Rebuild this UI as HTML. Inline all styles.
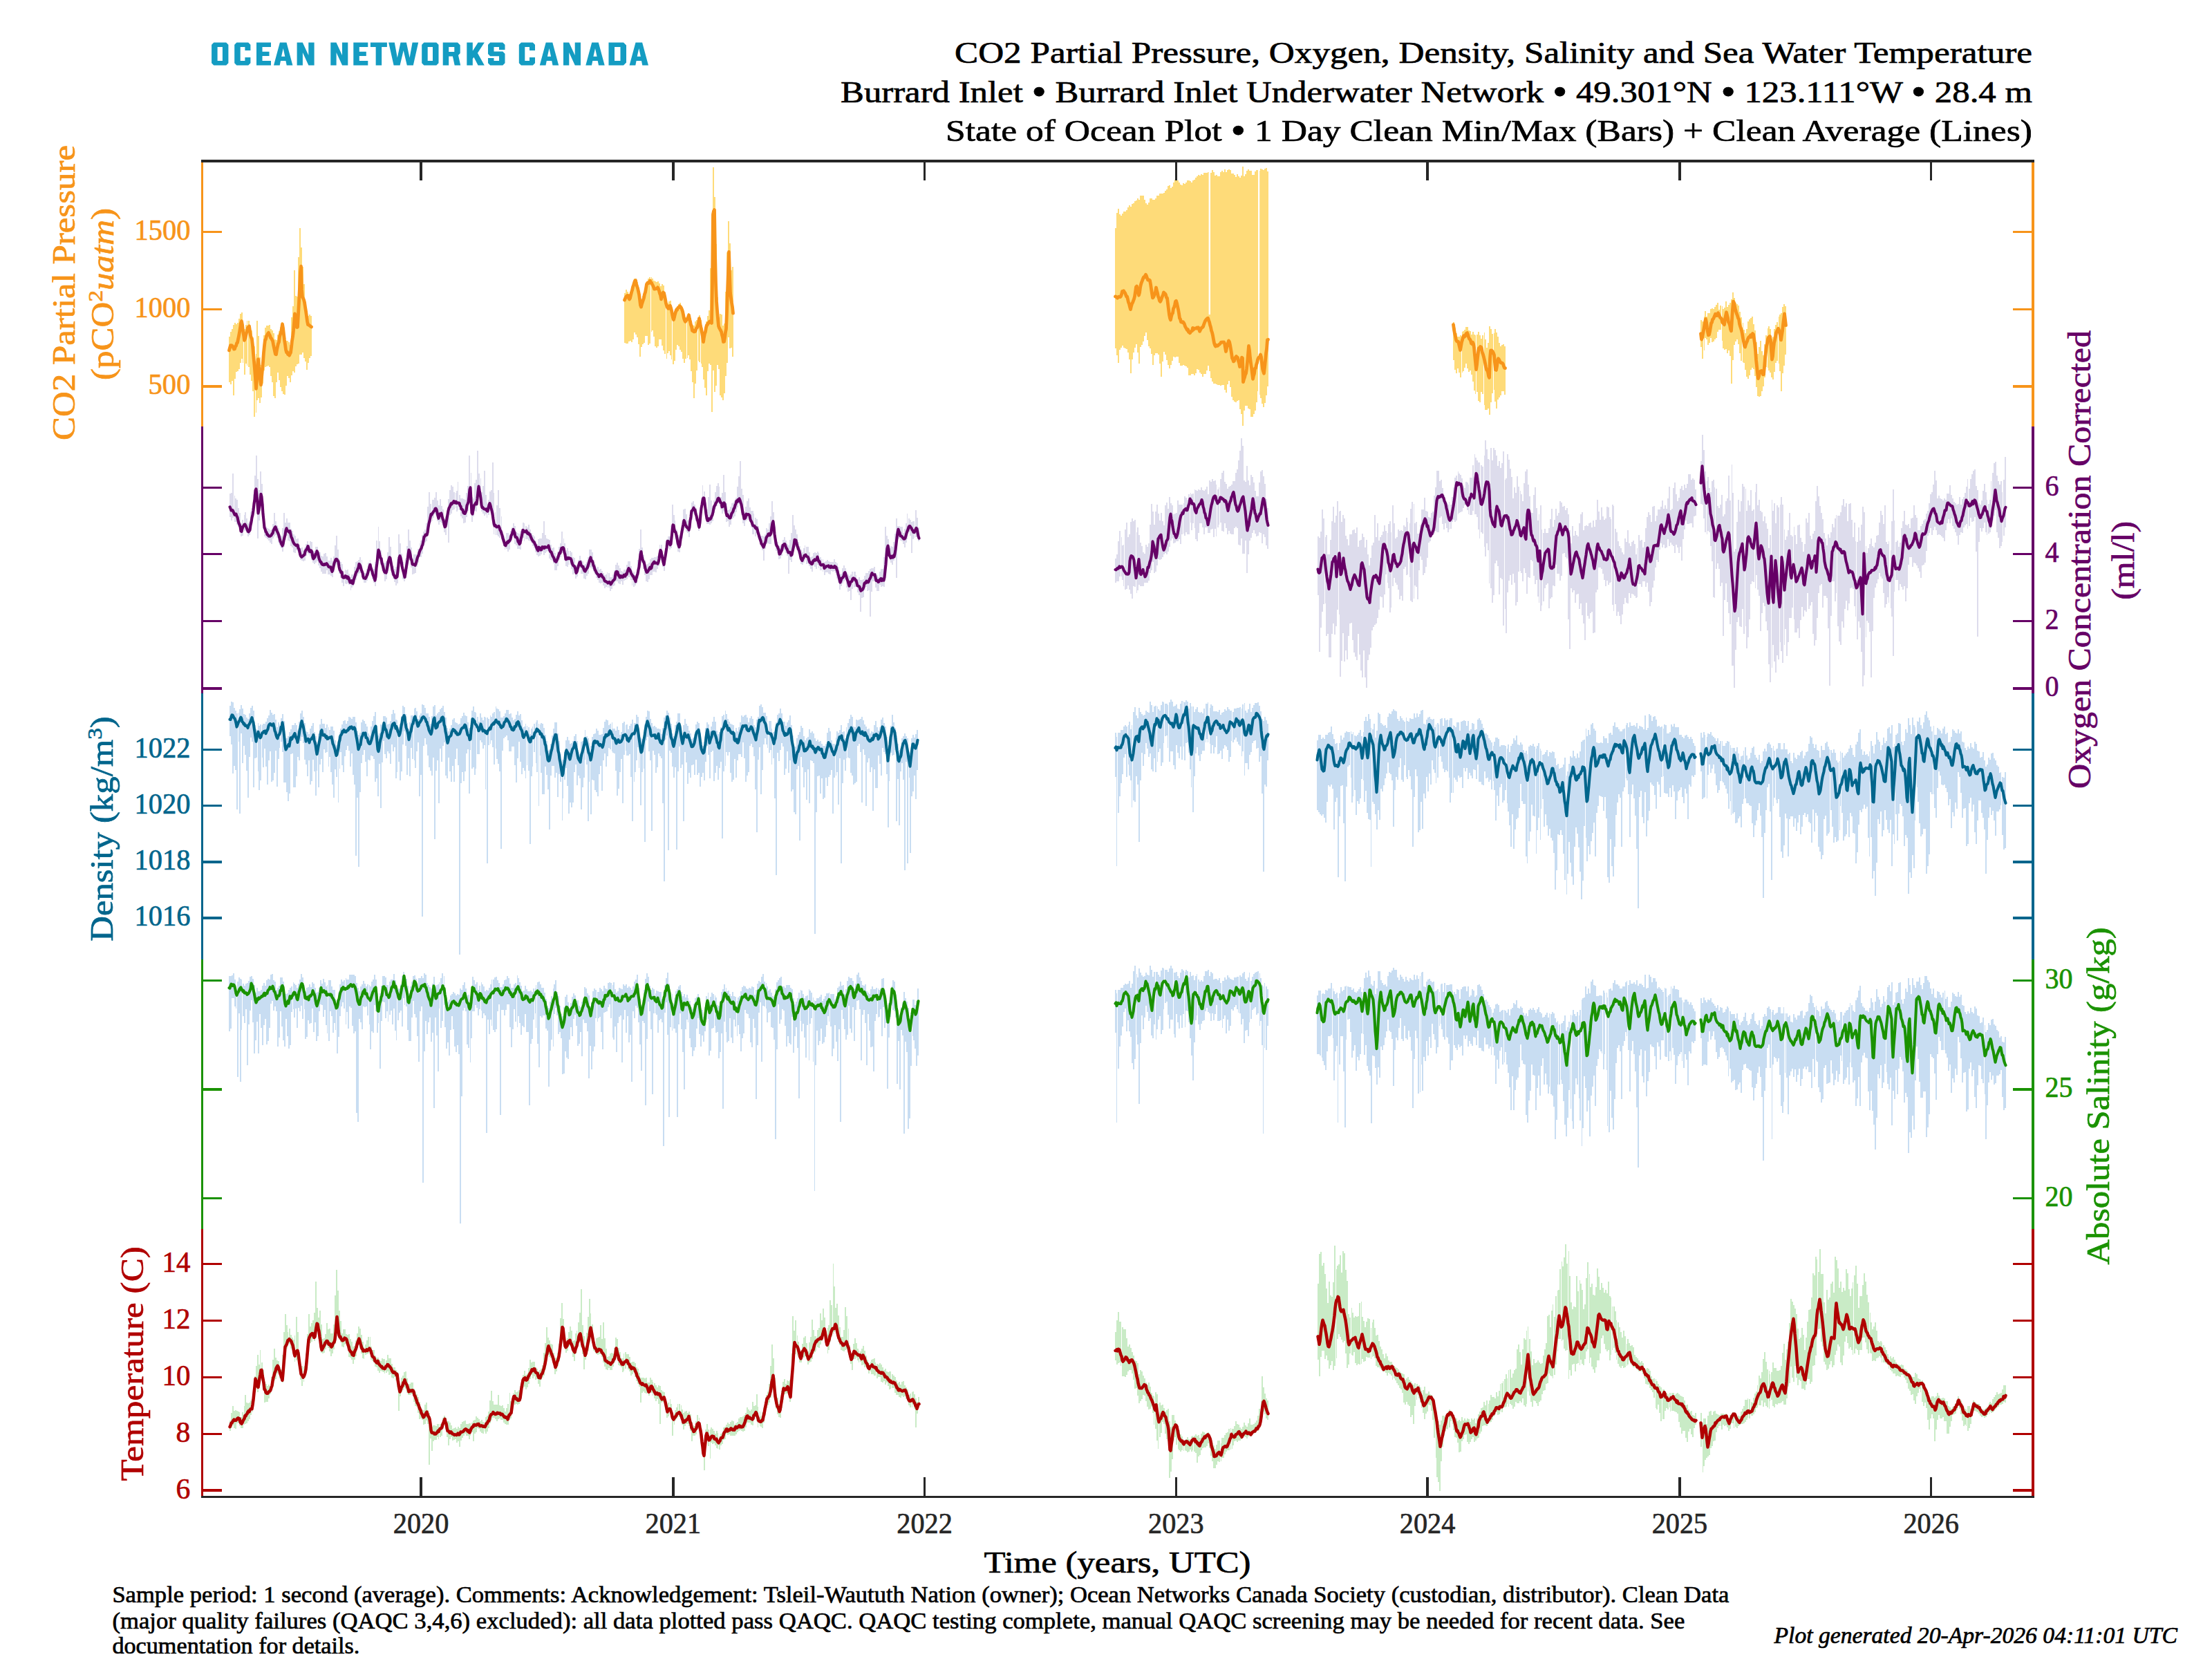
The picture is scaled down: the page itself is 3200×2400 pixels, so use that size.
<!DOCTYPE html>
<html><head><meta charset="utf-8"><title>State of Ocean Plot</title>
<style>html,body{margin:0;padding:0;background:#fff}svg{display:block}text{font-family:"Liberation Serif",serif}</style>
</head><body>
<svg width="3200" height="2400" viewBox="0 0 3200 2400">
<rect width="3200" height="2400" fill="#fff"/>
<path d="M331,487h2v-7h2v-4h2v-6h2v-3h2v2h2v-2h2v-6h2v-7h2v-2h2v13h2v11h2v-6h2v-6h2h2v9h2v5h2v10h2v13h2v11h2v-48h2v22h2v31h2v11h2v-20h2v-23h2v-11h2v-3h2h2v-1h2v6h2v2h2v4h2v9h2v1h2v-8h2v-5h2v-6h2v-7h2v6h2v13h2v8h2h2v2h2v4h2v-40h2v-16h2v-52h2v37h2v1h2v-57h2v-42h2v28h2v28h2v25h2v26h2v14h2v6h2v-2h2v2h2V515h-2v3h-2v7h-2v10h-2v-12h-2v-5h-2v-8h-2v3h-2h-2v13h-2v1h-2v3h-2v9h-2v-2h-2v6h-2v10h-2v-6h-2v-3h-2v14h-2v13h-2v-1h-2v-4h-2v-6h-2v-10h-2v-11h-2v14h-2v23h-2v-3h-2v-20h-2v-9h-2v-13h-2v-2h-2v1h-2v1h-2v5h-2v19h-2v20h-2v8h-2v-7h-2v3h-2v18h-2v6h-2v-37h-2v-15h-2v-9h-2v-11h-2v-2h-2v-3h-2v16h-2v-17h-2v-6h-2v6h-2v9h-2v3h-2v1h-2v10h-2v24h-2v-21h-2v5h-2v-3h-2z M903,424h2v-5h2v3h2v3h2v-3h2v-5h2v-7h2v-7h2h2v5h2v8h2v14h2v4h2v-6h2v-6h2v-8h2v-7h2v-4h2v-2h2h2v2h2v3h2v1h2v1h2v-1h2v3h2v4h2v-3h2v2h2v12h2v11h2v3h2v-3h2v-1h2v10h2v9h2v-4h2v-5h2v-2h2v-3h2v-2h2v4h2v5h2v9h2v3h2v-2h2v-4h2v4h2v7h2v6h2v1h2v-6h2v-2h2v-3h2v-4h2v7h2v11h2v9h2v-9h2v-9h2v-8h2v-8h2v-61h2v-45h2v-101h2v43h2v68h2v77h2v29h2v-5h2v1h2v16h2v-3h2v-46h2v-57h2v-45h2v32h2v39h2v-5h2V516h-2v-13h-2v1h-2v-16h-2v37h-2v19h-2v25h-2v10h-2v-4h-2v-3h-2v-38h-2v-6h-2v30h-2v9h-2v-31h-2v60h-2v-68h-2v-2h-2v11h-2v35h-2v-11h-2v-12h-2v-18h-2v-5h-2v-2h-2v-2h-2v14h-2v19h-2v21h-2v-23h-2v-16h-2v-17h-2v-6h-2v4h-2v1h-2v6h-2v-6h-2v-10h-2v-3h-2v-5h-2v-2h-2v7h-2v16h-2v5h-2v-7h-2v-6h-2v-6h-2v3h-2v8h-2v-7h-2v-5h-2v-7h-2v-9h-2h-2v10h-2v2h-2v-2h-2v-14h-2v-9h-2v2h-2v17h-2v2h-2v-13h-2h-2v10h-2v2h-2v4h-2v14h-2v-18h-2v-10h-2v-4h-2v-3h-2v10h-2v4h-2v-2h-2v1h-2v3h-2h-2v-1h-2z M1613,330h2v-22h2v-6h2v8h2v2h2v-3h2v-3h2h2v-2h2v-4h2v-3h2v2h2v-4h2v-1h2v-3h2v-1h2v-3h2v2h2v-6h2h2h2v6h2v5h2v2h2v-3h2v-6h2h2v2h2h2v-2h2v-4h2h2v-3h2h2h2v-1h2v-3h2v-2h2v-5h2v-1h2v4h2v-2h2v-6h2v-4h2h2v1h2v3h2v3h2v1h2v-3h2v1h2v-2h2v-3h2h2v1h2v2h2v-3h2v-1h2v-3h2v-2h2v-2h2v1h2v-2h2v1h2v-3h2h2h2v-1h2v3h2v-2h2v-4h2v3h2v5h2v-1h2v2h2h2v-6h2v-2h2v2h2v-4h2v4h2v-3h2v-1h2v1h2v5h2h2v2h2v3h2v-4h2v3h2v2h2v-3h2v-13h2v14h2v-3h2v-5h2v-2h2v2h2h2v6h2h2v-5h2v-2h2h2v1h2v-3h2v1h2v1h2v-2h2v-1h2v5h2V559h-2v13h-2v11h-2v6h-2v-5h-2v-8h-2v-5h-2v-5h-2v16h-2v12h-2v5h-2v4h-2h-2v-11h-2v-1h-2v-4h-2h-2v7h-2v22h-2v-17h-2v-7h-2v-13h-2v1h-2v2h-2v-1h-2v-2h-2v-5h-2v-14h-2v-9h-2v5h-2v12h-2v-4h-2v-7h-2h-2v1h-2v-1h-2h-2v-1h-2v-1h-2h-2v-3h-2v-5h-2v-10h-2v-8h-2v7h-2v5h-2h-2v4h-2v-4h-2v-2h-2v-4h-2v-1h-2v6h-2v3h-2v-2h-2h-2v2h-2h-2v-11h-2v-2h-2v-1h-2v-1h-2v1h-2h-2v-4h-2v-9h-2h-2v1h-2v-1h-2v6h-2v6h-2v5h-2v-5h-2v-7h-2v-8h-2v-4h-2v14h-2v22h-2v-19h-2v-13h-2v-2h-2h-2v3h-2v14h-2v-16h-2v-8h-2v-3h-2v-9h-2v-11h-2v5h-2v8h-2v5h-2v3h-2v24h-2v-16h-2v-12h-2v5h-2v7h-2v10h-2v20h-2v-20h-2v-10h-2v-5h-2v-1h-2v-1h-2v-3h-2v3h-2v3h-2v19h-2v-11h-2v-10h-2z M2102,466h2v8h2v8h2v5h2h2v-2h2v-5h2v-1h2v-2h2v-4h2h2v5h2v1h2v5h2v-4h2v4h2v1h2v-1h2v-4h2v5h2v5h2v-5h2v-4h2v10h2v12h2v-7h2v-24h2v4h2v7h2v-1h2v-6h2v5h2v6h2v9h2v5h2v-2h2v-1h2v3h2V571h-2v-5h-2h-2v6h-2v3h-2v3h-2v13h-2v-10h-2v-17h-2v5h-2v13h-2v18h-2v-9h-2v2h-2h-2v-7h-2v-16h-2v-3h-2v15h-2v-2h-2v-13h-2v3h-2v-5h-2v-13h-2v-10h-2v-6h-2v2h-2v-5h-2v-7h-2v6h-2v5h-2v2h-2v7h-2v-7h-2v-6h-2v7h-2v-5h-2v-14h-2z M2460,463h2v2h2v-7h2v-8h2v8h2v-5h2h2v-6h2v-1h2v1h2v-3h2v-3h2v-3h2v10h2v-6h2v1h2v4h2v-2h2v-9h2v8h2v-3h2v-3h2v-5h2v-10h2v8h2v7h2v2h2v2h2v9h2v8h2v8h2v10h2v5h2v-6h2v-11h2v-3h2v-2h2v-2h2v11h2v9h2v17h2v17h2v-10h2v-9h2v15h2v6h2v-16h2v-13h2v-10h2v-3h2v4h2v14h2v-3h2v-11h2v-6h2v-4h2v-8h2v-3h2v-2h2v-9h2v-4h2v3h2V513h-2v16h-2v11h-2v26h-2v-29h-2v-11h-2v-4h-2v3h-2v13h-2v11h-2v-3h-2v-7h-2v-3h-2v-4h-2v-1h-2v15h-2v13h-2v7h-2v7h-2v1h-2v-1h-2v-13h-2v-16h-2v-10h-2v-2h-2v3h-2v8h-2v5h-2v-3h-2v-10h-2v-10h-2v-1h-2v-2h-2v-11h-2v-13h-2v-7h-2v3h-2v5h-2v22h-2v34h-2v-40h-2v-8h-2v4h-2v-6h-2v1h-2v-2h-2v-11h-2v-16h-2h-2v3h-2v9h-2v2h-2v3h-2v1h-2v-6h-2v7h-2v3h-2v-8h-2v-2h-2v18h-2v12h-2v-17h-2z" fill="#FEDB79" shape-rendering="crispEdges"/>
<path d="M352.5,464v62M358.5,463v67M369.5,511v87M379.5,507v49M941.5,400v81M963.5,435v85M972.5,444v76M993.5,456v63M1009.5,459v64M1013.5,462v65M2114.5,479v61M2135.5,484v88M2146.5,480v108M2160.5,481v85M2464.5,457v51M2490.5,442v52M2520.5,466v59M2556.5,474v59M2572.5,457v69" stroke="#fff" stroke-width="1" fill="none" shape-rendering="crispEdges"/>
<rect x="1748.6" y="240" width="2.4" height="215" fill="#fff"/>
<rect x="1820" y="240" width="2.2" height="335" fill="#fff"/>
<path d="M331.5,506.9l1,-3.8l1,-3.5l1,1.5l1,-1.3l1,1.3l1,1.4l1,2.5l1,-.1l1,-3.6l1,-1l1,-3.8l1,-.7l1,-5l1,-4.9l1,-5.4l1,-6.4l1,-6.8l1,-2.7l1,5.2l1,8.9l1,6.1l1,7.6l1,-2.5l1,-3.5l1,-4.5l1,-3.2l1,-4.8l1,-.6l1,-1.5l1,7.1l1,6.5l1,3.1l1,2.8l1,8.7l1,12.1l1,10.7l1,11.5l1,13.9l1,14.2l1,-12l1,-18.7l1,-12l1,10.8l1,7.5l1,11.3l1,7.5l1,-10.9l1,-10.7l1,-11.6l1,-13.5l1,-10.1l1,-8.4l1,-.5l1,-4.8l1,-1.7l1,-2.1l1,-1.1l1,2.3l1,1.7l1,3.4l1,.5l1,2.4l1,1.4l1,5.6l1,4.5l1,4.9l1,4.4l1,.3l1,-6.5l1,-4.7l1,-4.6l1,-2l1,-7.8l1,-3.5l1,-2.9l1,-5.3l1,-6.6l1,5.7l1,9l1,8.2l1,6.5l1,7.5l1,3.9l1,-.5l1,3.3l1,-1.8l1,3.5l1,-2.2l1,-1.9l1,-7.7l1,-9.3l1,-5.9l1,-8.8l1,-11.8l1,-12.7l1,4.4l1,7.2l1,8l1,-.5l1,-18.2l1,-17.8l1,-20.6l1,-23.2l1,-8l1,33.7l1,10.6l1,1.8l1,2.4l1,3.6l1,6.8l1,6l1,7.4l1,7.1l1,5.1l1,.2l1,.9l1,.5l1,1.1l1,.5 M903.5,434.1l1,-2.4l1,-2.2l1,-1.2l1,-.8l1,.1l1,3.4l1,2l1,-1.6l1,-4.1l1,-4.2l1,-3.2l1,-4.6l1,-2.8l1,-3.4l1,-2.9l1,-.5l1,5.4l1,2.8l1,3.1l1,4.2l1,4.7l1,7.4l1,8.2l1,2.6l1,-4.1l1,-3l1,-3.2l1,-2.6l1,-5.7l1,-2.7l1,-5.7l1,-6l1,-1.4l1,-1l1,1l1,-.5l1,-3.1l1,2.7l1,.3l1,2.2l1,1.8l1,2.2l1,2.8l1,0l1,-.4l1,0l1,-.3l1,-1.6l1,2.1l1,2.8l1,4l1,2.4l1,5.8l1,-3.9l1,-4.5l1,-1.4l1,.8l1,4.4l1,5l1,5.6l1,3.3l1,2.6l1,1.3l1,.3l1,-3.5l1,-.6l1,3.1l1,4l1,5.5l1,4.8l1,2.9l1,-3.5l1,-4.5l1,-3.3l1,-3.2l1,.3l1,-2.5l1,-1.3l1,-.5l1,-1.4l1,2.2l1,.4l1,2.3l1,2.9l1,4.8l1,5.3l1,2.9l1,1.8l1,-1.9l1,-.7l1,-1.5l1,-2.3l1,-3.1l1,5.3l1,3.9l1,4.9l1,2.8l1,5.7l1,-.9l1,2.4l1,-.1l1,-.2l1,-2.3l1,-2.6l1,-1l1,-3l1,-3.2l1,-6.9l1,5.1l1,6.1l1,4.4l1,4.9l1,5.9l1,7.7l1,-7l1,-5.1l1,-2.7l1,-6l1,-3.7l1,-.6l1,-2.5l1,.1l1,-2.2l1,1.2l1,-.8l1,2l1,-55.3l1,-101.9l1,-4.9l1,-1.8l1,63.6l1,42.3l1,26.3l1,13.3l1,11.9l1,10.8l1,2.6l1,1.9l1,1.8l1,1.8l1,4.7l1,3.7l1,6.3l1,-.3l1,-5.4l1,-7.9l1,-5.2l1,-24.2l1,-29.8l1,-28.3l1,-29.1l1,33.2l1,26.6l1,7.2l1,6.9l1,5.9l1,9.1 M1613.5,428.9l1,.3l1,.9l1,1.1l1,-1.2l1,-.9l1,.5l1,.1l1,-.9l1,-2.9l1,-4.5l1,.5l1,-1.2l1,1.7l1,1.3l1,2.4l1,2.9l1,-.1l1,4l1,4.5l1,2.4l1,4.3l1,3.5l1,-4.5l1,-3.6l1,-1.7l1,-2.7l1,-2.5l1,-3.7l1,-6.7l1,-7l1,-1.1l1,5.5l1,2.9l1,4.7l1,-3.5l1,-7.6l1,-4.7l1,-3.1l1,-2.4l1,-2.8l1,-2.2l1,.3l1,-2.3l1,-1.6l1,1.9l1,3l1,2.8l1,-.1l1,0l1,.9l1,5.3l1,6.7l1,6.9l1,6.2l1,-.9l1,-2.1l1,-2.6l1,-3l1,-6.3l1,4.4l1,3.5l1,5.2l1,2.2l1,3.7l1,1.4l1,-1.9l1,-3.1l1,-2.7l1,-2.4l1,-3.3l1,1.4l1,.4l1,1.7l1,4.2l1,.3l1,8.3l1,7.9l1,8l1,5.1l1,2.5l1,-5l1,-3.7l1,-1l1,-6.7l1,-1.9l1,-3.4l1,-4.8l1,-1l1,3.1l1,5l1,4.3l1,5.6l1,7l1,1.4l1,4l1,-.2l1,1l1,-.7l1,1.2l1,2.1l1,3.2l1,1.6l1,1.9l1,1.8l1,-1l1,3.8l1,.3l1,1.1l1,-1.8l1,-.8l1,-.5l1,-4.3l1,2.6l1,-1.6l1,-.3l1,-.1l1,.2l1,-1.2l1,1l1,-1.3l1,2.2l1,3.5l1,-2.2l1,-1.6l1,-1.7l1,-.2l1,-1.1l1,-3.1l1,-2.6l1,-2.6l1,-1.5l1,-1.1l1,-1l1,-.5l1,3.1l1,2.5l1,4.5l1,3l1,5.1l1,2.6l1,4.4l1,5.6l1,5.2l1,3.2l1,1.5l1,-1.6l1,.9l1,.2l1,-1l1,-1l1,-.5l1,-1.3l1,-1.5l1,0l1,-.1l1,.2l1,-.3l1,1.8l1,6.2l1,5.6l1,-4.8l1,-5l1,-2.3l1,-3.5l1,1.6l1,4.3l1,5.9l1,6.1l1,7.3l1,1.8l1,3l1,-.8l1,-3.6l1,-1.7l1,-1.3l1,1.1l1,.6l1,5.2l1,2.9l1,5.2l1,-2.1l1,-5.1l1,-6.1l1,.7l1,34.7l1,-3.9l1,-2.7l1,-4l1,-1.8l1,-6.6l1,-10.2l1,-10.7l1,-12.2l1,6.4l1,10.7l1,7.4l1,7l1,8.1l1,8.2l1,-4.7l1,-3.1l1,-7.6l1,-.2l1,-4.9l1,-2.9l1,-4.8l1,-2.3l1,-1.1l1,-.3l1,-3.4l1,3.4l1,8.3l1,8.9l1,3.7l1,2.9l1,-8.6l1,-9.9l1,-10.5l1,-6.8l1,-12.9l1,-.2 M2102.5,469.7l1,7.3l1,5.6l1,4.1l1,5.2l1,1.8l1,.3l1,.2l1,3.7l1,4.2l1,4.4l1,-5.5l1,-5.9l1,-3.3l1,-4l1,-2.1l1,1.5l1,-.9l1,-2.5l1,-1.7l1,-.5l1,2.4l1,3.5l1,2.6l1,.8l1,2.1l1,3.9l1,.7l1,-2.4l1,2.2l1,5.4l1,11.3l1,9.9l1,10.6l1,-6.6l1,-10.3l1,-7.9l1,-6.2l1,-.4l1,-1.7l1,.4l1,2.4l1,5.9l1,2.6l1,3.8l1,4.1l1,4.8l1,5.5l1,3.8l1,1l1,2.5l1,5.8l1,2.3l1,-27.7l1,-11.6l1,-.3l1,.7l1,1.2l1,2.1l1,2.7l1,11.1l1,10.3l1,.5l1,-5.5l1,-7.6l1,-3.6l1,1.3l1,2l1,2l1,.9l1,.1l1,.3l1,1.6l1,3.2l1,2.3l1,.1 M2460.5,482.6l1,8.4l1,-2.3l1,-5.3l1,-5.5l1,-5.8l1,-5.9l1,-4.8l1,4.6l1,7.8l1,6.4l1,4.7l1,-.7l1,-4.4l1,-6.2l1,-6.1l1,-1l1,-4.4l1,-.7l1,-2.1l1,-2.2l1,-2.8l1,1.5l1,.8l1,-.2l1,-3.8l1,2l1,2.7l1,2.1l1,.9l1,.8l1,4.8l1,1.7l1,.1l1,2.1l1,-8.2l1,-5.2l1,-4.6l1,4.1l1,4l1,6.2l1,1.3l1,3.1l1,5.8l1,2.5l1,-15.6l1,-16l1,-11.1l1,1.7l1,5.6l1,4l1,3.6l1,3.2l1,2.7l1,3.5l1,1.3l1,6.9l1,3.6l1,2.8l1,3.4l1,5l1,6l1,5l1,5.5l1,2.1l1,-3.6l1,-2.6l1,-2l1,-3.5l1,-1.9l1,-1.2l1,.4l1,-2.8l1,2.7l1,-2.9l1,-2l1,1.2l1,5.8l1,7.3l1,9.1l1,14.4l1,9.5l1,9.7l1,8l1,-3.2l1,-6l1,-1.1l1,-.7l1,-.1l1,2.8l1,2.5l1,-.1l1,-11.1l1,-12l1,-9l1,-8.7l1,-4l1,-6.1l1,-3.1l1,.5l1,-1.7l1,6.1l1,14.9l1,12.6l1,-4.6l1,-11.3l1,-8.3l1,-3.8l1,-4.7l1,-6l1,-2.3l1,-1.5l1,-2.4l1,2.2l1,4.3l1,3.6l1,6.6l1,-6.8l1,-5.9l1,-9.4l1,-8.1l1,-7.9l1,8.3l1,8.6" fill="none" stroke="#F7941A" stroke-width="4.8" stroke-linejoin="round" stroke-linecap="round"/>
<path d="M332,714h2v-1h2v-28h2v32h2v4h2v2h2v12h2v7h2v15h2v-5h2v-7h2v-4h2v9h2v7h2v-2h2v-15h2v-5h2v-20h2v-27h2v-29h2v34h2v16h2v-27h2v18h2v29h2v28h2v5h2v2h2v1h2v2h2v-1h2v-8h2v-16h2v12h2v6h2v4h2v9h2v2h2v-11h2v-22h2v14h2v-6h2v6h2h2v9h2v3h2v5h2v2h2v5h2v-1h2v9h2v5h2v-1h2v4h2v-4h2v-5h2v-4h2v5h2v-5h2v1h2v13h2h2v-6h2h2v7h2v1h2v5h2v1h2v-4h2v-1h2v5h2v6h2h2v-4h2v4h2v-6h2v-16h2v-14h2v20h2v14h2v4h2v3h2v10h2v-2h2v1h2v-1h2v6h2v4h2v-3h2h2v-11h2v-7h2v-1h2v-2h2v-4h2v4h2v11h2v8h2h2v-6h2v-9h2v-4h2v5h2v6h2v2h2v-10h2v-31h2v-20h2v21h2v13h2v11h2v7h2h2v-2h2v-13h2v-22h2v14h2v17h2v11h2v4h2v-3h2v-11h2v-36h2v13h2v15h2v12h2v12h2v-17h2v-18h2v-24h2v16h2v10h2v15h2v-5h2h2h2v-8h2v-8h2v-4h2v-8h2v-5h2v-3h2v-9h2v-24h2v-21h2v17h2v-6h2h2v-3h2v-8h2v12h2v7h2v-9h2v10h2v5h2v13h2v-3h2v-10h2v-15h2v-13h2v-7h2v2h2v8h2v1h2v-3h2v-13h2v19h2v5h2h2v1h2v1h2v-10h2v-10h2v-44h2v25h2v35h2v2h2v-22h2v-5h2v-42h2v33h2v7h2v20h2v-9h2v-22h2v35h2v11h2v-4h2v-12h2v-2h2v-40h2v44h2v28h2v-10h2v-22h2v26h2v12h2v22h2v6h2v2h2v-6h2h2v4h2v-7h2v-5h2v-6h2v4h2v8h2v2h2v1h2v-4h2v-3h2v-9h2v1h2v4h2v2h2v-4h2v7h2v5h2v3h2v2h2v6h2v5h2v-7h2v-1h2h2v-8h2v-17h2v20h2v5h2v1h2v1h2v7h2v5h2v-1h2v8h2v4h2v-6h2v-7h2v-5h2v-17h2v10h2v7h2v10h2v-3h2v4h2h2v2h2v7h2v1h2v10h2h2v-7h2v-6h2v6h2v2h2v5h2v-1h2v-3h2v-7h2v-11h2h2v4h2v11h2v6h2v5h2v-1h2v4h2v-1h2v3h2v3h2v3h2v-1h2v-3h2v1h2v6h2h2v-4h2v-6h2v-8h2v-3h2v4h2v4h2v4h2v1h2v-3h2h2v-7h2v-5h2h2v7h2v6h2v2h2v5h2v-4h2v-18h2v-16h2v-28h2v26h2v11h2v7h2v8h2v-2h2v-2h2v-5h2v-2h2h2v-1h2h2v-2h2v-3h2v-13h2h2v14h2v3h2v-12h2v-13h2v-4h2h2v-16h2v-30h2v15h2v8h2v13h2v8h2v2h2v-8h2v-15h2v-16h2v-1h2v8h2v9h2h2v-11h2v-15h2v-2h2v5h2v5h2v7h2v7h2v-10h2v-19h2v-18h2v9h2v16h2v10h2v-18h2v-18h2v23h2v8h2v-8h2v-12h2v-9h2v-4h2v5h2v15h2v-6h2v-26h2v25h2v16h2v10h2v-1h2v-4h2v-5h2v-1h2v-3h2v-4h2v-16h2v-15h2v-22h2v40h2v9h2v24h2v-7h2v-8h2v-4h2v13h2v5h2h2v4h2v6h2v2h2v10h2v8h2v6h2h2v1h2v-3h2v-9h2v2h2v-9h2v-10h2v-22h2v16h2v21h2v17h2v5h2v6h2v-1h2v-1h2v-7h2v-4h2v5h2v5h2v2h2v-8h2v-10h2v-26h2v15h2v6h2v7h2v11h2v6h2v5h2v4h2v-6h2v-4h2v2h2h2v8h2v7h2v-1h2v-5h2v-1h2v1h2v-2h2v2h2v6h2v3h2h2v4h2v-1h2v-2h2v2h2v1h2h2h2v-4h2v4h2v2h2v5h2v10h2h2v-8h2v-4h2v4h2v6h2v3h2v2h2v-2h2v-4h2h2h2v5h2v6h2v-3h2v4h2h2v-1h2v-5h2v-4h2h2v-3h2v-3h2v-1h2h2v-2h2v9h2v3h2v3h2v-8h2v-4h2h2v-17h2v-44h2v13h2v5h2v13h2v-3h2v1h2v-7h2v-12h2v-22h2v11h2h2v1h2h2v9h2v-6h2v-8h2v-14h2v7h2v2h2v3h2v-1h2h2v-16h2v11h2v14h2V783h-2v-6h-2h-2v1h-2v2h-2v20h-2v-25h-2v-5h-2v10h-2v5h-2v7h-2v-5h-2v-4h-2v-1h-2v-3h-2v1h-2v56h-2v-31h-2v6h-2v6h-2v-3h-2v-3h-2v-11h-2v7h-2v23h-2v19h-2v-1h-2v1h-2v-3h-2v9h-2h-2v-5h-2v-9h-2h-2v15h-2v36h-2v-38h-2v1h-2v-6h-2v5h-2v10h-2v1h-2v20h-2v-24h-2v-4h-2v-8h-2h-2v1h-2v2h-2v16h-2v-13h-2v1h-2v-6h-2v-12h-2v3h-2v3h-2v4h-2v5h-2v-10h-2v-6h-2v-8h-2v-3h-2v1h-2v-1h-2v5h-2v-1h-2v-2h-2h-2v4h-2v-5h-2v-2h-2h-2v-3h-2v-5h-2v6h-2v-3h-2v-2h-2v9h-2v-4h-2v-4h-2v-4h-2v1h-2v-5h-2v3h-2v3h-2v-1h-2v-10h-2v-5h-2v-5h-2v-5h-2v2h-2v10h-2v10h-2v-3h-2v20h-2v-26h-2v-4h-2v-4h-2v1h-2v7h-2v4h-2v1h-2v-9h-2v-3h-2v-8h-2v-20h-2v2h-2v16h-2h-2v-1h-2v1h-2v7h-2v17h-2v-15h-2v-5h-2v-7h-2v-5h-2v-8h-2v5h-2v-3h-2h-2v-10h-2v-8h-2v-5h-2v2h-2v2h-2v7h-2v-4h-2v-12h-2v-13h-2v-3h-2v5h-2v7h-2v6h-2v2h-2v2h-2v8h-2v3h-2v-8h-2v1h-2v-15h-2h-2v3h-2v-6h-2v-5h-2v-4h-2v4h-2v5h-2v5h-2v12h-2v3h-2v2h-2v-1h-2h-2v-10h-2v-16h-2v-1h-2v11h-2v19h-2v7h-2v-6h-2v-8h-2v-9h-2v-2h-2v9h-2v13h-2v12h-2v-6h-2v-2h-2v-5h-2v3h-2v12h-2v11h-2v9h-2v-1h-2v-10h-2v-8h-2v-10h-2v2h-2v21h-2v2h-2v-5h-2v5h-2v15h-2v16h-2v-6h-2v-9h-2v-3h-2v11h-2v4h-2v5h-2v-1h-2h-2v5h-2h-2v6h-2v4h-2v-1h-2v-9h-2v-9h-2v-8h-2v-6h-2v15h-2v13h-2v7h-2v3h-2v2h-2v-2h-2v-8h-2v-4h-2h-2v3h-2v1h-2v1h-2v6h-2v-5h-2v4h-2v-1h-2v-3h-2h-2v6h-2v1h-2v4h-2v3h-2v-5h-2h-2v-1h-2v2h-2v-4h-2v-4h-2v1h-2v-1h-2v-4h-2v-3h-2v-5h-2v-4h-2v-4h-2v-2h-2h-2v9h-2v3h-2v5h-2v-1h-2v-7h-2h-2v-8h-2v5h-2v7h-2v3h-2v-8h-2v2h-2v-8h-2v-6h-2h-2v3h-2v-1h-2v-9h-2v-10h-2h-2v6h-2v4h-2v9h-2v6h-2h-2v-10h-2v-4h-2v-1h-2v-2h-2v-11h-2v1h-2v2h-2v3h-2v-5h-2v4h-2v2h-2v1h-2v-2h-2v-4h-2v-6h-2v-3h-2v-5h-2v-2h-2v-1h-2v-2h-2h-2v3h-2v-5h-2v5h-2v12h-2v-1h-2h-2v-5h-2v-2h-2v-11h-2v2h-2v6h-2v11h-2v3h-2v-4h-2v1h-2v-5h-2v-6h-2v-7h-2v1h-2v-2h-2v-2h-2h-2v-1h-2v-13h-2v-15h-2v-6h-2v6h-2v4h-2v-5h-2v2h-2v-3h-2v-3h-2v-10h-2v-13h-2v10h-2v13h-2v-1h-2v8h-2v8h-2v-28h-2v-1h-2v13h-2v9h-2v8h-2v1h-2v-7h-2v-3h-2v-9h-2h-2v2h-2v-5h-2v2h-2v1h-2v5h-2v2h-2v40h-2v-25h-2v14h-2v-4h-2v-10h-2v-3h-2v-2h-2v4h-2v-5h-2v-8h-2v-2h-2v5h-2v5h-2v2h-2v7h-2v12h-2v8h-2v2h-2v5h-2v11h-2v5h-2h-2v8h-2v6h-2v9h-2v1h-2v1h-2v-10h-2v-13h-2v1h-2v14h-2v13h-2v5h-2v-3h-2v-14h-2v-12h-2v8h-2v24h-2v3h-2v-5h-2v-5h-2v-5h-2v-13h-2v-3h-2v13h-2v9h-2v3h-2v-9h-2v-6h-2v-9h-2v-5h-2v-3h-2v22h-2v17h-2v-5h-2v-5h-2v-7h-2v-6h-2v8h-2v7h-2v3h-2h-2v-4h-2v-4h-2v-6h-2v1h-2v3h-2v6h-2v4h-2v5h-2v2h-2v4h-2v-8h-2v-2h-2v1h-2v-1h-2v4h-2v-5h-2v-7h-2v-6h-2v-11h-2v-2h-2v1h-2v10h-2v7h-2v-2h-2v-2h-2h-2v-6h-2v5h-2h-2h-2v-3h-2v-5h-2v-4h-2v-6h-2v2h-2v2h-2v-2h-2v-4h-2v-5h-2v-3h-2v-2h-2v4h-2v7h-2v1h-2v-1h-2v-1h-2v-7h-2v-6h-2v-1h-2v4h-2v-1h-2v-7h-2v-2h-2v-7h-2v-1h-2v-7h-2v6h-2v10h-2v7h-2v-5h-2v-4h-2v-4h-2v-7h-2v-4h-2v2h-2v3h-2v8h-2v-2h-2v-3h-2v-2h-2v-2h-2v-2h-2v-20h-2v-24h-2v-5h-2v26h-2v26h-2v-59h-2v5h-2v18h-2v11h-2v12h-2v8h-2v2h-2v-5h-2v-3h-2h-2v7h-2v1h-2v-9h-2v-5h-2v-3h-2v-4h-2h-2v-6h-2v4h-2v-5h-2z M1613,808h2v-6h2v-19h2v-15h2v9h2v12h2v-1h2v-22h2v-10h2v21h2v-4h2v-18h2v-5h2v4h2v-2h2v18h2v-7h2v11h2v11h2v5h2v9h2v2h2v-13h2v3h2v-5h2v-27h2v-30h2v11h2v19h2v-19h2v-10h2v13h2v10h2v-11h2v12h2v6h2v-29h2v-4h2v9h2v-17h2v9h2v3h2v13h2v-1h2v-1h2v-18h2v6h2h2h2v-2h2v-10h2v2h2v3h2v-8h2v-2h2v2h2v-1h2v-6h2v1h2v1h2v-2h2v1h2v-4h2v4h2v1h2v-2h2v-4h2v11h2v-20h2v2h2v-4h2v3h2v-1h2v6h2v7h2v-3h2v-12h2v-9h2v-3h2v16h2v3h2v7h2v-3h2v-1h2v-2h2v-5h2h2v-12h2v-5h2v-13h2v-14h2v-18h2v11h2v50h2v2h2v-23h2v21h2v7h2v-15h2v3h2v8h2v12h2v8h2h2v-20h2v-16h2v-2h2v9h2v11h2v22h2v13h2V794h-2v-5h-2v-12h-2v-4h-2v13h-2v-15h-2v-1h-2v5h-2v1h-2v-4h-2v-5h-2v4h-2v7h-2v4h-2v20h-2v27h-2v-47h-2v19h-2h-2v-22h-2v10h-2v-1h-2v-24h-2v-2h-2v2h-2v9h-2h-2v-1h-2v-4h-2v5h-2v-9h-2v-7h-2v12h-2v-1h-2v-12h-2v3h-2v4h-2v13h-2v-11h-2v12h-2v-12h-2v1h-2v5h-2h-2v-8h-2h-2v10h-2v-10h-2v-6h-2h-2v14h-2v12h-2v-3h-2v-16h-2v-7h-2v10h-2v-11h-2v17h-2h-2v-3h-2v5h-2v-3h-2v1h-2v14h-2v-7h-2v3h-2h-2v2h-2v1h-2v-7h-2v3h-2v9h-2v7h-2v4h-2v-2h-2v2h-2v4h-2v3h-2v1h-2v-1h-2v9h-2v9h-2v2h-2v-16h-2v12h-2v4h-2v11h-2v3h-2h-2h-2v5h-2h-2h-2v-2h-2v8h-2v4h-2v-9h-2v-1h-2v18h-2v-7h-2v-6h-2v-6h-2v5h-2v1h-2v-5h-2v-9h-2v-5h-2h-2v7h-2h-2v2h-2z M1906,776h2v2h2v-9h2v-32h2v13h2v27h2v-3h2v28h2h2v-21h2v-27h2v-21h2v23h2v-10h2v-21h2v15h2v-1h2v16h2v-10h2v5h2v25h2v5h2v9h2v-16h2h2v-6h2v-1h2v5h2v-8h2v28h2v-9h2v-1h2v-9h2v5h2v15h2v-11h2v21h2v16h2v-11h2v-18h2v-4h2v-40h2v32h2v-20h2v25h2v-5h2v-3h2v-5h2v-9h2v8h2v3h2v-13h2v-4h2v16h2v-39h2v26h2v22h2v-2h2v-11h2v2h2v-1h2v1h2v-8h2v2h2v-13h2v6h2v2h2v-21h2v-10h2v3h2v28h2v-2h2v17h2h2v-13h2v-22h2h2v-17h2v19h2v1h2v8h2v1h2v-7h2v-2h2v-23h2v-12h2v-24h2h2v15h2v-2h2v12h2v10h2v8h2v3h2v3h2v-4h2v4h2v-11h2v-14h2v-14h2v-3h2v-6h2v3h2v2h2v5h2v10h2v4h2v-9h2v1h2v3h2v-10h2h2v-18h2v-16h2v5h2v4h2v3h2h2v4h2v2h2v-16h2v-22h2v13h2v14h2v1h2v-17h2v18h2v-18h2v3h2v8h2v15h2v-7h2v10h2v-7h2v-17h2v41h2v-2h2v-35h2v8h2v13h2v12h2v31h2v-16h2v8h2v-24h2v15h2v6h2v5h2v10h2v-26h2v-17h2v-3h2v22h2v17h2v24h2h2v-26h2v-11h2v30h2v18h2v-9h2v-13h2v35h2v5h2v-6h2v6h2h2v-7h2v-13h2v-15h2v26h2v-10h2v-16h2v10h2v-4h2v-17h2v2h2v6h2v-1h2v6h2v-3h2v9h2v23h2v19h2v-25h2v14h2v-7h2v6h2v2h2v-19h2v-13h2v-3h2v26h2v-6h2v-1h2v1h2v-4h2v-1h2v7h2v-10h2v9h2v-10h2v-29h2v17h2v12h2v-18h2v13h2v5h2v-2h2v-17h2v1h2v14h2v3h2v-21h2v2h2v33h2v5h2v13h2v7h2v3h2v6h2v3h2v-23h2v5h2v-17h2v19h2v4h2v-6h2v-2h2v5h2v15h2v-9h2v-19h2v8h2v-1h2v11h2v-8h2v-20h2v-16h2v-7h2v4h2v10h2v-22h2v-1h2v22h2v-8h2v-9h2h2v-4h2v-9h2v12h2v-5h2v5h2v-15h2v-17h2v34h2v-2h2v-30h2v-8h2v17h2v10h2v-5h2v-13h2v-4h2v6h2v-8h2v5h2v-6h2v-14h2h2v8h2v-2h2v2h2v14h2V746h-2v1h-2v16h-2v-6h-2h-2v1h-2h-2v-5h-2v13h-2v14h-2v31h-2v-20h-2v9h-2v-8h-2v-4h-2v12h-2v-10h-2v-2h-2v-3h-2v5h-2v-10h-2v12h-2v1h-2v-5h-2v4h-2v-6h-2v9h-2v18h-2v-3h-2v11h-2v19h-2v10h-2v21h-2v6h-2v-21h-2v-13h-2v6h-2v-8h-2h-2v8h-2v-4h-2h-2v19h-2v1h-2v-3h-2v-2h-2v-1h-2v6h-2v-7h-2v15h-2v-1h-2v-7h-2v9h-2v15h-2v14h-2v-12h-2v-6h-2v6h-2v-17h-2v10h-2v-9h-2v-33h-2v1h-2v3h-2v-6h-2v8h-2v-9h-2v-9h-2v-7h-2v-2h-2h-2v32h-2v4h-2v58h-2v1h-2v-31h-2v2h-2v8h-2v-4h-2v-19h-2v54h-2v-24h-2v-12h-2v-17h-2v8h-2v-22h-2v1h-2v12h-2v-18h-2v3h-2v-6h-2v88h-2v-43h-2v-88h-2v-2h-2v-6h-2v1h-2v32h-2v7h-2v-10h-2h-2v-13h-2v31h-2v-1h-2v17h-2v2h-2v14h-2v-36h-2v2h-2v5h-2v19h-2v6h-2v8h-2v-12h-2v-9h-2v-24h-2v6h-2v-12h-2v-21h-2v-2h-2v26h-2v-1h-2v24h-2v-30h-2v-7h-2v19h-2v-12h-2v-3h-2v1h-2v44h-2v5h-2v-33h-2v-13h-2v16h-2v-14h-2v8h-2v17h-2v59h-2v-35h-2v24h-2v-67h-2v-2h-2v24h-2v-41h-2v-8h-2v4h-2v46h-2v11h-2v-21h-2v-7h-2v-48h-2v-10h-2v19h-2v-14h-2v-19h-2v-2h-2v9h-2v-13h-2v-18h-2v-4h-2h-2v-5h-2v6h-2h-2v-1h-2v-6h-2v-7h-2h-2v4h-2v5h-2v1h-2v1h-2v2h-2v9h-2v2h-2v-3h-2v3h-2v10h-2v1h-2v4h-2v-6h-2v-7h-2v9h-2v-8h-2v-11h-2v2h-2v21h-2h-2v-2h-2v4h-2v1h-2v3h-2v7h-2v2h-2v22h-2v13h-2v9h-2v3h-2v-22h-2v-5h-2v20h-2v42h-2v-18h-2v-2h-2v19h-2v5h-2v-2h-2v-34h-2v-4h-2v1h-2v-12h-2v3h-2v46h-2v-7h-2v5h-2v-14h-2v-7h-2v-3h-2v-7h-2v12h-2v31h-2v7h-2v-35h-2v-8h-2v-12h-2v29h-2v19h-2v-15h-2v-1h-2v19h-2v12h-2v8h-2v2h-2v3h-2v5h-2v25h-2v10h-2v8h-2v40h-2v-15h-2v-39h-2v39h-2v-10h-2v-23h-2v-30h-2v38h-2v-5h-2v-6h-2v-18h-2v-25h-2v1h-2v18h-2v34h-2v-13h-2v16h-2v-41h-2v40h-2v23h-2v-90h-2v-7h-2v24h-2v12h-2v-16h-2v15h-2v34h-2h-2v-34h-2v3h-2v-47h-2v1h-2v11h-2v23h-2v35h-2v-82h-2z M2460,667h2v-38h2v22h2v31h2v14h2v-6h2v16h2v6h2v-16h2v-2h2v11h2v2h2v25h2v3h2v-5h2v-14h2v31h2v-3h2v-19h2v-4h2v-33h2v36h2v-52h2v41h2v85h2v-4h2v-39h2v-32h2v17h2v-15h2v-25h2v4h2v3h2v32h2v-15h2v7h2v-22h2v30h2v-2h2v-25h2v-12h2v31h2v-8h2v16h2v2h2v13h2v-7h2v10h2v8h2v28h2v-19h2v-51h2v16h2v-11h2v29h2v-26h2v3h2v-4h2v-11h2v11h2v36h2v15h2v-5h2v-9h2v-25h2v32h2v2h2v-14h2v12h2v13h2v-27h2v-1h2v19h2v6h2v14h2v-11h2v-37h2v6h2v-14h2v33h2v5h2v-8h2v-4h2v-43h2v-22h2v15h2v14h2v10h2v9h2v20h2v8h2v10h2v-16h2v5h2v-8h2v-12h2v5h2v-13h2v-5h2v1h2h2v-5h2v-10h2v-9h2v11h2v-5h2v26h2v-25h2v-1h2v24h2v25h2v-21h2v27h2v1h2v-21h2v19h2v-23h2v-26h2v8h2v49h2v10h2v-7h2v-6h2v-8h2v11h2v2h2v-7h2v-10h2v-1h2v-18h2v-17h2v6h2v13h2v-27h2v53h2v3h2v-4h2v13h2v-42h2v-46h2v45h2v31h2v-2h2v9h2v-6h2v-21h2v-10h2v-15h2v20h2v1h2v-2h2v6h2v-14h2v-1h2v-18h2v14h2v4h2v18h2h2v-6h2v-3h2v-5h2v-2h2v-8h2v-4h2v-11h2v-13h2v-3h2v-11h2v-20h2v14h2v26h2v-4h2v4h2v1h2v2h2v-3h2v2h2v-9h2h2v-12h2v14h2v5h2v5h2v2h2v2h2v-1h2v-10h2v11h2v-8h2v-3h2v-6h2v-9h2v-11h2v14h2v-14h2v-7h2v-5h2v-2h2v24h2v6h2v19h2v2h2v-6h2v-14h2v-10h2v12h2v11h2v6h2v-6h2v-27h2v-12h2v-14h2v-2h2v20h2v8h2v5h2v-5h2v16h2v-18h2v-33h2V763h-2v12h-2v9h-2v6h-2v3h-2v-15h-2v-8h-2v-32h-2v8h-2v7h-2v12h-2v5h-2v2h-2v2h-2v-4h-2v-14h-2v8h-2v5h-2v-5h-2v20h-2v137h-2v-123h-2v-50h-2v6h-2v1h-2v-6h-2v12h-2v4h-2v-7h-2v2h-2v3h-2v8h-2v-1h-2v4h-2v14h-2v-13h-2v-5h-2v-5h-2v-4h-2v-11h-2v7h-2v-6h-2v6h-2v10h-2v16h-2v-5h-2v-2h-2v-2h-2v-1h-2v1h-2v-7h-2v-5h-2v5h-2v7h-2v-10h-2v7h-2v4h-2v22h-2v17h-2v3h-2v1h-2v18h-2v-9h-2v-5h-2v-4h-2v-3h-2v-1h-2v6h-2v-14h-2h-2v11h-2v34h-2v19h-2v-22h-2v5h-2v-4h-2v-4h-2v9h-2v-15h-2h-2v17h-2v93h-2v-57h-2v-12h-2v-8h-2v-8h-2v10h-2v5h-2v-21h-2v-21h-2v-3h-2v-5h-2v9h-2v6h-2v6h-2v15h-2v48h-2v67h-2v-66h-2v-13h-2v-3h-2v24h-2v55h-2v16h-2v-50h-2v-35h-2v-9h-2v26h-2v-33h-2v-15h-2v-25h-2v-2h-2v1h-2v22h-2v10h-2v-14h-2v12h-2v27h-2v-9h-2v34h-2v-5h-2v-22h-2v-48h-2v12h-2v-29h-2h-2v50h-2v101h-2v-83h-2v-44h-2v-3h-2h-2v17h-2v-34h-2v2h-2v11h-2v36h-2v32h-2v8h-2v-17h-2v-46h-2v5h-2v5h-2v-23h-2v27h-2v-2h-2v9h-2v-14h-2v19h-2v26h-2v-14h-2v6h-2h-2v-19h-2v-17h-2v15h-2h-2v35h-2v20h-2v-39h-2v23h-2v26h-2v-17h-2v-13h-2v25h-2v-6h-2v25h-2v-16h-2v-24h-2v33h-2v21h-2v-26h-2v-49h-2v-13h-2v-22h-2v-5h-2v15h-2v26h-2v-51h-2v-9h-2v-21h-2v19h-2v-9h-2v-1h-2v4h-2v51h-2v26h-2v16h-2v-32h-2v11h-2v-36h-2v26h-2v-1h-2v-13h-2v7h-2v40h-2v55h-2v-32h-2h-2v-60h-2v-16h-2v-16h-2v-27h-2v24h-2v52h-2v-77h-2v5h-2v-25h-2v-8h-2v8h-2v42h-2v-1h-2v-52h-2v-22h-2v-20h-2v-2h-2v5h-2v-3h-2v-20h-2v-20h-2v-1h-2z" fill="#DDDCEC" shape-rendering="crispEdges"/>
<path d="M338.5,716v40M352.5,744v25M498.5,823v22M506.5,833v22M522.5,809v27M525.5,820v19M534.5,809v16M546.5,761v49M554.5,813v20M567.5,807v26M606.5,785v22M624.5,722v33M646.5,736v25M658.5,712v24M663.5,696v43M680.5,683v45M694.5,691v40M705.5,726v24M715.5,712v62M717.5,740v35M724.5,746v33M731.5,776v20M759.5,756v28M814.5,778v23M823.5,796v23M879.5,827v24M915.5,824v23M955.5,787v22M977.5,752v29M1009.5,741v22M1017.5,701v30M1041.5,703v30M1091.5,742v33M1165.5,788v24M1185.5,799v24M1189.5,808v18M1191.5,808v20M1234.5,826v25M1239.5,831v19M1286.5,792v20M1313.5,742v39M1323.5,753v26M1621.5,776v59M1626.5,787v62M1643.5,769v90M1711.5,727v46M1721.5,712v45M1727.5,707v57M1760.5,700v77M1764.5,704v57M1916.5,776v98M1936.5,739v151M2006.5,770v75M2013.5,769v111M2037.5,754v79M2038.5,756v80M2044.5,728v139M2097.5,725v42M2108.5,681v65M2125.5,700v46M2132.5,656v89M2141.5,668v111M2146.5,658v135M2155.5,664v181M2176.5,693v190M2198.5,709v118M2227.5,743v130M2231.5,765v112M2331.5,750v93M2335.5,731v155M2369.5,792v73M2468.5,695v79M2481.5,704v162M2504.5,671v293M2524.5,706v200M2538.5,711v141M2562.5,722v245M2574.5,729v201M2580.5,765v169M2594.5,761v136M2657.5,744v115M2685.5,782v111M2698.5,789v134M2733.5,782v91M2734.5,795v86M2741.5,752v105M2847.5,692v75M2875.5,722v54M2881.5,695v71M2897.5,711v74" stroke="#fff" stroke-width="1" fill="none" shape-rendering="crispEdges"/>
<path d="M332.5,733.3l1,2.5l1,2.7l1,-.1l1,-.4l1,2.1l1,2.2l1,2.5l1,-1.3l1,0l1,3.1l1,1.8l1,5l1,3.5l1,2.1l1,2.7l1,6.7l1,.5l1,-3.8l1,-3.4l1,-1.2l1,-1.7l1,-.2l1,2l1,2.4l1,2.6l1,2.7l1,1.1l1,-1l1,-1.5l1,-7.1l1,-4.5l1,-6.6l1,-3.9l1,-6.6l1,-9.6l1,-6.2l1,-12.9l1,-2.1l1,9.4l1,12.3l1,13.4l1,-4.4l1,-7l1,-7.5l1,-8.8l1,3.8l1,10.4l1,14.3l1,9.8l1,10.2l1,2.2l1,3.6l1,1.1l1,3.2l1,-.1l1,2l1,.5l1,0l1,-.8l1,-.6l1,-2.1l1,-.7l1,-4.1l1,-2l1,-2.2l1,-1.1l1,2.8l1,2.8l1,2l1,2l1,3.2l1,3.7l1,4l1,2.5l1,2.4l1,2l1,-2.5l1,-5.5l1,-4.3l1,-3.3l1,-6.8l1,-2.9l1,3.6l1,-.2l1,1.3l1,.9l1,-1.7l1,4.9l1,4.1l1,1.7l1,3.3l1,2.6l1,1.8l1,1.1l1,.5l1,1l1,-.3l1,-.6l1,4.7l1,1.3l1,4.4l1,4.3l1,2l1,.8l1,-1l1,-.7l1,-1.2l1,-.4l1,-4.6l1,-2l1,-1.2l1,-2.2l1,-2.4l1,3.5l1,3.9l1,.6l1,-1.8l1,.3l1,3.3l1,6.3l1,2.1l1,-1.3l1,-1.3l1,-4.2l1,-.8l1,-3.5l1,2.1l1,4.2l1,4.4l1,2.7l1,2.4l1,0l1,3l1,.8l1,-.5l1,1l1,-1.1l1,.6l1,-1l1,-.7l1,1.4l1,1.7l1,1.9l1,-.2l1,.9l1,-.5l1,4.2l1,2.4l1,-2.7l1,-4.5l1,-5l1,-2.3l1,-2.9l1,-.7l1,.3l1,2.2l1,1.2l1,7.6l1,4.2l1,1.5l1,2.5l1,-.5l1,6.9l1,.8l1,.3l1,-.2l1,-2.4l1,1.6l1,-.8l1,2.7l1,-2l1,1.3l1,3.9l1,2.8l1,-1.8l1,-.7l1,3.4l1,.6l1,-4.7l1,-3.2l1,-3l1,-3.4l1,-2.7l1,-1l1,-3.2l1,-1.6l1,-5.5l1,1.1l1,2.4l1,4.3l1,2.5l1,2.7l1,5.7l1,1.9l1,-.1l1,.5l1,-1.3l1,-2.3l1,-2.5l1,-3.2l1,-3.9l1,-4l1,-2.8l1,4.3l1,3.5l1,2.1l1,4.8l1,1.9l1,2.8l1,3.4l1,-5.4l1,-12.5l1,-7.6l1,-10.8l1,-7.8l1,2.6l1,5l1,4.2l1,.6l1,6.2l1,3.3l1,3.7l1,4.4l1,2.2l1,.5l1,.3l1,-3.6l1,-5l1,-7.3l1,-3.2l1,-3.2l1,1l1,5.9l1,5.4l1,6.1l1,3.2l1,4.2l1,.3l1,3.1l1,.5l1,-1.3l1,-.1l1,-8.1l1,-9.6l1,-10.1l1,-2.7l1,3l1,4.5l1,7.3l1,4.3l1,3.7l1,3.7l1,4.4l1,-5.3l1,-7.6l1,-5.9l1,-6.1l1,-7.6l1,-7l1,2.4l1,4.2l1,6.8l1,1.4l1,5.8l1,.7l1,-.5l1,.3l1,1.2l1,-1.7l1,-3.8l1,-4.1l1,-3l1,-1.8l1,-4l1,-2.7l1,-2.1l1,-1.5l1,-3.3l1,-2.3l1,-5l1,-5.9l1,-.7l1,-2.4l1,.5l1,-.1l1,-3.4l1,-7.5l1,-5.9l1,-3.7l1,-4.6l1,-5l1,.8l1,-2l1,-1.5l1,-1.4l1,-.9l1,-2.9l1,-.4l1,1.8l1,4.1l1,5l1,3.4l1,-3.2l1,-3.3l1,0l1,-.8l1,4.3l1,3.8l1,2.2l1,5.4l1,4.1l1,-.7l1,-6l1,-5.6l1,-5.6l1,-5.7l1,-3.8l1,-1.4l1,-2.6l1,-2.5l1,.9l1,-1.9l1,.1l1,-2.5l1,.8l1,1.7l1,-1.9l1,2.3l1,-.8l1,.7l1,-.3l1,.4l1,3.6l1,.9l1,4.2l1,.1l1,1.2l1,3.9l1,.8l1,.4l1,-2l1,-2.6l1,-7.1l1,-2.3l1,-2.6l1,-8.2l1,-10l1,-2.9l1,18.9l1,17.8l1,1.6l1,-5.8l1,-5.9l1,-1.8l1,-1l1,-2l1,2.3l1,-7.9l1,-10l1,-8l1,5.9l1,5.1l1,6.6l1,9.3l1,3.8l1,-.1l1,1.7l1,.5l1,.3l1,.4l1,-.6l1,2.8l1,.4l1,-4.9l1,-4.3l1,-2.3l1,3.1l1,4.1l1,3.7l1,4.6l1,7.3l1,6l1,3.7l1,-.9l1,1.8l1,.9l1,-.2l1,-.5l1,-.5l1,2.2l1,3.6l1,1.3l1,3.4l1,2.7l1,4.9l1,2.3l1,3.5l1,3.5l1,.7l1,-2.9l1,-1.9l1,.9l1,-2.5l1,.4l1,-1.6l1,-1.8l1,-5.4l1,-.9l1,-3.8l1,-4l1,2.9l1,2.2l1,6l1,0l1,.4l1,2.1l1,4.2l1,1.1l1,2.4l1,-1.3l1,-5.8l1,-3.4l1,-4.6l1,-5.2l1,.8l1,1.5l1,.4l1,-.6l1,-1.2l1,3.2l1,1.1l1,-1.1l1,2.1l1,0l1,2.8l1,2.3l1,2.2l1,1.6l1,1.8l1,.3l1,2.2l1,1.9l1,2.3l1,2.8l1,2.2l1,1.3l1,-5l1,1.4l1,-.3l1,2.8l1,-.6l1,-3.8l1,1l1,-.7l1,1.6l1,-1.9l1,.4l1,.1l1,.1l1,-.5l1,-1.9l1,3.8l1,3.6l1,1.4l1,.5l1,2.9l1,2.8l1,1.5l1,1.9l1,3.8l1,-.4l1,1.6l1,-2.1l1,-2.3l1,-2.7l1,-3.2l1,-2.7l1,.3l1,-4.1l1,-3.3l1,-.2l1,-.5l1,1.4l1,5.7l1,3.1l1,7.1l1,-.4l1,-.5l1,-1.6l1,1.3l1,-.9l1,.7l1,.2l1,1.9l1,4l1,2.9l1,1.4l1,.6l1,1.2l1,3.5l1,5.4l1,-1.6l1,-4.1l1,-3.3l1,-3.5l1,-2.9l1,-.6l1,4.5l1,1.3l1,1l1,.1l1,3.6l1,2.3l1,.7l1,-1.8l1,-1.9l1,-1.1l1,-2.7l1,-3.3l1,-3.9l1,-2.5l1,-2.9l1,5.3l1,-.4l1,2.3l1,4.5l1,1.5l1,4.3l1,1.5l1,2.4l1,1.8l1,1l1,.8l1,2.8l1,-1.3l1,-1.3l1,-.7l1,1.3l1,2.5l1,.6l1,1.4l1,3.3l1,.9l1,.2l1,.8l1,.1l1,1.6l1,-.9l1,-.8l1,.7l1,2.8l1,-1.4l1,-1.7l1,-1.7l1,-1.2l1,-.6l1,-1.7l1,-7.9l1,-2.2l1,-.1l1,.8l1,4.6l1,-.3l1,3.3l1,.2l1,-2.4l1,1l1,1l1,-.5l1,-2.8l1,1.4l1,.5l1,-3.4l1,.9l1,-3.6l1,-3.2l1,-2.2l1,1.2l1,1.6l1,2.8l1,2.6l1,1.2l1,2.1l1,.3l1,3.6l1,1l1,2.7l1,-4.7l1,-3.7l1,-2.7l1,-5.9l1,-4l1,-9.3l1,-8.7l1,-4.3l1,6.4l1,4.7l1,2.8l1,1.3l1,3.8l1,5.2l1,3.1l1,2.6l1,-.1l1,-1.9l1,-1.1l1,-2.6l1,-1.6l1,2l1,-1.1l1,-4.9l1,-1.2l1,-1.7l1,-1l1,2l1,-.5l1,.2l1,.4l1,.9l1,-2.3l1,-4.8l1,-7.6l1,-5.1l1,2l1,6.1l1,4.3l1,5.2l1,3.4l1,-6.8l1,-5.2l1,-6.5l1,-6.4l1,-9.1l1,-.2l1,1.2l1,1.5l1,2.9l1,-1.2l1,-9l1,-9.3l1,-9.4l1,.4l1,6.3l1,3.3l1,.5l1,3.9l1,5.3l1,5.9l1,3.8l1,2.6l1,-3.5l1,-7.5l1,-5.6l1,-5.4l1,-6.1l1,-4.7l1,-5.8l1,2.1l1,3.9l1,2.1l1,1.7l1,1.1l1,0l1,3l1,-4.4l1,-9.1l1,-5.4l1,-8.7l1,-.5l1,-1.6l1,-2.3l1,2.6l1,.2l1,5.7l1,3.1l1,4.7l1,3.1l1,4.2l1,4.5l1,-6.8l1,-11.6l1,-9l1,-5.3l1,-6.1l1,-3.6l1,.1l1,8l1,7.2l1,8l1,6.3l1,3l1,.2l1,-2.9l1,.4l1,.5l1,-1.6l1,-2.8l1,-1.7l1,-4.2l1,-5.6l1,-3.3l1,-1.1l1,-2.9l1,-1.4l1,-1.9l1,-3.3l1,-.8l1,1l1,3.3l1,2.4l1,.2l1,5.9l1,-.7l1,-2.6l1,-2.7l1,1.5l1,5.9l1,7.1l1,4l1,-1.4l1,2.3l1,1.4l1,1.3l1,0l1,-3.2l1,-3.7l1,-1l1,-1.8l1,-3.8l1,-1l1,-4.1l1,-2.1l1,-4.2l1,1.5l1,-2.9l1,1.5l1,-3.4l1,2.2l1,3.3l1,3l1,5.9l1,6.1l1,3.7l1,4.9l1,-.3l1,-1.4l1,-5.1l1,.4l1,.6l1,-.6l1,.7l1,1l1,6l1,1.9l1,1.7l1,3.1l1,2.2l1,.2l1,-.1l1,2.7l1,1.1l1,-1.2l1,2.4l1,4.6l1,3.1l1,3.1l1,3.4l1,2.4l1,4.4l1,.8l1,2.1l1,2.1l1,-2.7l1,-3l1,-2.5l1,-5.5l1,-1.9l1,-1l1,-2.7l1,-.3l1,2.3l1,-.9l1,-2.4l1,-8.6l1,-5.8l1,-2.5l1,8.1l1,10.4l1,6.5l1,6.2l1,4.1l1,.8l1,2.8l1,2l1,6.5l1,-.3l1,-2.5l1,-1.4l1,-3.6l1,-5l1,-.6l1,-1.2l1,.1l1,3.2l1,2.6l1,1.2l1,2.9l1,2.5l1,-.1l1,-.5l1,.4l1,4.1l1,-.7l1,-4.8l1,-4.8l1,-4.7l1,-7.7l1,.4l1,.3l1,4.8l1,3.7l1,2.9l1,2.7l1,2.2l1,4.4l1,5.4l1,2.1l1,1.4l1,-3l1,-1.1l1,-3.1l1,-.6l1,-.6l1,2l1,.5l1,.3l1,2l1,3.4l1,3l1,-.2l1,2l1,.4l1,-1.3l1,-3.6l1,.2l1,-2l1,1.3l1,-.4l1,-.9l1,-3.7l1,3.9l1,2.9l1,-.3l1,3.7l1,1.5l1,.3l1,-.6l1,-.5l1,.7l1,4.9l1,-1.2l1,-.5l1,-1.1l1,-.3l1,-.1l1,-.5l1,2l1,-.6l1,1.2l1,-2l1,1.7l1,-.4l1,.7l1,-.7l1,-1.3l1,2.1l1,-.7l1,3.5l1,2.5l1,4.6l1,3.2l1,4.4l1,4l1,-2.3l1,-3.6l1,-.5l1,-.9l1,-1.9l1,-4.4l1,-.9l1,3.3l1,3.3l1,3.4l1,2.4l1,3.6l1,3.6l1,-2.7l1,-3.1l1,-.5l1,-.5l1,-3.6l1,-.9l1,.5l1,.3l1,2.2l1,.2l1,3.9l1,3.9l1,.3l1,.5l1,.7l1,3.9l1,1.9l1,-1.1l1,-.2l1,-1.9l1,-2.3l1,-5.3l1,-1l1,.4l1,-2.6l1,1.1l1,.7l1,-.7l1,-3l1,-1.7l1,-2l1,-3.7l1,-2.4l1,2l1,.2l1,.6l1,-.6l1,4l1,4.7l1,-.5l1,.8l1,1.8l1,-.5l1,-2.7l1,-.8l1,-1.1l1,3.2l1,-2.4l1,.6l1,1.3l1,-4.3l1,-9.7l1,-9.4l1,-13l1,-10l1,-3.7l1,5.2l1,8.9l1,1.2l1,2.4l1,-2.6l1,1.7l1,.3l1,-2.7l1,1.7l1,-4.3l1,-6.3l1,-8.1l1,-8.8l1,-7.7l1,-4.7l1,3l1,1.8l1,4.8l1,0l1,.7l1,1.1l1,1.6l1,.9l1,-.1l1,-1l1,-3.4l1,-3.7l1,-3l1,-2.3l1,-3.5l1,-1.6l1,.3l1,1.6l1,1.1l1,2.4l1,1.2l1,2.2l1,.4l1,-1.9l1,-2.1l1,-2.4l1,1.6l1,5.1l1,5l1,3.2 M1613.5,824.1l1,.3l1,-1.2l1,-1.3l1,.6l1,-1.4l1,-1.7l1,1.8l1,-.8l1,-.8l1,.1l1,1.7l1,2.9l1,2l1,1.3l1,1.9l1,.9l1,-.6l1,.9l1,-.2l1,-2.7l1,-16.1l1,-5.2l1,-2.5l1,.6l1,.7l1,1.9l1,3.5l1,9.3l1,7l1,9.3l1,-6.5l1,-7.5l1,-7.3l1,-5.9l1,9.9l1,10.7l1,1.5l1,-2l1,-1.9l1,-3.4l1,4.7l1,2.3l1,3.5l1,-1.3l1,-2.6l1,-3.7l1,-6.3l1,.6l1,-3.7l1,-4.6l1,-2.6l1,-5l1,-7.6l1,-14.2l1,3.9l1,4l1,6.8l1,5.4l1,3.3l1,-5.6l1,-11.6l1,-10.4l1,-1.2l1,-2.3l1,-1.2l1,-.9l1,7.3l1,6l1,5.3l1,3.5l1,-1.9l1,-3.2l1,-3.7l1,-4.5l1,-1l1,-2.2l1,-10.1l1,-10.8l1,-9.8l1,-4.9l1,7.5l1,2.9l1,7.9l1,5.5l1,4.7l1,.6l1,2.9l1,2.2l1,-2.2l1,-3.2l1,-5.5l1,-5.5l1,-6.9l1,-5l1,-4l1,-.8l1,-3l1,1.4l1,-4.3l1,-1.4l1,-.4l1,-1.2l1,2.4l1,-.1l1,-3.7l1,-3.5l1,-2.6l1,-6.8l1,1.9l1,1l1,4.4l1,.2l1,-.4l1,1.6l1,7.3l1,2.7l1,1.8l1,-5.5l1,-1.7l1,-1.8l1,-2.3l1,-1.4l1,-.3l1,-2.8l1,-3.2l1,3.1l1,6.7l1,3.2l1,5.6l1,1.7l1,5.9l1,.9l1,2.9l1,6.3l1,-5.3l1,-4.8l1,-6.5l1,-6.7l1,-5.1l1,-3.3l1,-4.9l1,-3l1,-1.6l1,-.7l1,.8l1,5.2l1,1.9l1,3l1,-3.5l1,1.4l1,-3.8l1,-2.8l1,.1l1,.9l1,1.4l1,-.2l1,1.7l1,1.9l1,-1.5l1,1.3l1,4.1l1,5.5l1,4.1l1,-4.8l1,-5l1,-3l1,-2.1l1,-4.9l1,-1.5l1,-3.9l1,-1.7l1,4.8l1,8.1l1,5.2l1,2.1l1,5.4l1,2l1,-1.1l1,-3.2l1,-4l1,-2.3l1,-3.4l1,-3.6l1,-2.2l1,-1.3l1,7l1,6.9l1,6.6l1,10.3l1,10.2l1,8l1,-5l1,-2.5l1,-8.5l1,-4.9l1,-5l1,-5l1,-8.6l1,-6.6l1,5.7l1,8.4l1,6.8l1,1.6l1,5.4l1,4.6l1,-2.5l1,-3.4l1,-2.1l1,-2.7l1,.3l1,-5.8l1,-5.8l1,-6.1l1,-4.7l1,1l1,5.1l1,6.8l1,8.3l1,9l1,4.8l1,3.9 M1906.5,823.6l1,4.7l1,.6l1,-1l1,-6.6l1,-7.1l1,-7.4l1,-.5l1,-1.4l1,-1.7l1,6.5l1,9.4l1,8.2l1,7.5l1,6.3l1,3.6l1,7.4l1,-7.9l1,-6.7l1,-6.9l1,-8.8l1,-9l1,-.6l1,-4.3l1,.9l1,-3.7l1,13l1,16.4l1,-11.2l1,-6.9l1,-8.7l1,-7.4l1,11.7l1,19.3l1,-1.5l1,-6.3l1,-6.4l1,-9.7l1,8.5l1,5.5l1,4.1l1,6.1l1,5.1l1,4.1l1,1.4l1,3.2l1,3.3l1,4.2l1,-3.6l1,-2.7l1,-5.6l1,-4.4l1,-2.2l1,-2.9l1,1.7l1,3l1,2.1l1,3.1l1,3.2l1,1.9l1,.7l1,-10.2l1,-9.6l1,-11.4l1,-1.9l1,3.5l1,3.8l1,2.5l1,10.6l1,10.2l1,8.4l1,10.5l1,3.1l1,-1l1,2.6l1,3.6l1,-11.3l1,-7.1l1,-7.2l1,-6.1l1,-4.5l1,-2.1l1,.4l1,1l1,-2.8l1,1.8l1,1.6l1,4.8l1,1.3l1,2.6l1,-9l1,-8.7l1,-10.2l1,-12.3l1,-11.1l1,-5.6l1,-.2l1,2l1,4.1l1,2l1,4.1l1,5.4l1,9.2l1,2.5l1,4.6l1,4.8l1,-3.3l1,-5.5l1,-6.8l1,-7.5l1,-.8l1,6.1l1,4.3l1,2.9l1,0l1,4.4l1,-2.2l1,-.4l1,-1.3l1,-1.8l1,-2.2l1,-6.1l1,-4.5l1,-8.1l1,-5.9l1,-3.9l1,-6.3l1,-4.3l1,-1.6l1,-.6l1,.1l1,3.2l1,8.2l1,8.9l1,8.7l1,7.5l1,5.1l1,-11.7l1,-12.8l1,-2.1l1,2.7l1,1.8l1,1.6l1,4.1l1,2.6l1,.8l1,-7.4l1,-6l1,-6.2l1,-7.2l1,-5.1l1,-4.7l1,-3.8l1,-2.2l1,-3.6l1,-2.6l1,1.8l1,4.3l1,5.3l1,-1.4l1,5.2l1,2.9l1,4.1l1,2.9l1,-3.9l1,1l1,-3.3l1,-1.9l1,-4.8l1,-9.5l1,-8.7l1,-10l1,-10.1l1,-4l1,-2.2l1,1.6l1,-1.3l1,.3l1,-1.6l1,-1l1,0l1,3.3l1,1l1,4.2l1,2.1l1,3l1,5.5l1,3.6l1,5l1,4.3l1,3.4l1,1.4l1,-1.6l1,-1.4l1,-6.8l1,-5.2l1,-5.5l1,-6.5l1,-7.7l1,-7.9l1,-7.6l1,-4.7l1,3.7l1,-.8l1,-2l1,1.4l1,.7l1,-.8l1,5.1l1,7.7l1,5l1,2.6l1,1.6l1,-.3l1,1.4l1,4.6l1,1.2l1,2l1,-1.2l1,-4.2l1,-5.6l1,-.5l1,-4.9l1,1.7l1,.9l1,-.6l1,3.9l1,-12.8l1,-15.5l1,-7.6l1,2.4l1,7.2l1,5.8l1,7.2l1,6.1l1,8.5l1,7.1l1,.7l1,-2.1l1,-4.6l1,-4.1l1,-5.6l1,-7.2l1,-6l1,-3.1l1,.5l1,0l1,3.2l1,10l1,25l1,10.6l1,2.7l1,4.6l1,3.3l1,2.1l1,.8l1,2.2l1,-12.9l1,-10.7l1,-6l1,3.3l1,1.7l1,2.2l1,6.7l1,6.1l1,7.3l1,1.1l1,-4.1l1,-3.5l1,-4.4l1,-2.4l1,-.4l1,.2l1,-.4l1,3.3l1,-.9l1,5.4l1,5.8l1,6l1,2.5l1,5.9l1,-.2l1,-2.1l1,-3.7l1,-1.9l1,-2.9l1,-1.9l1,-2.8l1,-5.4l1,2.8l1,3.9l1,4.3l1,3.8l1,6.5l1,1.1l1,-3.5l1,-1.5l1,-4l1,-3l1,4.8l1,9.5l1,2.6l1,-16.8l1,-18.9l1,-6.8l1,.2l1,4.1l1,11.4l1,13.9l1,7l1,.3l1,4.8l1,3.3l1,-1.5l1,3.1l1,4.2l1,.8l1,2.8l1,13.8l1,5.9l1,-7.5l1,-7.6l1,18.2l1,22.5l1,-7l1,-4.4l1,-8.4l1,-6.1l1,-6.3l1,-5.5l1,-1.2l1,-1.5l1,-.7l1,-1.8l1,1.1l1,11.3l1,12.4l1,2.4l1,.6l1,0l1,-2.5l1,.6l1,-8.4l1,-13.6l1,-12.4l1,-10.9l1,-1.8l1,-3.9l1,-1.7l1,-3.9l1,-6l1,3l1,4.8l1,3.6l1,4.5l1,-4.2l1,-3.3l1,-2l1,-2.4l1,4.4l1,-.9l1,2.6l1,3.2l1,7.2l1,18.6l1,17.8l1,16l1,-3.3l1,-5l1,-5.8l1,-4.3l1,-5.3l1,-4l1,-3.4l1,-1.1l1,3.8l1,2.8l1,2l1,2.5l1,7.1l1,5l1,5.8l1,4.1l1,4.6l1,-5.9l1,-8.4l1,-5.7l1,-7.2l1,-6.2l1,-7.8l1,-6l1,-2.3l1,4.8l1,2.4l1,2.9l1,3.8l1,3.3l1,4.3l1,3.2l1,7.1l1,4.1l1,-7.1l1,-7.1l1,-8.7l1,-8.4l1,-4.5l1,4.5l1,.9l1,3.4l1,.9l1,.8l1,2.9l1,2.3l1,2.2l1,4.4l1,-.1l1,-.7l1,1.8l1,-.4l1,-1.8l1,-10.9l1,-1.5l1,1.1l1,2.6l1,3.9l1,1.7l1,1.1l1,3.4l1,2.9l1,1.3l1,6.3l1,2.6l1,3.5l1,4l1,4.2l1,5.2l1,.3l1,-2.1l1,-4.3l1,-4.5l1,2.2l1,1.2l1,3.8l1,.4l1,-1.5l1,-3.3l1,-1.6l1,-1.6l1,-4.6l1,-2.9l1,-5.7l1,-6.6l1,8.8l1,9l1,8l1,7.2l1,3.7l1,-.1l1,.2l1,1.4l1,-3.5l1,-4.5l1,-4.7l1,-6.4l1,-8.9l1,-.6l1,3l1,.1l1,1l1,1.7l1,2.2l1,-.5l1,2.4l1,2.4l1,-12.8l1,-7.2l1,-9.2l1,-8.7l1,6.9l1,3.6l1,4.1l1,5.5l1,-2l1,-5.5l1,-4.8l1,-5.4l1,-5.4l1,-.1l1,-.5l1,.6l1,0l1,-1.7l1,1.8l1,-7.5l1,-6.9l1,-7.1l1,-7.4l1,-1.5l1,3.7l1,3.2l1,3l1,2.8l1,-4.3l1,-4l1,-2.1l1,-4.8l1,-5.3l1,-6.8l1,5.6l1,5.8l1,9.9l1,3.1l1,0l1,.5l1,1.9l1,1.6l1,-1.7l1,-3l1,-3.7l1,-4.9l1,-.9l1,-3.4l1,-5.4l1,-3.8l1,-4.5l1,-2.8l1,8.5l1,10.4l1,.2l1,-5.8l1,-5.6l1,-4.1l1,-6.1l1,-6.4l1,-2.8l1,1.3l1,-3l1,-1.1l1,-1.7l1,.3l1,-1.6l1,-1.2l1,4.2l1,.5l1,-.2l1,1.2l1,2l1,2.2 M2460.5,698.8l1,-13.8l1,-10.8l1,12.1l1,11.9l1,10.6l1,8.4l1,7l1,3.7l1,-2.3l1,-7.4l1,-3l1,5.1l1,11.6l1,11.4l1,3.5l1,4.9l1,7.4l1,3.3l1,4.2l1,14.4l1,1.1l1,-3.1l1,-3.3l1,-5l1,-4.8l1,-4.9l1,-1.2l1,5.7l1,3.9l1,6l1,4l1,16.6l1,2.7l1,-3.4l1,-4.3l1,-5.3l1,-4.4l1,-3.4l1,-3.8l1,-3.7l1,2.7l1,14.8l1,15.2l1,13.7l1,15.4l1,11.7l1,13.4l1,13.8l1,13l1,-4.9l1,-15.8l1,-16.4l1,-16.9l1,-16.5l1,-8.6l1,-5.1l1,-2l1,-4.4l1,-2.8l1,-4.2l1,13.4l1,12.2l1,12.4l1,-4.4l1,-9.9l1,-8.6l1,-14l1,-9.3l1,-1.9l1,2.1l1,1.2l1,5.6l1,2.3l1,3.5l1,1.3l1,1l1,-7.6l1,-9l1,-10.5l1,-9.8l1,11.5l1,16.3l1,17l1,7.3l1,-5.4l1,-6.4l1,-7.6l1,1.8l1,3.4l1,3.8l1,7.8l1,2.6l1,10.2l1,13.4l1,12.9l1,13.2l1,8.4l1,6.1l1,-18.6l1,-17.1l1,-15.4l1,-17.2l1,28.5l1,31.5l1,7.2l1,-22.1l1,-20.5l1,-18.2l1,9.3l1,12.3l1,15.8l1,10.6l1,9.8l1,9.4l1,-5.8l1,-32.5l1,-33.8l1,6.5l1,13.5l1,15.3l1,12.5l1,-11.3l1,-8.4l1,-8.8l1,-8l1,-8.4l1,-7.2l1,-5.1l1,18.8l1,16.7l1,4.2l1,-8.4l1,-4.3l1,-7.1l1,5.5l1,5.7l1,7.3l1,6.7l1,-1.5l1,-2.7l1,-3l1,-2.3l1,-2.5l1,-2.7l1,-2.7l1,-2.8l1,3.9l1,9.5l1,9.8l1,1.6l1,-7.3l1,-7.9l1,-6.1l1,-5.9l1,-10.1l1,-5.8l1,3.3l1,7.1l1,4.7l1,3.7l1,-2.7l1,-7.6l1,-.3l1,-1.6l1,-5.8l1,2.1l1,21.8l1,-12.5l1,-17.7l1,-15.2l1,-4.4l1,1.3l1,1.8l1,-.2l1,3.9l1,.8l1,8.3l1,6.8l1,11.3l1,4.9l1,4.6l1,1.9l1,2.7l1,4l1,2.7l1,6l1,1.4l1,-7.9l1,-18.9l1,-15.4l1,-1.7l1,-5.1l1,0l1,-3.5l1,-4l1,1.2l1,3.3l1,4.2l1,1.3l1,-.2l1,2.1l1,-1.1l1,3.2l1,1.9l1,.3l1,-2.3l1,.1l1,1.2l1,6.7l1,5.8l1,3.5l1,4.3l1,4.6l1,4.8l1,-2l1,-1.1l1,1.6l1,.2l1,0l1,2.3l1,4.5l1,3.8l1,2.5l1,6.1l1,4l1,-.7l1,-2.7l1,-3.2l1,-3.5l1,-2.4l1,-2.7l1,14.4l1,20l1,18.7l1,-44.8l1,-43.2l1,21.3l1,20.9l1,1.5l1,-5.1l1,-1.8l1,-5.9l1,-1.5l1,-1.8l1,.6l1,-1.1l1,-2.6l1,-.1l1,.3l1,-.4l1,-.5l1,-3.1l1,1.3l1,-3.5l1,-1.5l1,-6.6l1,-5.3l1,-7.2l1,-2.6l1,-.7l1,4.8l1,1.4l1,2.1l1,1l1,-.3l1,4l1,8.2l1,5.9l1,8.2l1,3.7l1,4.7l1,.7l1,.6l1,-3.7l1,-1.8l1,-2.6l1,-11.1l1,-13.5l1,-2.9l1,7.7l1,5.9l1,5l1,-.7l1,.2l1,-1l1,.7l1,1.4l1,-3.3l1,-3.8l1,-5.3l1,-4.6l1,-11.3l1,-10.2l1,-9.3l1,-1.4l1,4l1,1l1,6.4l1,3.5l1,2.5l1,1.5l1,-1.1l1,-1l1,-2.6l1,-.1l1,-2.3l1,-2.3l1,-2.9l1,-3.6l1,-6.2l1,1.7l1,6.1l1,3.6l1,3.7l1,2.9l1,2.5l1,-1.9l1,-4.6l1,-4.6l1,-6.4l1,-2.1l1,1.2l1,-.7l1,-.2l1,-1.7l1,-3.1l1,-5.6l1,-4.4l1,-2.7l1,-2.3l1,-4.4l1,-3.2l1,-2.9l1,-2.6l1,-2.2l1,-1.3l1,-.4l1,3l1,3.9l1,.8l1,4.4l1,6.5l1,1.1l1,1l1,.4l1,.9l1,-1.4l1,-1.8l1,2.2l1,-6.5l1,-3.3l1,-3.2l1,-5.3l1,.4l1,-.9l1,-6.8l1,-3.5l1,-.1l1,2l1,.1l1,1.4l1,.8l1,0l1,.6l1,4.8l1,2.6l1,3.6l1,2.6l1,4l1,4.8l1,2l1,2.1l1,2.4l1,.2l1,-5l1,-2.7l1,-.5l1,-5.1l1,-2.3l1,-5.2l1,-4.4l1,-3.1l1,-5.3l1,-4.5l1,2.5l1,.6l1,1.9l1,3.4l1,.2l1,-2.3l1,1l1,-3.1l1,-2.4l1,4l1,-2.6l1,-3.2l1,.8l1,2.8l1,4.7l1,3.4l1,3.5l1,4.9l1,2.9l1,2.6l1,-.4l1,-3.5l1,-.9l1,-3.2l1,-3.2l1,-3.2l1,-1.6l1,4.2l1,2.3l1,.6l1,6l1,2.7l1,5l1,2.6l1,4.5l1,-6.6l1,-7.9l1,-8l1,-6l1,-6.2l1,-8.9l1,-8.4l1,7.2l1,8.3l1,2.4l1,4.3l1,3.5l1,3.8l1,7.9l1,2l1,5.9l1,-3.6l1,-2.6l1,-2.1l1,-5l1,-5.1l1,-2" fill="none" stroke="#660066" stroke-width="4.1" stroke-linejoin="round" stroke-linecap="round"/>
<path d="M332,1021h2v-6h2v1h2v8h2v4h2v4h2v-1h2v-5h2v-6h2v5h2v8h2v1h2v4h2v2h2v-8h2v-8h2v-3h2v7h2v21h2v6h2v-9h2v4h2v-2h2v1h2v-2h2h2v-3h2v-5h2v-4h2v-8h2v4h2v3h2v-1h2v8h2v11h2v-7h2v3h2v-9h2v-6h2v10h2v25h2h2v-3h2v-6h2v-4h2v-6h2h2v-3h2v3h2v8h2v-13h2v-12h2v-4h2v9h2v9h2v12h2v1h2v3h2v-8h2v-4h2v-4h2v13h2v6h2v8h2v-12h2v-13h2v-8h2v7h2h2v6h2v-5h2v4h2v4h2v-5h2h2v6h2v14h2v7h2v-13h2v-6h2v-5h2v-6h2v-5h2v-1h2v5h2v-4h2v-6h2v1h2v2h2v-3h2h2v8h2v12h2v6h2v-3h2v-15h2v-4h2v2h2v4h2v4h2v10h2v3h2v-13h2v-8h2v-7h2v-6h2v20h2v14h2v-3h2v-13h2h2v-12h2h2v2h2v10h2v-1h2v-4h2v-10h2v-6h2v5h2v9h2v1h2v10h2v-5h2v-11h2v-15h2v2h2v10h2v13h2v8h2v-9h2v-10h2h2v-10h2v-1h2v5h2v11h2v-5h2v-3h2v-13h2v1h2v4h2v8h2h2v5h2v10h2v-11h2v-14h2v-2h2v15h2v-3h2v-2h2v-4h2v-2h2v-3h2v9h2v8h2v15h2v5h2v-4h2v-5h2v-8h2v-2h2v6h2v1h2v2h2v-1h2v-8h2v-3h2v-5h2v4h2v1h2v9h2v8h2v-1h2v-24h2v-6h2v8h2v1h2v6h2v7h2v-12h2v6h2v4h2v-5h2v1h2h2v2h2v-5h2v2h2v-5h2v-2h2v-8h2v3h2v1h2v3h2v9h2h2v-2h2v-4h2v-5h2h2v6h2v-1h2v6h2v4h2v-2h2v-6h2v-5h2v6h2v-2h2v9h2v10h2v-1h2v-4h2v3h2v2h2v10h2v-8h2v-3h2v-4h2v-2h2v-3h2v5h2v1h2v-2h2v1h2v6h2v10h2v9h2v14h2v-2h2v-8h2v-12h2v-10h2v-9h2h2v16h2v11h2v19h2v8h2v-1h2v-10h2v-17h2v-5h2v5h2v5h2v-1h2v-3h2v-7h2v-3h2v10h2v16h2v3h2v-18h2v-1h2v-5h2v-11h2v9h2v3h2v7h2v4h2v-13h2v-4h2v-1h2v-7h2v3h2v6h2h2v-1h2v-9h2v-9h2v-3h2v1h2v7h2v-2h2v-2h2v9h2h2v3h2v-6h2v5h2v7h2v-4h2v-13h2v-2h2v5h2v-1h2v7h2v-5h2v-3h2v-6h2v5h2h2v-12h2v3h2v18h2v12h2v2h2v-10h2v-11h2v-11h2v-9h2v1h2v11h2v6h2v5h2v-1h2v2h2v2h2h2v1h2v7h2v-9h2v-15h2v-3h2v-7h2v3h2v7h2v9h2v14h2v4h2v-16h2v-5h2v-12h2h2v20h2v11h2v-14h2v-9h2v7h2v3h2v7h2v4h2v8h2v-2h2v-5h2v-14h2v-4h2v2h2v15h2v13h2v5h2v-6h2v-20h2v-8h2v3h2v9h2v-6h2v-7h2v-7h2v7h2v13h2v5h2v-3h2v-7h2v-16h2v-2h2v-6h2v5h2v7h2v4h2v3h2v1h2v1h2v11h2v-7h2v5h2v-6h2v-7h2v-10h2v2h2v-2h2v-1h2v4h2v7h2v-6h2v-3h2v4h2v9h2v3h2v-11h2v-4h2v-16h2v-2h2v4h2v8h2h2v5h2v12h2v-5h2h2v11h2v5h2v-1h2v-13h2v-11h2v-2h2v-7h2v7h2v12h2h2v6h2v-5h2v-3h2v-7h2v14h2v15h2v20h2v-4h2v-12h2v-5h2v-4h2v-9h2v3h2v12h2v6h2v-3h2v-2h2v-11h2v5h2v-2h2v3h2v7h2v4h2v-2h2v3h2v-1h2v4h2v3h2h2v-3h2v-16h2v-7h2v5h2v13h2v5h2h2v-9h2v-9h2v2h2v-4h2v-7h2v10h2v-1h2v10h2v-16h2v-6h2v-6h2v-6h2v3h2v14h2v1h2v-11h2v1h2v-1h2v-1h2v-3h2v5h2v6h2v3h2v4h2v-1h2v7h2v-3h2v1h2v-10h2v-6h2v9h2v5h2v-5h2v-11h2v-3h2v8h2v5h2v15h2v19h2v-14h2v-21h2v-16h2v11h2v8h2v11h2v12h2v9h2v-2h2v-15h2v-3h2v-4h2v4h2v3h2v19h2v2h2v-21h2v-5h2v4h2v-5h2v-6h2V1114h-2v42h-2v-34h-2v23h-2v7h-2v82h-2v-109h-2v124h-2v-147h-2v157h-2v-131h-2v-24h-2v12h-2v78h-2v-67h-2v61h-2v-103h-2v7h-2v1h-2v-4h-2v41h-2v67h-2v-77h-2v-29h-2v-3h-2v-6h-2v40h-2v-17h-2v-12h-2v47h-2h-2v-27h-2v60h-2v-63h-2v7h-2v-20h-2v6h-2v63h-2v-74h-2v-8h-2v77h-2v-73h-2v-12h-2v3h-2v52h-2v2h-2v2h-2v-13h-2v-4h-2v-21h-2v-1h-2v1h-2v18h-2v-16h-2v34h-2v116h-2v-152h-2v67h-2v-47h-2v5h-2v3h-2v52h-2v-63h-2v7h-2v3h-2v13h-2v-12h-2v29h-2v2h-2v-30h-2v22h-2v-26h-2v1h-2v52h-2v176h-2v-247h-2v-3h-2v-1h-2v62h-2v-49h-2v44h-2v-40h-2v22h-2v-29h-2v-15h-2v121h-2v-108h-2v5h-2v65h-2v-3h-2v-33h-2v3h-2v-45h-2v18h-2v-31h-2v25h-2v9h-2v-41h-2v-5h-2v10h-2v16h-2v-12h-2v177h-2v-111h-2v-58h-2v9h-2v-21h-2v4h-2v-7h-2v-5h-2v-9h-2v9h-2v37h-2v35h-2v-68h-2v18h-2v105h-2v-62h-2v-48h-2v-13h-2v-5h-2v3h-2v38h-2v5h-2v9h-2v-34h-2v-23h-2v21h-2v-4h-2h-2v9h-2v25h-2v-27h-2v30h-2v3h-2v-13h-2v-30h-2v5h-2v-5h-2v20h-2v8h-2v97h-2v-111h-2v9h-2v17h-2v-20h-2v10h-2v12h-2v-44h-2v2h-2v38h-2v-34h-2v-13h-2v23h-2v27h-2v-11h-2v6h-2v14h-2v-20h-2v3h-2v-22h-2v22h-2v-15h-2v1h-2v18h-2v-7h-2v16h-2v-31h-2v-15h-2v100h-2v-82h-2v5h-2v-31h-2v36h-2v113h-2v-119h-2v15h-2v-16h-2v-20h-2v-3h-2v144h-2v-166h-2v6h-2v205h-2v-113h-2v-65h-2v-3h-2v-4h-2v20h-2v8h-2v-26h-2v-6h-2v116h-2v-102h-2v-13h-2v-21h-2v5h-2v147h-2v-106h-2v5h-2v48h-2v-54h-2v-30h-2v19h-2v17h-2v14h-2v57h-2v-64h-2v-33h-2v2h-2h-2v-7h-2v6h-2v70h-2v-64h-2v19h-2v24h-2v10h-2v-36h-2v-25h-2v-1h-2v-2h-2v-3h-2v-2h-2v12h-2v15h-2v-19h-2v10h-2v44h-2v-36h-2v12h-2v32h-2v-6h-2v-3h-2v-14h-2v-1h-2v50h-2v-47h-2v57h-2v-82h-2v-7h-2v26h-2v14h-2v32h-2v-45h-2v-4h-2v14h-2v-30h-2v11h-2v44h-2v7h-2v-7h-2v16h-2v-40h-2v-26h-2v17h-2v27h-2v32h-2v-56h-2v-11h-2v33h-2v-35h-2v7h-2v-17h-2h-2v14h-2v78h-2v-58h-2v-21h-2v-12h-2v40h-2h-2v-31h-2v-25h-2v73h-2v-49h-2v-13h-2v-16h-2v21h-2v14h-2v98h-2v-106h-2v-8h-2v19h-2v-11h-2v-4h-2v9h-2v-18h-2v-29h-2v24h-2v35h-2v-25h-2v-27h-2h-2v7h-2h-2v-16h-2v-7h-2v2h-2v2h-2v18h-2v142h-2v-112h-2v-11h-2v-7h-2v-15h-2v23h-2v-25h-2v-10h-2v5h-2v2h-2v171h-2v-107h-2v-64h-2v5h-2v-9h-2v-3h-2v20h-2h-2v21h-2v9h-2v-11h-2v2h-2v-27h-2v63h-2v-64h-2v6h-2v26h-2v14h-2v-13h-2v16h-2v248h-2v-274h-2v-24h-2v15h-2v33h-2v-23h-2v23h-2v-15h-2v-20h-2v30h-2v-4h-2v-48h-2v5h-2v23h-2v-19h-2v79h-2v-62h-2v15h-2v99h-2v-118h-2v26h-2v-7h-2v-5h-2v-17h-2v-16h-2v-9h-2v11h-2v247h-2v-205h-2v31h-2v-78h-2v13h-2v24h-2v-11h-2v-2h-2v-16h-2v41h-2v-26h-2v24h-2v-42h-2v-21h-2v19h-2v39h-2v13h-2v-27h-2v15h-2v9h-2v-45h-2v6h-2v-10h-2v28h-2v-15h-2v-3h-2v10h-2v-6h-2v-19h-2v31h-2v66h-2v-64h-2v47h-2v-26h-2v5h-2v-33h-2v-4h-2v-1h-2v7h-2v-1h-2v24h-2v-21h-2v-17h-2v7h-2v12h-2v42h-2v108h-2v-100h-2v84h-2v-103h-2v-14h-2v-31h-2v19h-2v-23h-2v-7h-2v6h-2v9h-2v23h-2v-10h-2v-19h-2v24h-2v49h-2v-37h-2v-11h-2v41h-2v-19h-2v-18h-2v-22h-2v14h-2v-21h-2v1h-2v-5h-2v33h-2v-19h-2v8h-2v33h-2v-24h-2v36h-2v-35h-2v-17h-2v31h-2v5h-2v-35h-2v23h-2v-17h-2v-7h-2v-24h-2v-9h-2v6h-2v28h-2v-5h-2v28h-2v16h-2h-2v-49h-2v1h-2v57h-2v11h-2v-13h-2v-14h-2h-2v-44h-2v-15h-2v9h-2v16h-2v40h-2v-52h-2v32h-2v11h-2v2h-2v-44h-2v13h-2v35h-2v-26h-2v-26h-2v27h-2v-14h-2v33h-2v14h-2v-27h-2v-20h-2v1h-2v42h-2v-66h-2v-6h-2v28h-2v59h-2v-39h-2v-23h-2v-13h-2v25h-2v-43h-2v116h-2v-104h-2v98h-2v-57h-2v-6h-2v11h-2v-42h-2v-12h-2z M1613,1060h2v6h2v-6h2h2v-4h2h2v-5h2v-2h2v2h2v-2h2v-5h2v11h2v-6h2v-19h2v-7h2v12h2v4h2v-15h2v6h2v3h2v2h2v-1h2v-6h2v2h2v1h2v-16h2v5h2v10h2v-8h2v-1h2v1h2v4h2v2h2v-8h2v-5h2v1h2v2h2h2v2h2v-4h2v-4h2v3h2v7h2v-1h2v-2h2v6h2v1h2v-8h2v-4h2v1h2v1h2v-3h2v2h2v10h2v-8h2v5h2h2v8h2v-4h2v-3h2v7h2v1h2v-1h2v2h2v-7h2v-7h2h2v-2h2v8h2v-5h2v2h2v8h2h2h2v1h2v-3h2v7h2v-3h2v-1h2v-4h2v2h2v-5h2v3h2v2h2h2v2h2v-5h2h2v-1h2h2v-1h2v2h2v-6h2v-2h2v11h2v3h2v-5h2v-8h2v12h2v-6h2v-4h2v-3h2h2v-1h2v5h2v8h2v11h2v3h2v-6h2v5h2v5h2V1100h-2v38h-2v-3h-2v126h-2v-113h-2v-54h-2v8h-2v-20h-2v1h-2v-12h-2v1h-2v3h-2v13h-2v4h-2v21h-2v-9h-2h-2v18h-2v-35h-2v7h-2v-15h-2v-2h-2v-4h-2v-6h-2v3h-2v4h-2v-2h-2v23h-2v7h-2v-17h-2v-5h-2v-2h-2v5h-2v15h-2v-12h-2v4h-2v1h-2v-26h-2v16h-2v9h-2v-12h-2v12h-2v-14h-2v-2h-2v-5h-2v5h-2v12h-2h-2v5h-2v10h-2v-8h-2v-12h-2v9h-2v33h-2v52h-2v-36h-2v-26h-2v-24h-2v-15h-2v1h-2v25h-2v-20h-2v19h-2v-19h-2v17h-2v-8h-2v-11h-2v35h-2v-6h-2v-20h-2h-2v15h-2v-20h-2v-18h-2v1h-2v10h-2v28h-2v5h-2v-25h-2v5h-2v14h-2v15h-2v-20h-2v19h-2v-3h-2v-23h-2v5h-2v-12h-2v-8h-2v16h-2v17h-2v-19h-2v40h-2v89h-2v-83h-2v-12h-2v37h-2v-2h-2v10h-2v-39h-2v-7h-2v-16h-2v18h-2v-33h-2v5h-2v24h-2v13h-2v19h-2v24h-2v77h-2v-129h-2z M1905,1071h2v-8h2h2v6h2v-2h2v2h2v-6h2h2v-3h2v-1h2v-8h2v11h2v7h2v7h2v-1h2v10h2v-10h2v-11h2v6h2v-3h2v-7h2v-2h2v1h2h2v-1h2v4h2v-3h2v5h2v1h2v-2h2v-3h2v-4h2v9h2v-6h2v-16h2v-6h2v6h2v-10h2v7h2v13h2v2h2v-8h2v20h2v-10h2v-26h2v2h2v13h2v2h2v2h2v-1h2v4h2v-16h2v-5h2v1h2v-4h2v-3h2v2h2v1h2v11h2v3h2v-7h2v3h2v3h2v2h2v-6h2v5h2v1h2v-5h2v1h2h2v-8h2v6h2v-6h2v5h2v-4h2v-5h2v-1h2v20h2v1h2v-7h2v-3h2v-1h2v3h2v1h2v-1h2v12h2v-4h2v-2h2v2h2v-8h2v-1h2v11h2v-11h2v3h2v-1h2v1h2v-3h2h2v10h2v1h2v2h2v-7h2h2v12h2v-13h2v-1h2v-1h2v1h2v7h2v-7h2v14h2v-2h2v-9h2v1h2v9h2v-1h2v-14h2v-2h2v3h2v5h2v6h2v8h2h2v2h2v5h2v3h2v3h2v5h2v-6h2v-6h2h2v2h2v11h2v-2h2h2h2v1h2v4h2v-6h2v11h2v-9h2v-3h2v-8h2v3h2v-7h2v13h2v1h2v-4h2v3h2v8h2v4h2v-3h2v5h2v-11h2v-2h2v1h2v-3h2v4h2v3h2v-4h2v-4h2v8h2v3h2v6h2v-1h2v-3h2v-3h2v9h2v-6h2v1h2v-2h2v1h2v9h2v10h2v-2h2v7h2v-1h2v-1h2v-4h2v-10h2v26h2v-6h2v-11h2v-11h2v2h2v-10h2v8h2v3h2v-7h2v6h2v-9h2v-14h2v-2h2v-1h2v-16h2v11h2v-9h2v7h2v-15h2v-2h2v8h2v3h2v17h2v1h2h2v-1h2v1h2v-10h2v3h2h2v7h2v-14h2v-1h2v3h2v-13h2v-5h2v7h2h2v3h2v3h2h2v-3h2v-1h2v-5h2v-3h2v6h2v-7h2v5h2h2v-1h2v2h2v-5h2v8h2v-4h2v1h2v1h2v3h2v-20h2v21h2v-3h2v-20h2v2h2v8h2v-6h2v-1h2v5h2v10h2v-1h2v2h2v-1h2v3h2v-6h2v1h2v12h2h2v-2h2v-11h2v3h2v-4h2v5h2h2h2v11h2h2v3h2v2h2v-4h2v-1h2v3h2v3h2v-3h2v3h2v6h2v4h2V1121h-2v3h-2v-2h-2v16h-2v-3h-2v50h-2v-37h-2v-7h-2v21h-2v-9h-2v-14h-2v4h-2v2h-2v13h-2v27h-2v-40h-2v-9h-2v17h-2v-13h-2v13h-2v-5h-2h-2v-1h-2v-24h-2v1h-2v29h-2v-18h-2v-4h-2v39h-2v-20h-2v-13h-2v-2h-2v-3h-2v41h-2v14h-2v23h-2v-64h-2v45h-2v-9h-2v-38h-2v9h-2v161h-2v-86h-2v-48h-2v-25h-2v-20h-2v14h-2v62h-2v-62h-2v-20h-2v-3h-2v13h-2v6h-2v80h-2v-71h-2v-5h-2v12h-2v18h-2v46h-2v43h-2v-15h-2v-39h-2v63h-2v-8h-2v-85h-2v-31h-2v20h-2v-20h-2v-1h-2v-1h-2v15h-2v10h-2v63h-2v-49h-2v15h-2v12h-2v19h-2v-12h-2v22h-2v-34h-2v-17h-2v79h-2v27h-2v-40h-2v-35h-2v-20h-2v-9h-2v28h-2v55h-2v-12h-2v-20h-2v-30h-2v46h-2v30h-2v-21h-2v-38h-2v-27h-2v-7h-2v7h-2v-1h-2v52h-2v28h-2v-53h-2v-18h-2v-4h-2v-13h-2v10h-2v-15h-2v-16h-2v18h-2v-40h-2v14h-2v45h-2v-32h-2v18h-2v34h-2v-54h-2v-1h-2v-16h-2v39h-2v14h-2v32h-2v-10h-2v-76h-2h-2v-4h-2v-25h-2v35h-2v14h-2v2h-2v15h-2v28h-2v-50h-2v47h-2v-31h-2v-20h-2v-12h-2v-19h-2v15h-2v3h-2v-27h-2v5h-2v27h-2v-15h-2v36h-2v-44h-2v-13h-2v12h-2v-14h-2v3h-2v-6h-2v1h-2v-10h-2v20h-2v-1h-2v-4h-2h-2v-25h-2v21h-2v-13h-2v-1h-2v13h-2v-4h-2v-4h-2v9h-2v-16h-2v5h-2v-5h-2v29h-2v-16h-2v1h-2v-3h-2v9h-2v-3h-2v-3h-2v22h-2h-2v14h-2v-36h-2v-9h-2v-2h-2v3h-2v-5h-2v-10h-2v-8h-2v1h-2v30h-2v8h-2v-15h-2v-5h-2v-13h-2v35h-2v-16h-2v26h-2v-21h-2v31h-2v-7h-2v51h-2v-39h-2v41h-2v3h-2v-81h-2v-10h-2v40h-2v72h-2v-83h-2v-19h-2v-9h-2v13h-2v-3h-2v-17h-2v24h-2v-3h-2v-31h-2v13h-2v18h-2v-4h-2v19h-2v53h-2v-67h-2v-9h-2v-2h-2v-15h-2v16h-2v7h-2v10h-2v9h-2v-4h-2v45h-2v-14h-2v28h-2v-22h-2v-15h-2v-3h-2v94h-2v-68h-2v-1h-2v-9h-2v-32h-2v16h-2v-31h-2v-2h-2v28h-2v8h-2v-4h-2v20h-2v-36h-2v9h-2v9h-2v-36h-2v-18h-2v2h-2v29h-2v137h-2v-84h-2v-55h-2v1h-2v44h-2v88h-2v-115h-2v6h-2v40h-2v-59h-2v-6h-2v3h-2v-2h-2v24h-2v30h-2v-7h-2v-5h-2v2h-2v-2h-2v-3h-2v-3h-2z M2460,1060h2v7h2v-8h2v4h2v3h2v-5h2v1h2v-3h2v5h2v2h2v2h2v4h2v-4h2v8h2v-4h2h2v7h2h2v-4h2v-3h2v1h2v5h2v4h2h2h2v5h2v-6h2v9h2v9h2v-5h2v-1h2v-7h2v-5h2v12h2v6h2v-2h2v-8h2v-7h2v-2h2v12h2v4h2v3h2v-7h2v12h2v-3h2v-14h2v-4h2v4h2v-11h2v-2h2v3h2v5h2v-3h2v7h2v-2h2v-1h2v-8h2h2v9h2h2v-9h2v9h2h2v7h2v-2h2v12h2v3h2v-15h2v7h2v2h2v-6h2v1h2v-5h2v-2h2v11h2v-4h2v-5h2v-1h2v-11h2v-11h2v2h2v9h2v6h2v-5h2v8h2v1h2v10h2v-17h2v6h2h2v-10h2v-2h2v7h2v4h2v1h2v4h2v-5h2v5h2v11h2v3h2v-2h2v-14h2v2h2v7h2v-3h2v-3h2v-2h2v-5h2v-5h2v4h2v10h2v3h2v-18h2v-4h2v-13h2v-5h2v29h2v8h2v-5h2v5h2v-1h2v3h2v-7h2v-15h2v7h2v11h2v-13h2v-18h2v11h2v3h2v12h2v-7h2v-11h2v8h2v-3h2v-18h2v-2h2v9h2v-12h2v32h2v-5h2v-13h2v-2h2v-15h2v1h2v26h2v5h2v-6h2v-17h2v5h2v-21h2v10h2v13h2v-24h2v11h2v3h2v-9h2v1h2v-6h2v11h2v5h2v-9h2v-11h2v-5h2v9h2v4h2v9h2v7h2v-8h2v13h2h2v-10h2v2h2v2h2v4h2v-7h2v-3h2v11h2v-2h2v14h2v-1h2v-7h2v-11h2v2h2v3h2v1h2v-6h2v6h2v-3h2v15h2v1h2v8h2v3h2v-5h2v3h2v-8h2v6h2v2h2v-10h2v3h2v10h2v1h2v9h2v-1h2v-7h2v12h2v9h2v-3h2v-10h2v3h2v-9h2v-1h2v8h2v3h2v7h2v2h2v9h2v-1h2v7h2v1h2v-8h2V1227h-2v2h-2v-21h-2v-43h-2v6h-2v3h-2h-2v35h-2v-22h-2v-14h-2v6h-2v-11h-2v15h-2v32h-2v49h-2v-64h-2v-17h-2v-7h-2v-18h-2h-2v29h-2v34h-2v-17h-2v-40h-2v10h-2v-20h-2v8h-2v59h-2v3h-2v-55h-2v1h-2v13h-2v-36h-2v-23h-2v-7h-2v53h-2v-9h-2v20h-2v-6h-2v23h-2v-42h-2v9h-2v-19h-2v-6h-2v-5h-2v1h-2v-1h-2v-13h-2v-6h-2v24h-2v43h-2v-14h-2v-20h-2h-2v-3h-2v90h-2v17h-2v11h-2v-65h-2h-2v8h-2v3h-2v-19h-2v-31h-2v-21h-2v48h-2v69h-2v-19h-2v33h-2v-8h-2v31h-2v-81h-2v-4h-2v16h-2v-43h-2v-15h-2v-3h-2v14h-2v39h-2v-38h-2v43h-2v-14h-2v46h-2v-67h-2v19h-2v-5h-2v-14h-2v-14h-2v29h-2v9h-2v-36h-2v18h-2v-7h-2v63h-2v48h-2v-36h-2v11h-2v-60h-2v28h-2v-27h-2v-45h-2v3h-2v-6h-2v6h-2v5h-2v-3h-2v21h-2v40h-2v16h-2v-43h-2v-1h-2v-24h-2v-5h-2v35h-2v-24h-2v20h-2v3h-2v6h-2v-40h-2v-10h-2v35h-2v15h-2v2h-2v-7h-2v8h-2v-23h-2v-24h-2v32h-2v2h-2v3h-2v-29h-2v5h-2v52h-2v6h-2v-11h-2v-7h-2v-45h-2v-4h-2v27h-2v-32h-2v48h-2v-28h-2v-2h-2v-11h-2v4h-2v-6h-2v3h-2v17h-2v11h-2v-28h-2v11h-2v12h-2v-18h-2v12h-2v-15h-2h-2v4h-2v54h-2v-55h-2v-7h-2v46h-2v18h-2v-9h-2v-50h-2v-26h-2v6h-2v-5h-2v-3h-2v12h-2v107h-2v-99h-2v-40h-2v5h-2v33h-2v33h-2v94h-2v-88h-2v-31h-2v-18h-2v10h-2v15h-2v7h-2v17h-2v-20h-2v-25h-2v-1h-2v-3h-2h-2v-7h-2v1h-2v7h-2v34h-2v-16h-2v3h-2v6h-2v1h-2v-16h-2v2h-2v2h-2v-20h-2v11h-2v-22h-2v-7h-2v-5h-2v-4h-2v-2h-2h-2v13h-2v4h-2v-11h-2v-17h-2v-13h-2v6h-2v6h-2v-12h-2v15h-2v34h-2v-2h-2v1h-2v2h-2v-40h-2z" fill="#C8DDF2" shape-rendering="crispEdges"/>
<path d="M344.5,1030v44M372.5,1045v72M378.5,1048v49M405.5,1047v36M459.5,1072v44M474.5,1051v59M488.5,1064v98M490.5,1058v55M575.5,1041v77M598.5,1024v77M681.5,1051v35M689.5,1030v83M703.5,1037v106M708.5,1034v42M716.5,1021v63M761.5,1046v81M763.5,1049v59M771.5,1050v60M774.5,1044v60M778.5,1046v122M780.5,1047v47M812.5,1098v91M815.5,1097v59M847.5,1055v45M853.5,1074v58M884.5,1044v44M904.5,1048v39M916.5,1045v87M925.5,1054v57M930.5,1058v55M1048.5,1027v82M1111.5,1047v36M1117.5,1053v54M1208.5,1066v58M1225.5,1051v47M1287.5,1070v62M1314.5,1086v40M1616.5,1065v189M1631.5,1048v59M1638.5,1048v121M1673.5,1021v82M1684.5,1015v61M1690.5,1019v64M1711.5,1014v67M1724.5,1021v118M1743.5,1017v58M1748.5,1015v61M1749.5,1023v54M1782.5,1027v46M1795.5,1024v72M1799.5,1016v107M1953.5,1057v68M1958.5,1058v95M1971.5,1058v72M1984.5,1052v203M2033.5,1037v89M2078.5,1047v87M2082.5,1047v49M2095.5,1041v85M2101.5,1048v101M2159.5,1078v52M2179.5,1082v81M2210.5,1090v160M2221.5,1082v154M2227.5,1082v134M2230.5,1085v86M2265.5,1121v174M2293.5,1053v160M2351.5,1048v79M2405.5,1053v71M2467.5,1062v92M2468.5,1065v91M2490.5,1071v59M2502.5,1077v83M2505.5,1081v99M2523.5,1085v71M2564.5,1078v89M2568.5,1083v75M2647.5,1083v122M2660.5,1100v101M2663.5,1086v81M2705.5,1086v154M2741.5,1075v147M2771.5,1051v137M2772.5,1042v98M2796.5,1049v101M2895.5,1116v51" stroke="#fff" stroke-width="1" fill="none" shape-rendering="crispEdges"/>
<path d="M332.5,1040.7l1,.2l1,-3.9l1,-2.6l1,.1l1,1.7l1,2.5l1,.6l1,2.7l1,4.2l1,5.4l1,-2.5l1,-3l1,-2.2l1,-1.5l1,-3.3l1,-1.5l1,2.3l1,4.5l1,.4l1,2.9l1,-.7l1,2.7l1,.5l1,-.5l1,1l1,2.3l1,-3.6l1,-1.6l1,-1.8l1,-2.4l1,-2.9l1,-2.6l1,4.4l1,2.5l1,7.2l1,6.8l1,7.3l1,6.4l1,-5.5l1,-3.5l1,-5l1,4.2l1,1.3l1,3.2l1,-1.3l1,-3.8l1,-2.3l1,-.1l1,-1.7l1,.3l1,-1l1,3.7l1,-2.5l1,-2.1l1,-1.7l1,-4.8l1,-2l1,-1l1,.2l1,1.5l1,.7l1,-.2l1,-2.1l1,4.4l1,5.8l1,1.9l1,4.4l1,2.9l1,1.7l1,-4l1,-1l1,-1.9l1,-3l1,-6.5l1,-.1l1,-6.4l1,6.1l1,7.6l1,9.3l1,11l1,5.1l1,-1.7l1,-2.8l1,-1.1l1,-2l1,2.6l1,-6.3l1,-5.9l1,2.5l1,-1l1,-3.3l1,.1l1,-3.1l1,-1.6l1,3.8l1,3.2l1,1.5l1,4.6l1,-4.9l1,-5.7l1,-7.2l1,-3.7l1,-5l1,-4.4l1,4l1,3l1,5.1l1,5.7l1,4.2l1,7.5l1,-2.6l1,.4l1,-1.6l1,1l1,4.6l1,-4.6l1,-.1l1,-.5l1,-2.2l1,-.8l1,-3l1,7.6l1,3.2l1,3.8l1,7.3l1,6l1,-4.6l1,-6.3l1,-5l1,-4.9l1,-5.5l1,-6.9l1,-1.7l1,5.9l1,1.6l1,-.8l1,-.2l1,2.1l1,2.1l1,-1.8l1,3.9l1,-.2l1,-1.6l1,-.1l1,-.5l1,.7l1,-1.5l1,4.6l1,5.5l1,2l1,3.1l1,3.2l1,4.9l1,3.9l1,-1.4l1,-4.8l1,-4.9l1,-8l1,-3.2l1,-6.3l1,-1.2l1,-1.7l1,-3.7l1,1.4l1,-3.2l1,2.6l1,-1l1,1.3l1,-1.3l1,-1.1l1,0l1,-2.8l1,.7l1,-2.6l1,.5l1,-1l1,1.9l1,1.4l1,-.8l1,-1.3l1,1.8l1,5.3l1,6.1l1,5l1,6.3l1,7.1l1,-2.8l1,-3.1l1,-.8l1,-7.4l1,-4.2l1,-1.5l1,-3.8l1,1.5l1,-.3l1,-1.3l1,6.8l1,-.2l1,1.6l1,4.4l1,2l1,1.1l1,-.3l1,-2.9l1,-3.1l1,-4.1l1,-3.9l1,-3.8l1,-2.1l1,-3.5l1,-1.8l1,12.2l1,10.8l1,10.5l1,3l1,-4.7l1,-7.9l1,-4.7l1,-3l1,-5.5l1,-2.1l1,-7.4l1,-5.9l1,5.5l1,4.1l1,.1l1,4.3l1,5.7l1,.3l1,1.7l1,-2.6l1,-3.8l1,-5.1l1,-2.4l1,-4.7l1,-1.9l1,.5l1,-1.6l1,4l1,3.6l1,-2.6l1,4l1,3l1,2.1l1,4.1l1,-2.9l1,-4.7l1,-6.3l1,-5.4l1,-6.4l1,-1l1,-2.5l1,2.6l1,8.7l1,6.1l1,2.7l1,3.2l1,4.1l1,7.7l1,-4.3l1,-5.5l1,-2.5l1,-5.3l1,-4.4l1,-1.3l1,-4.7l1,-3.9l1,-1.6l1,4.3l1,1.5l1,4.3l1,4l1,-1.1l1,-4.3l1,-.1l1,-2.2l1,-1l1,-3.4l1,-.9l1,-.8l1,.8l1,1.3l1,1.2l1,3.9l1,.3l1,4.7l1,2.3l1,4.6l1,2.3l1,1.9l1,1.9l1,-3.3l1,-6.9l1,-5.5l1,-6.2l1,-1.7l1,9.4l1,5.5l1,-.7l1,-1.2l1,-5.1l1,-.9l1,-1l1,-.7l1,-.3l1,-3.8l1,-1.9l1,-.4l1,1.6l1,9.4l1,2.5l1,7.4l1,4.3l1,7.4l1,4.8l1,-3.1l1,-5.3l1,-.5l1,-1l1,-1.1l1,-4.4l1,-2.3l1,-2l1,1.8l1,-.5l1,1.4l1,2.6l1,-.5l1,2.9l1,0l1,-1l1,.1l1,-1.8l1,-3l1,-2.6l1,-1.2l1,-.8l1,.1l1,-2.3l1,-1.7l1,1.1l1,4.6l1,4l1,4.5l1,1.1l1,.9l1,5.4l1,-.9l1,-12.4l1,-6.8l1,-10.1l1,.5l1,2.1l1,.5l1,4.2l1,.8l1,1.6l1,2.1l1,.9l1,4.5l1,-1.2l1,-4l1,-4.6l1,3.4l1,2.6l1,4.2l1,-.5l1,-.6l1,1.1l1,2.3l1,-1.3l1,2.8l1,-4.1l1,-.9l1,-1.2l1,-2.1l1,1.6l1,-3.8l1,-2.3l1,-.8l1,-1.3l1,1.1l1,-3l1,-.5l1,-2.6l1,3l1,.3l1,1.3l1,-1.7l1,3.7l1,.3l1,3.3l1,1.1l1,-1.3l1,-.4l1,-2.2l1,-3.7l1,-.9l1,-1.1l1,-3.4l1,.5l1,2l1,1.4l1,1.7l1,2.6l1,3.5l1,.2l1,3.8l1,.2l1,.7l1,-1l1,-4.2l1,.4l1,-1.3l1,-4.5l1,-.9l1,-.9l1,2l1,4.3l1,1.3l1,3.3l1,1l1,3.1l1,6.1l1,1.8l1,-2.1l1,-2.2l1,-.7l1,-3.5l1,3.8l1,3l1,3l1,3.2l1,2l1,-.2l1,-5.7l1,-1.4l1,1.2l1,.2l1,-2.5l1,-4.8l1,-1l1,-.9l1,-3.7l1,2.5l1,-1.1l1,2.1l1,0l1,3.9l1,-.9l1,.9l1,4.4l1,-1.1l1,1.4l1,3.8l1,5.9l1,2.2l1,7.8l1,5l1,7.6l1,1.8l1,-.3l1,-3.8l1,-5.3l1,-4.8l1,-3.2l1,-5.5l1,-4.2l1,-5l1,-3.1l1,-2.9l1,.2l1,7.4l1,7.3l1,8.6l1,3.7l1,8.3l1,4.5l1,6.9l1,6.2l1,6.2l1,-2.9l1,-9.4l1,-4.8l1,-6.6l1,-9.8l1,-3.3l1,2.5l1,1l1,2.5l1,5.2l1,2.1l1,-4l1,-4.6l1,-4l1,-2.7l1,-.8l1,-3l1,-5.3l1,2l1,5.8l1,4.5l1,6.4l1,4.4l1,2l1,1.5l1,1.9l1,-6.9l1,-5.2l1,-2.4l1,-4.4l1,-4.3l1,-3.6l1,-7.6l1,2.2l1,3.9l1,4.7l1,4.5l1,5.1l1,1.9l1,3.4l1,5.7l1,-4.3l1,-6.7l1,-5.5l1,-7.7l1,-2.8l1,-.6l1,2.4l1,-1.7l1,0l1,.5l1,3l1,1.3l1,1.2l1,-1.9l1,1.3l1,.5l1,2.5l1,-2.7l1,-5.2l1,-6.6l1,.2l1,-4l1,1.6l1,0l1,-1.9l1,.4l1,-4.2l1,-1.5l1,1.3l1,2.9l1,1.5l1,4.7l1,-.2l1,1.2l1,0l1,3.7l1,3.2l1,-2l1,-2l1,-1.3l1,3.2l1,.6l1,-.7l1,-.5l1,-2l1,-1.9l1,-5.1l1,.1l1,-.7l1,-.5l1,1.1l1,2l1,4.8l1,-.4l1,2.1l1,-4.3l1,.7l1,-2.8l1,-2l1,-1.8l1,-.8l1,0l1,.3l1,-2.9l1,-3.6l1,-5.2l1,-.6l1,4.1l1,7.2l1,7.9l1,6.8l1,7.8l1,5.4l1,-1.3l1,-6l1,-5.7l1,-5.9l1,-4.7l1,-7.7l1,-5.9l1,-4.3l1,-3.7l1,2.7l1,3.9l1,2.4l1,2.8l1,7.5l1,2.1l1,-.5l1,-.1l1,-.8l1,.9l1,-1l1,4.7l1,-1.1l1,.9l1,-1.7l1,-4.4l1,7.2l1,2.4l1,3l1,.5l1,1.4l1,-4.5l1,-1.5l1,-8l1,-6l1,-3l1,-8.1l1,-.9l1,-7.3l1,5.2l1,5.2l1,5.5l1,4.6l1,8.7l1,2.8l1,1.8l1,6.1l1,3.1l1,-3.9l1,-6l1,-4.1l1,-4.4l1,-4.8l1,-6.5l1,-1.5l1,-1.4l1,3.7l1,7.9l1,7.2l1,5.6l1,4.1l1,-5.1l1,-5.6l1,-4.4l1,3.7l1,1.4l1,.9l1,-1.2l1,-2.2l1,3.5l1,3.1l1,3.1l1,3.5l1,3.7l1,.1l1,-.5l1,-2.1l1,-2.6l1,-5.1l1,-5.3l1,-4.4l1,-2.1l1,.5l1,-2.8l1,5l1,7.8l1,8.2l1,6.4l1,2.6l1,2.5l1,1.4l1,-1.5l1,-7l1,-4.4l1,-10.3l1,-6.8l1,-4.3l1,6.6l1,5.3l1,7.6l1,-3.7l1,-3.3l1,-2.2l1,-6.3l1,-.7l1,.1l1,.2l1,4l1,2.6l1,3.7l1,5.3l1,.1l1,6.2l1,1.4l1,-7.7l1,-4l1,-10.1l1,-5l1,-.3l1,-1.5l1,-3l1,-4.8l1,-2.4l1,6.7l1,-1l1,4.9l1,2.3l1,-2.9l1,2.5l1,1.7l1,1.7l1,1.2l1,.5l1,-1.7l1,1.3l1,9.5l1,1.5l1,-1.6l1,-.8l1,5.1l1,.3l1,-2.3l1,-4.8l1,-4.6l1,-3l1,-3.5l1,-2.8l1,-3.6l1,1.1l1,-.9l1,-.6l1,.2l1,-.1l1,5.2l1,1.4l1,.9l1,-.1l1,-2.8l1,-.1l1,-3l1,.9l1,2.6l1,3.6l1,2.8l1,2.7l1,3.2l1,3.4l1,-6.8l1,-4.1l1,-4.7l1,-8.2l1,-5l1,1.5l1,-.8l1,-1.6l1,-1.8l1,-1.1l1,1.6l1,4.4l1,1.6l1,1.9l1,4.9l1,6.1l1,2.1l1,-.7l1,1.2l1,0l1,.8l1,-.2l1,3.9l1,2.3l1,3.6l1,4.5l1,-5.3l1,-2.2l1,-8.7l1,-7.5l1,-3.7l1,-.8l1,-.7l1,-2.4l1,-3.9l1,2.3l1,2.2l1,4.7l1,6.8l1,1.7l1,3.2l1,2.3l1,-2.8l1,2.1l1,-.6l1,-.7l1,-2.5l1,-4.4l1,-1l1,1.7l1,6.8l1,8.9l1,5.1l1,4.6l1,12.8l1,7l1,2.4l1,-5.6l1,-6l1,-3.7l1,-.5l1,-3.3l1,-5.3l1,-2.5l1,-4.9l1,1.9l1,1.4l1,.6l1,5.7l1,5.3l1,-1.8l1,1.5l1,-2.3l1,.3l1,-2.5l1,-1.2l1,-3.8l1,-4.6l1,5l1,2.4l1,1.2l1,-1.1l1,3.4l1,-.5l1,3.3l1,3l1,-1.7l1,-4.1l1,-.2l1,-1.7l1,.5l1,3.2l1,-.7l1,.5l1,-.9l1,6.4l1,.2l1,4.3l1,1.6l1,-.3l1,-4.6l1,-3.6l1,-4.8l1,-3l1,-5.8l1,3.3l1,-.9l1,2.8l1,2.7l1,3.3l1,2.4l1,1l1,3.4l1,-2.6l1,-2.9l1,-2.8l1,-4.6l1,-1.8l1,-5l1,-2.6l1,-3.6l1,1l1,-.7l1,-2.1l1,6.3l1,.6l1,1.9l1,5.8l1,5.9l1,-4.3l1,-5.4l1,-5.5l1,-4.6l1,-2.8l1,-2.7l1,-2.8l1,.5l1,-4.5l1,2.9l1,3.2l1,3.1l1,8.9l1,-.4l1,-5.1l1,-5.6l1,-.5l1,-3.2l1,-.7l1,-2.4l1,4.7l1,2.4l1,1.2l1,-1.4l1,-1.4l1,4l1,-.2l1,1.8l1,-4.2l1,1.9l1,2.7l1,.9l1,4l1,1l1,1.4l1,.7l1,-.5l1,-1.6l1,-2l1,1.8l1,-2.1l1,-4.7l1,1l1,-.5l1,-1.7l1,2l1,-.5l1,5.8l1,-1.6l1,-1.1l1,-2.9l1,-4.1l1,-3.3l1,-5l1,1l1,4.1l1,4l1,4.2l1,8.3l1,9.5l1,7.1l1,11.1l1,-8.5l1,-6.9l1,-8.5l1,-10.6l1,-4.3l1,-8l1,-.9l1,2.9l1,1.1l1,3l1,8.9l1,7.2l1,9.7l1,5l1,9.1l1,1.4l1,-4.5l1,-1.4l1,-2.6l1,-8.4l1,-4.5l1,-4.4l1,-.7l1,-3.1l1,-.7l1,3.5l1,3.5l1,5.6l1,6.6l1,6.8l1,5.3l1,6.5l1,-8.9l1,-8.7l1,-8.3l1,-6.7l1,.2l1,3.9l1,1.4l1,.9l1,-3.4l1,-2.9l1,-5.6 M1613.5,1082l1,-1.5l1,4.8l1,-3.1l1,-1.2l1,1l1,-.4l1,.2l1,-.1l1,-3.6l1,-1.1l1,-3.6l1,-5.8l1,-3l1,.2l1,-2l1,2.1l1,.4l1,2l1,1.3l1,10l1,11.2l1,4.6l1,-.2l1,5.4l1,-4.8l1,-5l1,-8.7l1,-6.5l1,-5.8l1,-2.9l1,.7l1,-1.8l1,5.8l1,2.3l1,-11.1l1,-7.1l1,-1.5l1,-1.3l1,-.5l1,3.1l1,-2.4l1,0l1,-4.4l1,-6l1,2.5l1,.4l1,4.6l1,3.9l1,4l1,3.9l1,7.8l1,4.3l1,5.4l1,-10l1,-7.4l1,-7.4l1,-5.9l1,1.1l1,-3.9l1,-5.8l1,3.5l1,-1.2l1,6l1,3.9l1,.8l1,-5.3l1,-3.8l1,-3.8l1,-1.7l1,-1.9l1,-.2l1,-.7l1,1.3l1,1.8l1,2.4l1,-.9l1,3l1,2.5l1,.8l1,1.3l1,.5l1,-1.4l1,3.8l1,2l1,-3.7l1,-3l1,-6.2l1,-5.6l1,3.9l1,8.9l1,4.3l1,2.5l1,-.2l1,-3l1,-3l1,-.8l1,-5.2l1,-3.8l1,-3.1l1,.6l1,-3.3l1,-4.7l1,-3.7l1,10.9l1,10.9l1,6.4l1,10l1,13.8l1,8.8l1,7.8l1,-6.8l1,-28.2l1,-7.1l1,1.3l1,.1l1,1.2l1,1.4l1,-.7l1,1.3l1,-.7l1,3.7l1,4.7l1,0l1,4.6l1,2.7l1,.4l1,-7l1,-5.7l1,-4.8l1,-6.6l1,.1l1,-3.4l1,-4.2l1,-.2l1,7.5l1,5.4l1,6.2l1,5.1l1,-3.1l1,-1.6l1,-6l1,-1.5l1,-3l1,-1.7l1,-1.1l1,-.9l1,1.1l1,2.4l1,2.1l1,-.8l1,.7l1,5.6l1,-1l1,-1.1l1,-.4l1,-2.4l1,4.2l1,1.8l1,2l1,.9l1,2.1l1,-1.8l1,-.9l1,-2.9l1,-5.5l1,-4.7l1,1.8l1,-.6l1,1.3l1,1.3l1,2.3l1,1.2l1,-4.8l1,-2.7l1,-4.3l1,2.1l1,1.9l1,-.8l1,5.2l1,1.6l1,-1.5l1,-2.4l1,-2.9l1,-1.6l1,3.4l1,6.6l1,8.9l1,3.2l1,.2l1,-2.6l1,-3.4l1,-4.5l1,-4.3l1,1.1l1,4.7l1,7.2l1,-6.2l1,-7.2l1,-7.5l1,-1.8l1,-1.4l1,.3l1,-1l1,-5.3l1,.6l1,1.1l1,1.8l1,1.4l1,2.4l1,3.5l1,13.7l1,9.4l1,5.3l1,10.2l1,3l1,-6l1,-6.1l1,-4.9l1,-2.8l1,.5l1,-2.5 M1905.5,1099.5l1,-7.4l1,-3.2l1,-4.4l1,2.9l1,8.5l1,8.6l1,8.4l1,1.1l1,1.5l1,-.6l1,-8.5l1,-12.6l1,-9.7l1,-1.6l1,-2.3l1,-2.4l1,.9l1,1.3l1,1.8l1,1.2l1,-1.5l1,5l1,4.8l1,8.7l1,5.1l1,2.9l1,-.6l1,-.4l1,1.4l1,.6l1,-1.7l1,-5.6l1,-1.3l1,-4.1l1,.6l1,1.9l1,1.7l1,3.1l1,-3.1l1,-5l1,-6.1l1,-3.5l1,-1.8l1,-1.2l1,-2.6l1,-5.3l1,-.5l1,1.4l1,3.1l1,.2l1,2.2l1,.4l1,-2l1,1.4l1,1.6l1,.8l1,-2.3l1,.3l1,-2.3l1,-4.2l1,.6l1,1.9l1,4l1,8.1l1,7.3l1,-6.4l1,-8.4l1,-5.5l1,-8.8l1,3.5l1,5.8l1,13.1l1,6.1l1,-6.3l1,-14.1l1,-14.3l1,1.9l1,5.5l1,2.2l1,3l1,3.3l1,11.6l1,14.6l1,17.7l1,10.4l1,14.2l1,-14.1l1,-21l1,-19.5l1,-15.3l1,-6.7l1,-5.9l1,6.6l1,5.2l1,2.3l1,2.6l1,4.5l1,-.5l1,-5.1l1,-.2l1,-1.4l1,-2.7l1,-5.7l1,-2.7l1,-3.5l1,-3.4l1,7.3l1,10.8l1,8.6l1,9.1l1,-2.6l1,-4.1l1,-6.2l1,-9.2l1,-5.3l1,-2.7l1,-2.5l1,.2l1,-1.1l1,-2.5l1,-.4l1,.4l1,2.1l1,-.2l1,3.3l1,2.6l1,2.4l1,.2l1,1.3l1,-.4l1,-.7l1,-3.1l1,-.8l1,-2.9l1,-1.6l1,-.3l1,5.3l1,4.5l1,3.7l1,-.1l1,-4l1,-3.4l1,-2l1,-2.9l1,1.3l1,-1.5l1,-3.5l1,-3.6l1,1l1,5.9l1,2.8l1,5.6l1,5.7l1,5.7l1,2.4l1,-6.5l1,-.4l1,-7.6l1,-3.9l1,-8.3l1,-2.4l1,-7.1l1,1.9l1,1.5l1,2.6l1,1.6l1,1l1,6.1l1,11l1,5.5l1,1.6l1,-3.9l1,-2.4l1,-4.5l1,-2.7l1,-1.4l1,.5l1,2.8l1,.4l1,4.3l1,.4l1,4l1,-2.9l1,-5.5l1,-2.9l1,-3.1l1,-3.1l1,-1.7l1,-1.2l1,-4.1l1,1.2l1,-1.3l1,.9l1,3.1l1,-1l1,3.7l1,4.2l1,2.4l1,5.2l1,9l1,6.2l1,.4l1,-3.8l1,-7.1l1,8.2l1,4.6l1,6l1,-3.9l1,-8l1,-6.2l1,-5.7l1,1l1,5.2l1,5l1,-4l1,-6.1l1,-3.7l1,-6.6l1,6.2l1,13.9l1,7.3l1,-6l1,-2.4l1,-5.8l1,-9l1,-3.3l1,12l1,10.9l1,3.9l1,7.4l1,-5.9l1,-9.9l1,-12.9l1,-2.4l1,-1.4l1,-2.3l1,-4l1,-1.1l1,1.9l1,4l1,4.6l1,3.2l1,5.7l1,4.5l1,2.2l1,4.7l1,6.5l1,3.4l1,0l1,-4.7l1,-2.4l1,-1.9l1,-1.3l1,3.9l1,0l1,-.1l1,7l1,8.2l1,9.7l1,7.1l1,-7.4l1,-7.3l1,-6.2l1,-5l1,-2.1l1,-.2l1,.5l1,1.3l1,1.6l1,4.6l1,.5l1,1.5l1,.4l1,3.8l1,5.9l1,3.7l1,4.1l1,1.2l1,-4.3l1,-4l1,-3.6l1,-2l1,-3.4l1,2.2l1,2.2l1,-.8l1,3.4l1,-.2l1,-6.3l1,-3.7l1,-2.7l1,-5.6l1,1.7l1,-5l1,-2.7l1,.6l1,4.5l1,4.2l1,2.3l1,4.6l1,5.3l1,7.9l1,5.1l1,4.2l1,-5.9l1,-6.4l1,-8.1l1,-3.3l1,-4.7l1,2.1l1,-3.9l1,2.3l1,.5l1,5.5l1,7.8l1,6l1,-5.7l1,.8l1,-3.9l1,-3.7l1,-1.4l1,-3.8l1,.9l1,.8l1,0l1,3.6l1,3.5l1,2.3l1,2.9l1,4.6l1,2.9l1,4.5l1,4.7l1,-.4l1,-3.8l1,-2.7l1,-3l1,-2.2l1,-6.2l1,-4l1,.3l1,5.3l1,1.4l1,6.5l1,5.2l1,.7l1,4.8l1,-1.3l1,4.2l1,1.1l1,6.5l1,-.8l1,-3.4l1,-5.1l1,-5l1,9.8l1,7.5l1,9.8l1,5.2l1,10.1l1,6l1,-14.4l1,-10.6l1,-9.6l1,-9.9l1,-11.2l1,-1.8l1,-4.7l1,-2.5l1,-6.1l1,2.8l1,7.3l1,1.8l1,5.9l1,1.4l1,-1.3l1,-4.9l1,2.5l1,-4.2l1,-.4l1,-1.1l1,-3.3l1,-.5l1,-6.3l1,1l1,-.2l1,3.9l1,14.8l1,16l1,14.8l1,-2.1l1,-10.1l1,-10.2l1,-12.5l1,-10.2l1,-11l1,-7.1l1,-3.5l1,-8.1l1,-3.5l1,4l1,11.1l1,12.2l1,-.5l1,-2.2l1,-1.8l1,-4.3l1,-3.3l1,-2.5l1,1l1,-1.5l1,2.1l1,.2l1,-3.8l1,1.2l1,-1.3l1,4.9l1,.2l1,5l1,3.2l1,3.2l1,-4.4l1,-3.8l1,-1.3l1,-5.9l1,-2.2l1,-2.9l1,-1.6l1,-4.1l1,-3l1,-2.4l1,3l1,-2.5l1,.7l1,.1l1,.3l1,3l1,-4l1,3.5l1,3.9l1,3.8l1,.9l1,-9.5l1,-8.7l1,2.5l1,2.1l1,3.1l1,3.6l1,7.4l1,12.8l1,10.8l1,4.3l1,-10.7l1,-13.1l1,-10.5l1,-8.6l1,-6.6l1,-2.7l1,-1.9l1,6.7l1,6.6l1,4.1l1,4.6l1,7.2l1,4.2l1,-1.1l1,-4.1l1,-.7l1,-2.5l1,-4.3l1,-3.3l1,2.7l1,-5.4l1,-3.1l1,7.7l1,14.5l1,11.6l1,7.1l1,-9.7l1,-6l1,-8l1,-8.3l1,-5.7l1,-1.6l1,-3.1l1,-3.6l1,-1.3l1,-3.1l1,-3.9l1,4.3l1,4.7l1,5.6l1,5l1,4l1,1.9l1,6.1l1,4.4l1,1.8l1,-1.6l1,-4.8l1,-5.9l1,-3.2l1,-5.5l1,8.2l1,3.8l1,9.5l1,4l1,6.4l1,-1.8l1,-6.6l1,-9.6l1,-5.4l1,-8.5l1,-.7l1,-4.2l1,-1.9l1,-2.5l1,1.9l1,6l1,7.3l1,1.3l1,3.4l1,4l1,4.5l1,.2l1,2.6l1,-3.2l1,-2.3l1,-6.1l1,3.5l1,7l1,1.1l1,4.6l1,7.1l1,-4.1l1,-3.3l1,-2.4l1,-3.9l1,-2.8l1,-.7l1,-2.4l1,-1l1,-.5l1,.2l1,.4l1,4.3l1,-1.1 M2460.5,1090.3l1,5.6l1,9.6l1,-.1l1,-7l1,-4.4l1,-4.6l1,-5.4l1,-1.3l1,5.2l1,2.5l1,1.6l1,-1.7l1,.3l1,-1.8l1,-3.4l1,-5.3l1,1l1,.4l1,-1.9l1,-.9l1,6.7l1,3.4l1,1.9l1,1.4l1,.7l1,.8l1,2.6l1,-1l1,1.1l1,4.4l1,-2.6l1,.6l1,6.1l1,1.4l1,1.4l1,0l1,.1l1,5.7l1,-3l1,5.1l1,1.6l1,2.7l1,-1.2l1,-1.7l1,-4.6l1,-5.7l1,-5.5l1,-8.8l1,4.6l1,5.4l1,3.9l1,-1.3l1,6.8l1,5.7l1,2.6l1,5.4l1,6.5l1,-5.6l1,-2.6l1,-6.9l1,-5.9l1,-3.4l1,1.3l1,.9l1,5.6l1,3.6l1,4.3l1,1l1,2.9l1,1.3l1,-6.7l1,-5.6l1,-4.9l1,-1.7l1,4.6l1,1l1,5.8l1,8.4l1,2.1l1,1.1l1,.2l1,-1l1,.7l1,-.8l1,1.6l1,-.2l1,.7l1,-1.6l1,-.6l1,-2.5l1,-7.2l1,-4.1l1,-4.1l1,-3.3l1,.2l1,-3.5l1,-3.7l1,-3.5l1,-2.9l1,2.7l1,5.8l1,3l1,1.6l1,2.5l1,-3.3l1,.7l1,-2.4l1,0l1,-2.5l1,-2.4l1,-5l1,3.7l1,4.5l1,4.7l1,6.5l1,8.4l1,-.6l1,-2.5l1,-6.1l1,-8.9l1,-5.2l1,-.7l1,-3l1,5.2l1,4.9l1,6.7l1,6.8l1,4.8l1,3.9l1,4.4l1,1.7l1,4.4l1,3.2l1,3.7l1,-3.6l1,-4.5l1,-4.9l1,-.3l1,-6l1,-4.4l1,-6.5l1,-1.8l1,5.6l1,7l1,6.1l1,1.5l1,-1.4l1,-6.4l1,-3.4l1,-6.3l1,-3.9l1,-4.8l1,2.6l1,7.4l1,4.8l1,5.3l1,-4.4l1,-7l1,-4.2l1,-12.2l1,-2.1l1,0l1,4.3l1,0l1,2.5l1,8l1,6.6l1,7.5l1,3.5l1,7.9l1,8.1l1,-2l1,-3l1,-6.7l1,-7.2l1,-5.7l1,-4l1,-3.9l1,-6.2l1,-2l1,-4.2l1,-4.4l1,-3.8l1,2.7l1,3.1l1,4.7l1,6.8l1,2l1,-1.5l1,-.1l1,1.3l1,-3l1,9.8l1,10l1,13l1,9.4l1,-.6l1,-1.7l1,-3l1,-1.4l1,-6.4l1,-5.1l1,-.4l1,-3.1l1,-5.8l1,-3l1,-1.4l1,-3.7l1,-2.9l1,13.7l1,13.4l1,1.2l1,-8.8l1,-9.5l1,-12.2l1,1.3l1,5.7l1,8.6l1,7.9l1,-4.1l1,-.1l1,-.7l1,-.6l1,-2.8l1,4.4l1,6.8l1,6.6l1,2.3l1,-17.9l1,-19.8l1,-7.2l1,5.9l1,2.4l1,5.7l1,-.9l1,-1l1,-3.6l1,.5l1,-1.6l1,.3l1,.2l1,-.3l1,1l1,-1.1l1,-4.8l1,2.3l1,16.8l1,13.3l1,21.4l1,.3l1,-18.6l1,-21.8l1,-11.5l1,-3.3l1,-1.3l1,-3.7l1,.5l1,.3l1,2.7l1,2.9l1,2.7l1,4.6l1,4.5l1,4.2l1,7l1,1.3l1,-.1l1,-13.3l1,-10.7l1,-11.1l1,-14.3l1,1.8l1,1.6l1,5.8l1,5.5l1,5.8l1,35.8l1,19.2l1,-17.8l1,-13.6l1,-14.4l1,-16.5l1,-13.5l1,-.1l1,.8l1,-4.6l1,9.6l1,4.6l1,7.6l1,8.7l1,.7l1,2.3l1,4.3l1,-2.4l1,2l1,9.7l1,13.4l1,16.4l1,5.9l1,-29.5l1,-27l1,-6.6l1,22.6l1,20.8l1,20.5l1,14.6l1,-15.5l1,-13.8l1,-12.7l1,-22.2l1,-21.2l1,-22.2l1,-1.9l1,1.1l1,-3.3l1,1l1,4.8l1,5.8l1,6.6l1,7.9l1,.5l1,9.7l1,1.8l1,-8.6l1,-7.7l1,-5.9l1,-6.6l1,-4.4l1,2.4l1,7.4l1,3.4l1,.4l1,3.5l1,2.5l1,5.3l1,-.4l1,3.2l1,6.9l1,8.2l1,.5l1,-10.1l1,-8.6l1,-13l1,-8.8l1,-1.7l1,2.7l1,2.8l1,3.9l1,-1.7l1,5.9l1,-3.2l1,2.8l1,2.4l1,2.5l1,4.7l1,-3.3l1,-.2l1,3.9l1,3.5l1,-1.5l1,2.8l1,5.2l1,4.3l1,.1l1,-4.8l1,-7l1,-8l1,-5.6l1,-5.1l1,-.7l1,6l1,-1.9l1,-1.4l1,4.5l1,1.9l1,5.2l1,2.2l1,6.1l1,11.3l1,-1.4l1,.2l1,.5l1,1.1l1,3.5l1,-3.8l1,-.1l1,6.6l1,2.6l1,2.3l1,-.8l1,-5.7l1,-3.2l1,-2.9l1,-1.7l1,3.7l1,2.2l1,4.7l1,1.5l1,-1.3l1,1.4l1,-3.9l1,.3l1,-2.2l1,-.6l1,1.2l1,-.8l1,.3l1,6.9l1,8.6l1,6.1l1,8.3l1,-1.2l1,-5.5l1,-2.4l1,-.4l1,-4.1l1,-5.8l1,-.7l1,-4.3l1,3.3l1,5.6l1,6l1,3.1l1,5.8l1,5.7l1,5.4l1,-4.3l1,-4.9l1,-2.5l1,-2.4l1,-3.1l1,-1.9l1,-2.5l1,.7l1,5.6l1,5.2l1,0l1,6.1l1,5l1,3.6l1,3.2" fill="none" stroke="#00658C" stroke-width="4.1" stroke-linejoin="round" stroke-linecap="round"/>
<path d="M331,1412h2h2v-1h2v-3h2v9h2v8h2v-5h2v-6h2v2h2v1h2v6h2v3h2v-3h2v-1h2v-3h2v-6h2v-1h2v4h2v9h2v11h2v-7h2v5h2h2v-2h2v-6h2v-4h2v4h2v-8h2v-2h2v1h2v-7h2v-1h2v9h2v2h2v12h2v-3h2v-3h2v-12h2h2v6h2v17h2v1h2v-1h2v-5h2v-3h2v-2h2v-6h2v2h2v2h2v4h2v-6h2v-6h2v-8h2v5h2v11h2v9h2v-5h2v-1h2v-4h2v4h2v-7h2v2h2v6h2v7h2v-1h2v-6h2v-11h2v5h2v-7h2v5h2v6h2v-2h2v-7h2h2v9h2v5h2h2v13h2v2h2v-11h2v-12h2v-7h2v3h2v-2h2v-3h2v2h2h2v-7h2h2h2h2v2h2v10h2v7h2v5h2v-7h2v-3h2v-5h2v4h2v4h2v-3h2v1h2v2h2v-7h2v-3h2v-7h2v7h2v20h2v11h2v-11h2v-11h2v-14h2h2v2h2v11h2h2v-5h2v-3h2h2v-8h2v9h2v5h2v7h2h2v-6h2v-12h2v-6h2v6h2v4h2v10h2v11h2v-10h2v-7h2v-8h2v-1h2v5h2v7h2v-8h2h2v-3h2v3h2v-7h2v2h2v12h2v3h2v3h2v2h2v-7h2v-10h2v14h2v-2h2v-1h2v-3h2v-6h2v-7h2v4h2v19h2v13h2v5h2v-3h2v-6h2v-2h2v-3h2v2h2v3h2v-2h2v1h2v-9h2v2h2v-7h2v-4h2v9h2v10h2v-1h2v2h2v-10h2v-18h2v5h2v6h2v-3h2v11h2v-6h2v-5h2v3h2v3h2v7h2v-2h2v1h2v-4h2v-5h2v-7h2h2v-3h2v-1h2v5h2v4h2v6h2h2v-4h2v-6h2v-1h2v-5h2v3h2v8h2v6h2h2v-5h2v-2h2v-11h2v4h2v6h2v5h2v8h2v-1h2v-7h2v5h2v3h2h2v-1h2v2h2v-5h2h2v-5h2v-4h2v-1h2v4h2v5h2h2v7h2v9h2v10h2v3h2v-9h2v-8h2v-11h2v-6h2v-6h2v17h2v6h2v14h2v12h2v3h2v-13h2v-15h2v-3h2v11h2v8h2v-7h2v-9h2v-5h2v3h2v8h2v-1h2v8h2v2h2v-8h2v-5h2v-16h2v2h2v7h2v3h2v16h2v-6h2v-16h2v-4h2v2h2v3h2h2v-6h2v2h2v3h2v-8h2v4h2v1h2v-9h2v-1h2v1h2v3h2v-4h2v10h2v5h2v-2h2v-5h2v1h2v1h2v-7h2v2h2v-2h2v5h2v-2h2v2h2v3h2v-5h2v-7h2v-3h2v-7h2v19h2v16h2v10h2v-8h2v-15h2v-16h2v-8h2v5h2v13h2v6h2v-3h2v2h2v6h2v-4h2v1h2v1h2h2v10h2v-10h2v-10h2v-10h2v-8h2v16h2v13h2v2h2v14h2v-9h2v-9h2v-3h2v-4h2v-2h2v10h2v6h2v-3h2v5h2v-4h2v5h2v4h2v9h2v2h2v-7h2v-8h2v-2h2v-4h2v8h2v14h2v1h2v10h2v-14h2v-16h2v-5h2v13h2v-7h2v-6h2v2h2v2h2v3h2v11h2v1h2v-7h2v-13h2v-4h2v-7h2v5h2v5h2v-1h2v5h2v3h2v-6h2v6h2v1h2v6h2v-5h2v-2h2v-7h2v-6h2v-2h2v1h2v3h2v1h2v-2h2v1h2v-3h2v1h2v11h2v-7h2v-9h2v-4h2v2h2v-8h2v-4h2v11h2v2h2v5h2v6h2v-2h2v5h2v5h2v1h2v-11h2v-10h2v-3h2v-3h2v-2h2v14h2h2v2h2v-4h2h2h2v4h2v2h2v13h2v9h2v-4h2v-5h2v-8h2v-4h2v1h2v5h2v6h2v-3h2v-1h2v-9h2v2h2v3h2v7h2v4h2v1h2v-4h2h2v-2h2v-3h2v9h2v-3h2v-4h2v-4h2h2v-1h2v2h2h2h2v8h2v-5h2v-12h2v-2h2v-7h2v6h2v-1h2v13h2v-7h2v-12h2v-6h2v2h2h2v4h2v11h2v-7h2v-13h2v-3h2v7h2v5h2v6h2v1h2v-2h2v10h2v2h2v2h2v-7h2v-4h2v4h2h2v-2h2v1h2v2h2v-2h2v-14h2v-1h2v17h2v16h2v14h2v-11h2v-9h2v-16h2v-8h2v2h2v19h2v18h2v12h2h2v-12h2v-7h2v-15h2v9h2v5h2v9h2v18h2v-11h2v-19h2h2v8h2v-6h2v-18h2V1527h-2v15h-2v-25h-2v-12h-2v-6h-2v43h-2v76h-2v15h-2v-111h-2v-15h-2v133h-2v-142h-2v-8h-2v86h-2v-70h-2v62h-2v-96h-2v-9h-2v-2h-2v-6h-2v16h-2v30h-2v74h-2v-95h-2v7h-2v-30h-2v42h-2v-39h-2v11h-2v1h-2v-5h-2v10h-2v73h-2v-36h-2v1h-2v-24h-2v-24h-2v74h-2v-61h-2v-19h-2v7h-2v66h-2v-74h-2v-13h-2v1h-2v13h-2v45h-2v-49h-2v37h-2v-6h-2v-33h-2v42h-2v7h-2v-15h-2v-15h-2v-13h-2v162h-2v-134h-2v46h-2v-28h-2v-24h-2v34h-2v11h-2v-43h-2v-7h-2v-8h-2v13h-2v17h-2v8h-2v2h-2v-22h-2v18h-2v6h-2v-21h-2v50h-2v182h-2v-187h-2v-63h-2v8h-2v53h-2v-51h-2v47h-2v-29h-2v-20h-2v11h-2v-15h-2v112h-2v-73h-2v-30h-2v13h-2v24h-2v-52h-2v40h-2v-2h-2v-10h-2v15h-2v-30h-2v-22h-2v-2h-2v15h-2v6h-2v-28h-2v65h-2v130h-2v-144h-2v-17h-2v-1h-2v-22h-2v1h-2v14h-2v-20h-2v-3h-2v-1h-2v81h-2v-86h-2v15h-2v47h-2v78h-2v-103h-2v-13h-2v41h-2v-7h-2v-35h-2v-6h-2v-1h-2v-5h-2v34h-2v7h-2v19h-2v-25h-2v-13h-2v16h-2v-14h-2v-10h-2v34h-2v-8h-2v-28h-2v33h-2v2h-2v-15h-2v-15h-2v126h-2v-109h-2v27h-2v9h-2v-38h-2v1h-2v-10h-2v3h-2v1h-2v32h-2v7h-2v-53h-2v1h-2v17h-2v15h-2v-9h-2v16h-2v-18h-2v-23h-2v15h-2v27h-2v5h-2v8h-2v-13h-2v-13h-2v-23h-2v-4h-2v14h-2v87h-2v-54h-2v-33h-2v-23h-2v16h-2v134h-2v-122h-2v-6h-2h-2v3h-2v-5h-2v130h-2v-119h-2v-47h-2v15h-2v193h-2v-179h-2v-5h-2v2h-2v18h-2v-26h-2v-2h-2h-2v117h-2v-94h-2v-26h-2v-14h-2v54h-2v96h-2v-119h-2v-3h-2v72h-2v-38h-2v-32h-2v-21h-2v-3h-2v18h-2v-10h-2v102h-2v-68h-2v11h-2v-38h-2v24h-2v-33h-2v14h-2v62h-2v-68h-2v2h-2v9h-2v42h-2v-37h-2v19h-2v-3h-2v-28h-2v-20h-2v4h-2v6h-2v1h-2v1h-2v53h-2v-25h-2v-22h-2v2h-2v5h-2v-5h-2v41h-2v7h-2v26h-2v-34h-2v47h-2v-68h-2v-12h-2h-2v-5h-2v53h-2v-35h-2v17h-2v3h-2v-29h-2v-16h-2v6h-2v25h-2v-13h-2v18h-2v28h-2v-2h-2v-9h-2v32h-2v1h-2v-52h-2v-9h-2v3h-2v-27h-2v-11h-2v9h-2v47h-2v-10h-2v16h-2v52h-2v-81h-2v-3h-2v-19h-2h-2v3h-2v-2h-2v74h-2v-34h-2v-23h-2v-21h-2v9h-2v28h-2v7h-2v89h-2v-106h-2h-2v-26h-2v19h-2v-2h-2v13h-2v-17h-2v-10h-2v16h-2v-8h-2v-18h-2v29h-2v26h-2v-29h-2v-33h-2h-2v8h-2v8h-2v-8h-2h-2v152h-2v-160h-2v10h-2v26h-2v4h-2v-3h-2v-6h-2v-9h-2v21h-2v-21h-2v164h-2v-170h-2v-3h-2v7h-2v-11h-2v-2h-2v9h-2v-11h-2v-4h-2v9h-2h-2v39h-2v35h-2v-21h-2v-5h-2v-48h-2v-5h-2v4h-2v124h-2v184h-2v-245h-2v-13h-2v10h-2v-8h-2v-25h-2v-19h-2v20h-2v37h-2v-19h-2v9h-2v-31h-2v-32h-2v23h-2v10h-2v-28h-2v91h-2v-52h-2v-26h-2v131h-2v-109h-2v13h-2v-35h-2v7h-2v17h-2v-19h-2v44h-2v190h-2v-255h-2v7h-2v73h-2v-37h-2v-27h-2v-5h-2v-19h-2v24h-2v34h-2h-2v-16h-2v-34h-2v-2h-2v-10h-2v41h-2v-23h-2v3h-2v11h-2v29h-2v-14h-2v-32h-2v23h-2v-20h-2v6h-2v10h-2v-15h-2v10h-2v-23h-2v-1h-2v28h-2v69h-2v-66h-2v14h-2v-31h-2v-9h-2v40h-2v-2h-2v26h-2v-36h-2v-13h-2v-13h-2v1h-2v-1h-2v33h-2v-10h-2v-5h-2v149h-2v-13h-2v-118h-2v3h-2v-11h-2v-26h-2v-2h-2v32h-2v-24h-2v18h-2v-23h-2v-9h-2v6h-2v14h-2v30h-2v24h-2v-34h-2v-10h-2v14h-2v-24h-2v-7h-2v43h-2v-11h-2v-12h-2v-22h-2v10h-2v-17h-2v-1h-2v10h-2v36h-2v7h-2v-27h-2v14h-2v-34h-2v21h-2v1h-2v-5h-2v24h-2v3h-2v-43h-2v14h-2v-19h-2v8h-2v-5h-2v29h-2v-28h-2v13h-2v-12h-2v4h-2v48h-2v5h-2v-18h-2v-25h-2v40h-2v-9h-2v-20h-2v-22h-2v38h-2v13h-2v-51h-2v-7h-2v6h-2v-14h-2v4h-2v35h-2v19h-2v5h-2v-37h-2v9h-2v29h-2v-25h-2v-20h-2v57h-2v-46h-2v27h-2v19h-2v-45h-2v-32h-2v15h-2v20h-2v59h-2v-81h-2v20h-2v-10h-2v20h-2v75h-2v-99h-2v92h-2v-99h-2v-3h-2v-12h-2h-2v44h-2v4h-2z M1613,1432h2v5h2v-5h2h2v-3h2h2v-4h2v-2h2v1h2v-1h2v-4h2v10h2v-6h2v-18h2v-8h2v12h2v5h2v-13h2v6h2v4h2v2h2v-1h2v-5h2v3h2v1h2v-14h2v6h2v10h2v-7h2h2h2v4h2v3h2v-9h2v-4h2v1h2v2h2h2v3h2v-5h2v-4h2v4h2v6h2h2v-1h2v6h2v3h2v-8h2v-5h2v2h2v2h2v-3h2v2h2v9h2v-8h2v6h2v-1h2v7h2v-6h2v-3h2v8h2v3h2v-2h2v2h2v-8h2v-7h2h2v-2h2v9h2v-6h2v2h2v9h2v-1h2h2v2h2v-3h2v7h2v-3h2h2v-5h2v3h2v-6h2v3h2v2h2v1h2v1h2v-4h2h2v-1h2h2v-2h2v2h2v-5h2v-2h2v10h2v3h2v-5h2v-7h2v12h2v-6h2v-4h2v-2h2v-1h2v-1h2v3h2v7h2v10h2v2h2v-5h2v5h2v4h2V1484h-2v35h-2v-3h-2v124h-2v-128h-2v-35h-2v7h-2v-18h-2v2h-2v-11h-2v2h-2v2h-2v13h-2v5h-2v20h-2v-9h-2v1h-2v18h-2v-35h-2v8h-2v-16h-2v-1h-2v-5h-2v-6h-2v3h-2v5h-2v-2h-2v24h-2v7h-2v-16h-2v20h-2v-26h-2v5h-2v13h-2v-11h-2v1h-2h-2v-23h-2v13h-2v9h-2v-10h-2v11h-2v-11h-2v-2h-2v-6h-2v5h-2v13h-2v1h-2v4h-2v9h-2v-8h-2v-13h-2v7h-2v32h-2v55h-2v-36h-2v-25h-2v-23h-2v-16h-2v-1h-2v24h-2v-19h-2v20h-2v-18h-2v19h-2v-9h-2v-12h-2v34h-2v-5h-2v-21h-2h-2v13h-2v-20h-2v-19h-2v2h-2v9h-2v30h-2v6h-2v-26h-2v5h-2v14h-2v15h-2v-22h-2v20h-2v-4h-2v-25h-2v4h-2v-13h-2v-9h-2v17h-2v17h-2v-20h-2v40h-2v88h-2v-86h-2v-14h-2v35h-2v15h-2v-9h-2v-38h-2v-8h-2v-16h-2v16h-2v-33h-2v5h-2v21h-2v13h-2v16h-2v32h-2v78h-2v-130h-2z M1905,1440h2v-7h2h2v5h2v-1h2v1h2v-6h2v1h2v-3h2h2v-8h2v8h2v4h2v4h2v-2h2v8h2v-7h2v-9h2v6h2v-2h2v-5h2v-1h2v1h2v1h2h2v4h2v-2h2v5h2v1h2v-2h2v-3h2v-3h2v7h2v-5h2v-15h2v-8h2v7h2v-10h2v8h2v12h2v2h2v-7h2v19h2v-8h2v-25h2h2v13h2v4h2v3h2v-1h2v3h2v-15h2v-6h2v1h2v-3h2v-4h2v3h2h2v11h2v4h2v-8h2v3h2v3h2v4h2v-7h2v5h2v2h2v-5h2v2h2v1h2v-8h2v7h2v-6h2v5h2v-4h2v-5h2v-1h2v21h2v1h2v-8h2v-3h2v-1h2v3h2v2h2v-1h2v14h2v-1h2v-2h2v4h2v-11h2v-1h2v12h2v-13h2v3h2h2h2v-1h2h2v9h2v2h2v3h2v-7h2v1h2v13h2v-14h2v-3h2v-1h2h2v7h2v-7h2v15h2v-2h2v-9h2v2h2v9h2v-2h2v-15h2v-1h2v3h2v5h2v6h2v9h2v-1h2v3h2v5h2v3h2v3h2v5h2v-6h2v-6h2v-1h2v2h2v10h2v-2h2v-1h2h2v1h2v3h2v-5h2v9h2v-9h2v-2h2v-7h2v2h2v-6h2v11h2v1h2v-3h2v2h2v7h2v4h2v-3h2v4h2v-9h2v-2h2v2h2v-3h2v3h2v4h2v-5h2v-3h2v7h2v2h2v6h2v-1h2v-3h2v-3h2v7h2v-6h2v1h2v-3h2v2h2v7h2v6h2v-2h2v5h2v-1h2v-1h2v-3h2v-8h2v22h2v-5h2v-8h2v-10h2v1h2v-8h2v6h2v3h2v-6h2v5h2v-8h2v-15h2v-2h2v-1h2v-16h2v11h2v-8h2v7h2v-17h2v-3h2v8h2v1h2v15h2h2v-1h2h2v1h2v-8h2v3h2h2v7h2v-12h2v-1h2v3h2v-11h2v-4h2v6h2h2v2h2v4h2h2v-3h2h2v-6h2v-2h2v6h2v-7h2v5h2h2v-2h2v3h2v-6h2v8h2v-3h2h2v2h2v3h2v-18h2v20h2v-1h2v-19h2v3h2v8h2v-6h2h2v5h2v10h2v-2h2v2h2v2h2v3h2v-6h2v1h2v12h2v-2h2v-2h2v-11h2v3h2v-4h2v5h2h2v1h2v11h2h2v4h2v3h2v-4h2h2v3h2v4h2v-3h2v4h2v5h2v4h2V1506h-2v3h-2v-2h-2v17h-2v-3h-2v49h-2v-37h-2v-8h-2v20h-2v-10h-2v-13h-2v3h-2v3h-2v13h-2v27h-2v-42h-2v-10h-2v18h-2v-13h-2v14h-2v-6h-2h-2v-1h-2v-23h-2h-2v28h-2v-19h-2v-6h-2v39h-2v-19h-2v-13h-2v-1h-2v-3h-2v40h-2v13h-2v22h-2v-66h-2v46h-2v-9h-2v-39h-2v9h-2v162h-2v-87h-2v-52h-2v-25h-2v-19h-2v14h-2v59h-2v-60h-2v-20h-2v-6h-2v13h-2v7h-2v77h-2v-69h-2v-9h-2v4h-2v22h-2v52h-2v44h-2v-17h-2v-39h-2v60h-2v-9h-2v-81h-2v-23h-2v22h-2v-23h-2v-3h-2v-3h-2v14h-2v10h-2v58h-2v-44h-2v16h-2v13h-2v59h-2v-52h-2v16h-2v-34h-2v-17h-2v75h-2v26h-2v-37h-2v-32h-2v-20h-2v-9h-2v23h-2v50h-2v-11h-2v-18h-2v-27h-2v40h-2v27h-2v-17h-2v-34h-2v-25h-2v-6h-2v7h-2h-2v51h-2v28h-2v-47h-2v-16h-2v-2h-2v-11h-2v10h-2v-13h-2v-16h-2v16h-2v-38h-2v11h-2v43h-2v-29h-2v18h-2v32h-2v-50h-2v-1h-2v-15h-2v38h-2v14h-2v32h-2v-11h-2v-73h-2v-1h-2v-5h-2v-23h-2v33h-2v15h-2v3h-2v15h-2v29h-2v-49h-2v49h-2v-33h-2v-21h-2v-12h-2v-18h-2v15h-2v3h-2v-25h-2v5h-2v26h-2v-13h-2v35h-2v-41h-2v-12h-2v11h-2v-12h-2v3h-2v-6h-2h-2v-10h-2v20h-2v-1h-2v-4h-2h-2v-25h-2v21h-2v-11h-2v-1h-2v13h-2v-3h-2v-4h-2v8h-2v-16h-2v5h-2v-5h-2v29h-2v-14h-2v2h-2v-4h-2v8h-2v-3h-2v-4h-2v22h-2h-2v14h-2v-38h-2v-9h-2v-1h-2v4h-2v-4h-2v-11h-2v-8h-2v3h-2v31h-2v9h-2v-20h-2v-8h-2v-15h-2v35h-2v-16h-2v27h-2v-21h-2v29h-2v-6h-2v49h-2v-38h-2v40h-2v2h-2v-80h-2v-11h-2v41h-2v71h-2v-83h-2v-20h-2v-9h-2v13h-2v-2h-2v-18h-2v22h-2v-3h-2v-30h-2v14h-2v18h-2v-4h-2v18h-2v52h-2v-68h-2v-10h-2v-2h-2v-16h-2v17h-2v9h-2v11h-2v7h-2v-5h-2v45h-2v-15h-2v25h-2v-24h-2v-17h-2v-1h-2v98h-2v-69h-2v-7h-2v-7h-2v-30h-2v14h-2v-30h-2v-1h-2v30h-2v9h-2v-5h-2v20h-2v-37h-2v8h-2v10h-2v-37h-2v-19h-2v1h-2v29h-2v127h-2v-81h-2v-51h-2h-2v41h-2v84h-2v-111h-2v8h-2v42h-2v-61h-2v-5h-2v2h-2h-2v22h-2v27h-2v-7h-2v-6h-2v-5h-2v-3h-2v-2h-2h-2z M2460,1444h2v7h2v-8h2v4h2v3h2v-4h2v1h2v-3h2v6h2v2h2v3h2v3h2v-4h2v8h2v-5h2v1h2v7h2v-1h2v-4h2v-4h2v2h2v5h2v4h2h2h2v6h2v-7h2v9h2v8h2v-4h2v-2h2v-6h2v-6h2v12h2v6h2v-2h2v-7h2v-7h2v-2h2v12h2v4h2v2h2v-7h2v12h2v-4h2v-13h2v-4h2v3h2v-12h2v-2h2v4h2v4h2v-3h2v7h2v-2h2v-1h2v-8h2h2v9h2h2v-9h2v9h2h2v5h2v-2h2v9h2v1h2v-12h2v5h2v3h2v-6h2h2v-6h2v-1h2v11h2v-4h2v-5h2v-1h2v-12h2v-12h2v2h2v10h2v6h2v-2h2v6h2v2h2v7h2v-14h2v4h2v-1h2v-9h2v-2h2v7h2v4h2v2h2v3h2v-3h2v5h2v9h2v3h2v-2h2v-12h2h2v5h2v-4h2v-3h2v-1h2v-4h2v-6h2v3h2v8h2v2h2v-17h2v-4h2v-10h2v-7h2v25h2v5h2v2h2v4h2h2v2h2v-6h2v-14h2v6h2v12h2v-13h2v-18h2v11h2v4h2v11h2v-5h2v-11h2v8h2v-3h2v-18h2v-3h2v9h2v-13h2v33h2v-4h2v-14h2v-1h2v-13h2v-1h2v25h2v6h2v-7h2v-15h2v5h2v-20h2v10h2v13h2v-23h2v10h2v4h2v-9h2h2v-6h2v11h2v6h2v-9h2v-10h2h2v6h2v3h2v9h2v8h2v-8h2v13h2v1h2v-10h2v1h2v4h2v4h2v-7h2v-3h2v12h2v-3h2v15h2h2v-8h2v-13h2v2h2v3h2v1h2v-7h2v7h2v-3h2v15h2v1h2v9h2v3h2v-4h2v3h2v-8h2v6h2v2h2v-10h2v3h2v10h2v1h2v10h2v-1h2v-7h2v11h2v10h2v-3h2v-10h2v3h2v-8h2v-1h2v8h2v2h2v6h2v2h2v9h2v-2h2v8h2v1h2v-8h2V1603h-2v3h-2v-19h-2v-39h-2v6h-2v2h-2h-2v11h-2v2h-2v-13h-2v6h-2v-11h-2v15h-2v33h-2v49h-2v-65h-2v-16h-2v-6h-2v-19h-2v-1h-2v29h-2v33h-2v-16h-2v-39h-2v9h-2v-20h-2v9h-2v59h-2v3h-2v-57h-2v1h-2v14h-2v-35h-2v-23h-2v-8h-2v55h-2v-9h-2v20h-2v-6h-2v21h-2v-41h-2v9h-2v-19h-2v-6h-2v-5h-2h-2h-2v-13h-2v-6h-2v25h-2v66h-2v-38h-2v-22h-2v-2h-2v-4h-2v87h-2v19h-2v14h-2v-66h-2h-2v9h-2h-2v-23h-2v-33h-2v-18h-2v49h-2v71h-2v-20h-2v32h-2v-8h-2v30h-2v-81h-2v-6h-2v14h-2v-45h-2v-17h-2v-4h-2v17h-2v37h-2v-35h-2v42h-2v-12h-2v50h-2v-69h-2v17h-2v-8h-2v-17h-2v-12h-2v27h-2v8h-2v-33h-2v19h-2v-6h-2v63h-2v46h-2v-36h-2v-20h-2v-29h-2v28h-2v-27h-2v-48h-2v-1h-2v-7h-2v4h-2v10h-2v63h-2v-42h-2v31h-2v11h-2v-37h-2v3h-2v-22h-2v-7h-2v32h-2v-25h-2v15h-2v3h-2v6h-2v-33h-2v-8h-2v27h-2v11h-2v-16h-2v13h-2v8h-2v-17h-2v-19h-2v32h-2v1h-2v1h-2v-27h-2v4h-2v45h-2v5h-2v-15h-2v-7h-2v-37h-2v-2h-2v24h-2v-26h-2v42h-2v-23h-2h-2v-8h-2v4h-2v-4h-2v3h-2v15h-2v10h-2v-25h-2v9h-2v10h-2v-18h-2v11h-2v-12h-2v4h-2v6h-2v56h-2v-53h-2v-7h-2v42h-2v16h-2v-10h-2v-45h-2v-24h-2v5h-2v-5h-2v-2h-2v11h-2v108h-2v-103h-2v-34h-2v5h-2v29h-2v33h-2v101h-2v-92h-2v-29h-2v-15h-2v9h-2v16h-2v6h-2v18h-2v-19h-2v-24h-2v-1h-2v-2h-2v-1h-2v-6h-2v1h-2v8h-2v33h-2v-15h-2v3h-2v7h-2v1h-2v-15h-2v2h-2v2h-2v-20h-2v11h-2v-23h-2v-7h-2v-5h-2v-5h-2v-2h-2v1h-2v13h-2v3h-2v-10h-2v-18h-2v-12h-2v7h-2v5h-2v-12h-2v15h-2v34h-2v-1h-2h-2v2h-2v-40h-2z" fill="#C8DDF2" shape-rendering="crispEdges"/>
<path d="M342.5,1424v36M350.5,1416v75M423.5,1420v41M439.5,1424v37M474.5,1424v72M486.5,1444v47M499.5,1414v70M533.5,1424v59M548.5,1447v34M562.5,1424v55M574.5,1422v84M586.5,1411v45M636.5,1420v40M641.5,1411v44M679.5,1440v98M695.5,1420v43M712.5,1416v69M747.5,1410v77M773.5,1429v38M776.5,1424v64M799.5,1429v86M863.5,1434v44M885.5,1424v78M947.5,1436v31M971.5,1437v55M973.5,1451v38M996.5,1443v37M1023.5,1435v41M1033.5,1439v46M1049.5,1428v66M1065.5,1447v53M1107.5,1421v39M1157.5,1431v47M1169.5,1430v105M1175.5,1442v95M1177.5,1446v279M1200.5,1435v44M1269.5,1429v45M1289.5,1425v31M1319.5,1445v55M1616.5,1436v189M1643.5,1408v90M1671.5,1405v99M1684.5,1400v61M1697.5,1406v91M1713.5,1405v83M1732.5,1408v62M1767.5,1418v70M1792.5,1412v54M1808.5,1406v74M1821.5,1407v78M1828.5,1426v215M1830.5,1421v96M1911.5,1437v93M1927.5,1429v75M1936.5,1443v182M1948.5,1425v80M1971.5,1429v68M2053.5,1411v170M2055.5,1406v134M2081.5,1434v51M2083.5,1423v59M2091.5,1424v77M2102.5,1432v103M2158.5,1459v69M2175.5,1460v78M2242.5,1465v107M2254.5,1476v94M2257.5,1480v83M2271.5,1467v138M2273.5,1468v155M2283.5,1468v122M2287.5,1445v213M2318.5,1440v84M2322.5,1435v91M2323.5,1435v114M2326.5,1442v188M2354.5,1418v82M2407.5,1428v101M2412.5,1441v89M2418.5,1426v109M2434.5,1446v91M2501.5,1457v101M2562.5,1463v185M2581.5,1456v139M2583.5,1465v88M2626.5,1454v81M2665.5,1463v73M2677.5,1450v88M2728.5,1445v108M2812.5,1432v88M2870.5,1482v102" stroke="#fff" stroke-width="1" fill="none" shape-rendering="crispEdges"/>
<path d="M331.5,1429.1l1,.5l1,-3.6l1,-2.3l1,.4l1,1.9l1,-1.6l1,.5l1,2.7l1,4.1l1,5.3l1,2.8l1,-2.6l1,-2l1,-1.3l1,-3.1l1,-1.2l1,-1.2l1,3.6l1,-.1l1,2.5l1,-1.3l1,3.3l1,.3l1,-.7l1,.7l1,2.1l1,-.7l1,-.8l1,-1.8l1,-2.4l1,-2.9l1,-7.6l1,2l1,2.1l1,5.4l1,3.9l1,5.5l1,5.9l1,3.1l1,-2.2l1,-3.8l1,1.3l1,-2.5l1,1.3l1,-1.4l1,-.4l1,-1.7l1,.5l1,-1.1l1,-2.6l1,-1.3l1,3.5l1,-2.8l1,-.8l1,.7l1,-4.1l1,-1.2l1,-.8l1,-2.9l1,1.4l1,.7l1,-.2l1,-3.4l1,2.8l1,4.6l1,.6l1,3.3l1,3.8l1,3.3l1,-4l1,-.8l1,.3l1,-1.7l1,-6l1,.4l1,-5.9l1,-1.6l1,2.2l1,7.8l1,9.6l1,6.8l1,3.3l1,-3.4l1,-1.6l1,-2.5l1,3.7l1,-5.3l1,-5.2l1,3.2l1,-.2l1,-3.8l1,-.2l1,-3.1l1,-1.6l1,.4l1,2.6l1,1.2l1,5.1l1,1.5l1,-4.8l1,-6.2l1,-2.8l1,-4l1,-3.5l1,-2.2l1,.8l1,4.6l1,5l1,3.8l1,6.9l1,-1.2l1,2.2l1,-2.4l1,.2l1,3.8l1,-5.4l1,-.7l1,.6l1,-2l1,-.7l1,-5.2l1,2.7l1,2.2l1,3l1,6.5l1,5.1l1,2.7l1,-3l1,-3.6l1,-3.5l1,-4.1l1,-5.5l1,-6.8l1,5.1l1,1.1l1,-1.3l1,-.7l1,1.6l1,1.6l1,-1.6l1,5l1,.1l1,-1.3l1,.3l1,-.2l1,1l1,-1.1l1,1l1,3.5l1,.9l1,2l1,2l1,3.8l1,2.7l1,4.2l1,-.9l1,-3.7l1,-6.8l1,-2l1,-5.5l1,-4.3l1,-1.7l1,-3.7l1,1.3l1,-3.1l1,2.6l1,-1.1l1,1.7l1,-1.1l1,-.7l1,.4l1,-2.5l1,1l1,-2.5l1,-.7l1,-1.1l1,1.7l1,1.3l1,-1.1l1,-1.4l1,1.6l1,1.7l1,3.3l1,4.6l1,5.7l1,6.6l1,2.5l1,2.5l1,-.2l1,-6.8l1,-3.6l1,-.9l1,-4.3l1,-3l1,-.8l1,-1.9l1,6.3l1,-.8l1,.1l1,4.4l1,2l1,1.1l1,0l1,2.6l1,-2.5l1,-3.4l1,-3.3l1,-3.2l1,-1.4l1,-2.9l1,-1.2l1,-1l1,10.1l1,10.6l1,13.3l1,.5l1,-7.7l1,-4.6l1,-2.9l1,-5.3l1,-2l1,-7.2l1,-5.8l1,-.2l1,2.5l1,-.1l1,4.2l1,5.5l1,.1l1,1.5l1,2.2l1,-1.9l1,-5l1,-2.5l1,-4.7l1,-1.9l1,.5l1,-7.2l1,4l1,4.3l1,-1.8l1,4.8l1,3.7l1,2.9l1,4.9l1,1.9l1,-.5l1,-6l1,-5.2l1,-6.2l1,-.8l1,-6.9l1,-7.7l1,6.6l1,7.5l1,4.1l1,4.6l1,5.5l1,9.1l1,1.4l1,-5.4l1,-2.2l1,-5l1,-4.2l1,-1l1,-4.4l1,-3.7l1,-5.3l1,.9l1,2l1,5l1,4.5l1,2l1,-.9l1,0l1,-2.1l1,-.8l1,-3.3l1,-.7l1,-.6l1,.9l1,-1.5l1,-.9l1,4.3l1,.6l1,5.1l1,2.6l1,5l1,2.6l1,2.3l1,2.2l1,6.1l1,-6.6l1,-5.4l1,-6.3l1,-10.2l1,4.8l1,6.5l1,7l1,-1l1,-4.9l1,-.7l1,-.8l1,-.4l1,-.2l1,-3.6l1,-1.7l1,-.3l1,-4.9l1,2.9l1,1.2l1,8.2l1,5l1,8.1l1,5.5l1,3.9l1,-.7l1,-.4l1,-.9l1,-1l1,-4.3l1,-2.2l1,-1.9l1,-.1l1,-1.1l1,1.2l1,2.5l1,-.8l1,2.8l1,-.2l1,-.6l1,1.6l1,-1.9l1,-3.1l1,-2.8l1,-1.3l1,-.9l1,-.1l1,-2.4l1,-3.4l1,-2l1,4.6l1,4l1,4.5l1,1.1l1,.9l1,5.4l1,2.5l1,-2.3l1,-7.1l1,-10.3l1,-11.9l1,1.3l1,.3l1,4l1,.6l1,1.4l1,1.9l1,.7l1,4.8l1,3.9l1,-2.9l1,-7.2l1,1l1,2.3l1,4l1,-.8l1,1l1,2.7l1,2.2l1,-1.4l1,2.6l1,-4.2l1,-1l1,-1.4l1,-2.2l1,1.5l1,-3.7l1,-2l1,-.7l1,-1.4l1,1.1l1,-2.9l1,-.5l1,-2.6l1,.7l1,-.4l1,1.1l1,-1.8l1,3.5l1,.1l1,3.1l1,1.4l1,.9l1,-.1l1,-2l1,-3.5l1,-.6l1,-.9l1,-3.2l1,.7l1,1l1,-1.1l1,1.3l1,2.1l1,3.1l1,-.2l1,3.3l1,-.1l1,3l1,-.3l1,-4.3l1,.2l1,-1.5l1,-4.6l1,-1l1,-1.7l1,-1.6l1,4.1l1,1l1,3l1,.8l1,2.8l1,5.7l1,1.6l1,-1.3l1,.5l1,-1l1,-3.9l1,1.3l1,0l1,2.5l1,2.7l1,1.5l1,1.4l1,-2.9l1,-1.2l1,1.3l1,.3l1,-2.4l1,-4.7l1,-.8l1,-.8l1,-3.6l1,1.6l1,-3.4l1,2l1,-.2l1,3.8l1,-1.1l1,.8l1,4.3l1,-1.2l1,1.3l1,3l1,2.2l1,1.2l1,6.6l1,3.9l1,6.5l1,.6l1,6.6l1,-1.9l1,-4.7l1,-4.2l1,-2.6l1,-4.9l1,-3.7l1,-4.4l1,-2.5l1,-2.3l1,-6.7l1,3.7l1,6.2l1,7.4l1,2.7l1,7.1l1,3.4l1,5.8l1,5l1,5.1l1,4.2l1,-3l1,-3.3l1,-5l1,-8.4l1,-7.4l1,-2.4l1,.5l1,2l1,4.6l1,4.4l1,-.8l1,-4.1l1,-3.5l1,-2.1l1,-.3l1,-2.6l1,-4.8l1,-3.1l1,4.1l1,3.7l1,5.6l1,3.5l1,1.2l1,.7l1,3.3l1,-.9l1,-4.2l1,-1.3l1,-3.5l1,-3.2l1,-2.7l1,-6.5l1,-3.2l1,.4l1,3.8l1,3.7l1,4.3l1,1l1,2.5l1,5.6l1,4.7l1,-5.9l1,-4.8l1,-7l1,-2.2l1,-4.5l1,1.4l1,-1.2l1,.4l1,1l1,3.1l1,.7l1,.8l1,-2.3l1,.9l1,.1l1,2.8l1,3l1,-4.3l1,-5.6l1,0l1,-6.3l1,1.7l1,-.1l1,-1.9l1,.4l1,-4.1l1,-1.5l1,-.7l1,1.9l1,1.1l1,4.2l1,-.6l1,.8l1,-.5l1,3.3l1,2.8l1,-.5l1,-1.4l1,-.9l1,3.6l1,1l1,-.3l1,.6l1,-.9l1,-1.6l1,-4.8l1,.5l1,-.3l1,-.2l1,-1.2l1,-1.8l1,3.7l1,.8l1,5.2l1,-3.5l1,1.4l1,-2.1l1,-1.3l1,-1.1l1,0l1,-.3l1,.1l1,-3.2l1,-.6l1,-4.1l1,-3.3l1,-5.7l1,7.4l1,8.1l1,6.9l1,8l1,5.7l1,7.2l1,-1.5l1,-5.5l1,-5.8l1,-4.3l1,-6.9l1,-5.6l1,-3.9l1,-8.5l1,-1.4l1,3.9l1,2.4l1,2.8l1,7.5l1,2.5l1,1.1l1,-.3l1,-1l1,.6l1,-1.1l1,4.5l1,.8l1,1.4l1,-1.4l1,-4.4l1,4l1,2.7l1,3.3l1,.7l1,1.8l1,2.7l1,-1.4l1,-8.1l1,-5.9l1,-2.6l1,-7.2l1,-.1l1,-6.5l1,-1.5l1,1.7l1,5.2l1,4.3l1,9.3l1,4.1l1,2.2l1,6.5l1,4.1l1,4.7l1,-6l1,-4.3l1,-4.5l1,-5.5l1,-7l1,-1.2l1,-1l1,-3.7l1,4.6l1,7.1l1,5.4l1,8.4l1,1.3l1,-5.3l1,-4.7l1,.1l1,1.5l1,.8l1,-1.1l1,-2.2l1,3.4l1,.6l1,2.6l1,3.9l1,4.2l1,2.1l1,5.5l1,-1.9l1,-2.4l1,-4.9l1,-5.4l1,-4.4l1,-2.1l1,.5l1,-2.8l1,-4.5l1,6.7l1,8.6l1,7l1,7.6l1,3.2l1,2l1,1.9l1,.6l1,-4.9l1,-10.8l1,-7.4l1,-7.5l1,-4.1l1,5.4l1,7.5l1,4.8l1,-2.2l1,-1.7l1,-5.8l1,-.3l1,-1.8l1,-4.1l1,3.7l1,2.3l1,3.3l1,5.1l1,-.2l1,5.9l1,3.7l1,.2l1,-3.6l1,-9.7l1,-9.7l1,-.7l1,-1.8l1,-3.2l1,-5.1l1,-3l1,3.4l1,-1.3l1,4.8l1,2l1,-3.1l1,3.1l1,2.3l1,1.8l1,1.4l1,.8l1,-1.5l1,-.8l1,1.7l1,8.9l1,-1.4l1,-.8l1,5.1l1,.3l1,.5l1,-4.3l1,-4.5l1,-2.7l1,-3.3l1,-2.6l1,-4.1l1,.7l1,-.9l1,-.6l1,-2.3l1,-.9l1,4.9l1,1.2l1,.6l1,1.5l1,-2.2l1,-.1l1,-3l1,.9l1,-.3l1,1.6l1,2.1l1,2.1l1,2.5l1,3.5l1,.6l1,-3.3l1,-3.9l1,-7.3l1,-6.5l1,-.3l1,-.9l1,-1.7l1,-1.9l1,-1.2l1,-1.8l1,3.6l1,1l1,1.4l1,4.3l1,5.8l1,3.1l1,-.9l1,.9l1,-.1l1,.6l1,-.4l1,1.5l1,.7l1,2.3l1,3.2l1,2.8l1,-1l1,-7.5l1,-6.2l1,-2.5l1,-3.7l1,-.6l1,-1.9l1,-3.5l1,-.3l1,.1l1,3.7l1,5.9l1,.7l1,2.3l1,3.9l1,-2.5l1,2.1l1,-.6l1,-.7l1,.3l1,-2.9l1,-.2l1,-2.8l1,.4l1,7l1,3.3l1,2.8l1,10.9l1,5.2l1,7.7l1,-1.5l1,-5.3l1,-2.9l1,.3l1,-2.4l1,-4.9l1,-2.5l1,-4.9l1,-3.7l1,-.8l1,-.2l1,5l1,4.5l1,1l1,3.2l1,-1.7l1,.9l1,-1.9l1,-.5l1,-3.2l1,-4l1,3.5l1,.8l1,.5l1,-1.7l1,2.7l1,-1.1l1,2.5l1,2.5l1,1l1,-3.8l1,.1l1,-1.4l1,-.8l1,1.2l1,-1.2l1,-.1l1,-1.3l1,5.8l1,-.3l1,3.9l1,1l1,2.4l1,-2.1l1,-2.9l1,-4l1,-2.2l1,-5l1,-.5l1,-2.6l1,2l1,2l1,2.5l1,1.7l1,.3l1,2.7l1,-2.3l1,2.1l1,-2l1,-4l1,-1.2l1,-4.3l1,-3l1,-5l1,1.2l1,-.2l1,-4.3l1,4.4l1,.6l1,1.9l1,5.8l1,5.9l1,2.6l1,-5.2l1,-5.5l1,-4.7l1,-2.7l1,-3.2l1,-5.1l1,1.6l1,-3.6l1,2.2l1,.4l1,2.4l1,8.2l1,3.2l1,-2l1,-5.4l1,-.4l1,-4.3l1,-4l1,-2.3l1,4.8l1,2.5l1,1.3l1,-1.3l1,-1.2l1,4.8l1,.3l1,2.4l1,-3.6l1,2.5l1,3.3l1,.8l1,3.7l1,.6l1,1l1,.3l1,-.9l1,-.8l1,-.8l1,2.1l1,-1.8l1,-4.3l1,1.2l1,-.1l1,-1.4l1,.4l1,-.7l1,5.8l1,-1.6l1,-1.1l1,1.8l1,-2.8l1,-2.8l1,-4.5l1,-3.7l1,.2l1,4.6l1,3.8l1,5.8l1,8.9l1,6.5l1,10.5l1,7.4l1,-5.7l1,-8.3l1,-10.3l1,-4.1l1,-9.2l1,-10.9l1,2.5l1,.7l1,1.1l1,5.3l1,7.5l1,9.9l1,5.2l1,9.4l1,10.2l1,-1.4l1,-1.3l1,-2.5l1,-8.2l1,-4.3l1,-4.3l1,-.6l1,-5.5l1,-4.4l1,3.4l1,3.5l1,3.4l1,5.3l1,7.1l1,5.6l1,7.3l1,5.7l1,-8.4l1,-8l1,-6.4l1,-8.3l1,.9l1,1.4l1,.9l1,4.7l1,-2.2l1,-5.3l1,-5.8l1,-6.2 M1613.5,1451.8l1,-1.5l1,4.8l1,-3.1l1,-1.2l1,1.2l1,-.3l1,.4l1,.2l1,-3.3l1,-.7l1,-3.3l1,-5.4l1,-2.6l1,.1l1,-2l1,2.1l1,.4l1,2.1l1,1.2l1,10l1,11.2l1,4.6l1,-.2l1,5.4l1,-4.3l1,-4.2l1,-7.9l1,-6l1,-5.8l1,-2.9l1,.7l1,-1.8l1,5.8l1,2.5l1,-9.6l1,-5.6l1,-.9l1,-1.4l1,-.4l1,3.1l1,-2.6l1,-.2l1,-4.6l1,-6.2l1,2.7l1,.6l1,4.8l1,4.3l1,4.9l1,4.9l1,8.7l1,5.3l1,6.2l1,-10.4l1,-7.7l1,-7.8l1,-5.8l1,1l1,-3.9l1,-5.4l1,4.5l1,-.4l1,7.1l1,4.8l1,1.7l1,-6.7l1,-5.2l1,-5.2l1,-1.5l1,-1.5l1,.1l1,-.3l1,1.7l1,1.8l1,2.4l1,-.9l1,3l1,2.5l1,1.8l1,2.4l1,1.7l1,-.3l1,5l1,-1.2l1,-5.5l1,-2.7l1,-5.8l1,-5.3l1,4.7l1,9.8l1,5.1l1,3.4l1,-.3l1,-3.3l1,-3.1l1,-1l1,-5.4l1,-4l1,-3.1l1,1l1,-3.1l1,-4.4l1,-3.4l1,10.9l1,10.8l1,6.5l1,9.8l1,13.5l1,8.5l1,7.5l1,-6.7l1,-27.4l1,-8.3l1,-.5l1,-1.9l1,.5l1,2.9l1,.6l1,2.7l1,.7l1,5l1,4.7l1,-.3l1,4.4l1,2.4l1,.1l1,-7.4l1,-6.1l1,-5.1l1,-6.6l1,.2l1,-3.3l1,-4.1l1,0l1,8.1l1,5.9l1,6.9l1,5.6l1,-3.3l1,-2l1,-6.4l1,-1.9l1,-3.2l1,-1.8l1,-1l1,-1l1,1.2l1,2.7l1,2.4l1,-.6l1,.8l1,5.9l1,-1l1,-1l1,-.5l1,-2.3l1,4.1l1,1.9l1,2l1,.8l1,1.9l1,-2.2l1,-1.3l1,-3.3l1,-5.9l1,-5.1l1,1.5l1,-.6l1,1.3l1,1.3l1,2.3l1,1.1l1,-4.7l1,-2.7l1,-4.4l1,2.2l1,1.9l1,-.8l1,5.2l1,1.6l1,-1.6l1,-2.8l1,-3.2l1,-1.9l1,3l1,6.4l1,8.5l1,2.9l1,-.2l1,-2.8l1,-3.7l1,-4.9l1,-4.2l1,1.5l1,5l1,7.6l1,-5.5l1,-6.5l1,-6.8l1,-1.6l1,-1.7l1,-.1l1,-1.5l1,-5.7l1,.3l1,.7l1,1.4l1,1.1l1,2.1l1,3.1l1,13l1,8.7l1,4.7l1,9.6l1,2.6l1,-5.2l1,-5.3l1,-4l1,-2.4l1,-.1l1,-2.9 M1905.5,1465.2l1,-6.8l1,-2.5l1,-3.8l1,2.2l1,7l1,7.2l1,7.2l1,1.1l1,1.4l1,-.6l1,-7.5l1,-11.2l1,-8.7l1,-1l1,-1.8l1,-1.9l1,1.5l1,.7l1,1.3l1,.6l1,-2.1l1,3.6l1,3.4l1,7.2l1,3.7l1,1.8l1,-1.6l1,-1.2l1,.5l1,.4l1,-.3l1,-4.2l1,.1l1,-2.7l1,.4l1,1.3l1,1l1,2.4l1,-2.2l1,-3.9l1,-5.2l1,-2.4l1,-.8l1,-.2l1,-1.7l1,-4.3l1,-.1l1,1.2l1,3l1,0l1,2.1l1,.3l1,-1.7l1,1.5l1,2l1,1l1,-2.1l1,.5l1,-2.2l1,-4.1l1,.6l1,1.3l1,3.2l1,7.4l1,6.6l1,-5.8l1,-7.7l1,-4.7l1,-8.1l1,4l1,6.1l1,13.5l1,6.4l1,-6.2l1,-14.2l1,-14.4l1,1.5l1,5.2l1,1.9l1,2.6l1,2.9l1,12.1l1,15.1l1,18.2l1,10.9l1,14.7l1,-13l1,-19.9l1,-18.3l1,-15.6l1,-7.9l1,-7.2l1,8l1,6.5l1,3.7l1,3.9l1,4.6l1,-1l1,-5.6l1,-.7l1,-1.9l1,-3.1l1,-5.9l1,-3l1,-3.8l1,-3.6l1,7.5l1,11l1,9l1,9.4l1,-2.4l1,-3.8l1,-5.9l1,-9l1,-5l1,-2.7l1,-2.4l1,.2l1,-1.1l1,-2.5l1,-.4l1,.4l1,2.2l1,.5l1,4.1l1,3.3l1,3.1l1,.9l1,.9l1,-.7l1,-1l1,-3.5l1,-1.1l1,-3.2l1,-1.9l1,0l1,6.3l1,5.4l1,4.8l1,.1l1,-4.1l1,-3.6l1,-2.2l1,-3l1,1.2l1,-1.7l1,-3.6l1,-3.8l1,1.5l1,6.5l1,3.5l1,6.1l1,6.3l1,6.4l1,2.3l1,-7.2l1,-1.1l1,-8.2l1,-4.5l1,-9l1,-3.1l1,-7.8l1,2.1l1,1.7l1,2.9l1,1.8l1,1.3l1,7.1l1,12.2l1,6.6l1,2.8l1,-2.8l1,-1.3l1,-3.3l1,-1.6l1,-.3l1,.3l1,2.6l1,.3l1,4.1l1,.1l1,3.9l1,-3.7l1,-6.4l1,-3.9l1,-4.2l1,-4l1,-2.3l1,-1.5l1,-4.3l1,1l1,-1.7l1,1.2l1,3.5l1,-.5l1,4.2l1,4.7l1,3l1,5.8l1,9.8l1,6.8l1,1l1,-3.3l1,-6.6l1,8.6l1,5l1,6.4l1,-4.2l1,-8.3l1,-6.5l1,-6l1,.7l1,4.7l1,4.6l1,-4.3l1,-6.3l1,-3.9l1,-6.7l1,6.3l1,14.1l1,7.7l1,-5.8l1,-2.1l1,-5.6l1,-8.8l1,-3l1,11.7l1,10.6l1,3.6l1,7.1l1,-6.3l1,-10.2l1,-13.4l1,-2.7l1,-1.6l1,-2.5l1,-4.4l1,-1.3l1,1.8l1,4l1,4.6l1,3.2l1,5.7l1,4.7l1,2.9l1,5.2l1,7.1l1,3.9l1,-.7l1,-5.3l1,-3l1,-2.5l1,-1l1,4.2l1,.3l1,.2l1,6.5l1,7.4l1,8.9l1,6.6l1,-7.7l1,-7.5l1,-6.6l1,-5.3l1,-2.1l1,-.2l1,.6l1,1.2l1,1.5l1,4.4l1,.3l1,1.2l1,.2l1,3.6l1,5.3l1,2.9l1,3.5l1,.7l1,-4.3l1,-4l1,-3.6l1,-2.1l1,-3.3l1,2.2l1,2.2l1,-.8l1,3.3l1,-.1l1,-6.1l1,-3.5l1,-2.6l1,-5.4l1,1.9l1,-4.8l1,-2.6l1,.7l1,4.4l1,4.2l1,2.3l1,4.6l1,4.3l1,5.6l1,2.8l1,3.2l1,-4.6l1,-5.3l1,-6.8l1,-2.1l1,-3.5l1,2.7l1,-4l1,2.3l1,.5l1,5.1l1,7.3l1,5.7l1,-5.4l1,1l1,-3.6l1,-3.5l1,-1.2l1,-3.9l1,.6l1,.6l1,-.2l1,3.4l1,3.3l1,1.6l1,2.1l1,3.8l1,2.1l1,3.7l1,3.9l1,-.8l1,-3.8l1,-2.7l1,-3l1,-2.2l1,-6.2l1,-3.9l1,-.3l1,4.2l1,.2l1,5.4l1,4l1,-.4l1,3.8l1,-2.3l1,3.2l1,.1l1,5.5l1,-.5l1,-2.7l1,-4.4l1,-4.3l1,9.1l1,6.8l1,9l1,4.6l1,9.4l1,5.7l1,-12.6l1,-8.8l1,-7.8l1,-8.1l1,-9.6l1,-1.4l1,-4.5l1,-2.2l1,-5.8l1,2.3l1,6.7l1,1.1l1,5.2l1,2l1,-.9l1,-4.4l1,3.1l1,-3.7l1,0l1,-.5l1,-3.3l1,-1.3l1,-7.1l1,.3l1,-.9l1,3.2l1,14.7l1,15.7l1,14.6l1,-1.1l1,-8.1l1,-8.3l1,-10.5l1,-9.1l1,-12.2l1,-8.3l1,-4.7l1,-9.4l1,-4.6l1,3l1,10.3l1,11.6l1,-1.5l1,-3.2l1,-2.8l1,-5.3l1,-4.3l1,-2.5l1,1.1l1,-1.3l1,2.2l1,.4l1,-3.6l1,1.4l1,-1.3l1,4.6l1,0l1,4.8l1,2.9l1,3.2l1,-3.6l1,-3.1l1,-.4l1,-5.2l1,-1.4l1,-2l1,-1.2l1,-3.7l1,-2.6l1,-2l1,3.4l1,-2.1l1,1.2l1,.6l1,.8l1,3.5l1,-3.6l1,3.8l1,3.9l1,3.8l1,.9l1,-9.5l1,-8.6l1,2.8l1,2.7l1,3.7l1,4.2l1,7.3l1,11.3l1,9.2l1,3.6l1,-9.7l1,-12.1l1,-9.5l1,-7.6l1,-6.8l1,-3.5l1,-2.3l1,6.7l1,6.7l1,4.1l1,4.8l1,7.3l1,4.2l1,-1.1l1,-4.1l1,-.7l1,-2.5l1,-4.3l1,-3.5l1,2.4l1,-5.8l1,-3.5l1,8.2l1,15l1,12l1,7.6l1,-9l1,-5.3l1,-7.4l1,-7.6l1,-5.2l1,-1.6l1,-3.1l1,-3.6l1,-1.3l1,-3.1l1,-3.9l1,4.3l1,4.7l1,5.7l1,4.9l1,5l1,2.9l1,7.1l1,5.4l1,2.8l1,-.6l1,-3.8l1,-4.9l1,-2.2l1,-4.5l1,7.2l1,2.6l1,8.2l1,2.8l1,5.2l1,-2.5l1,-7.2l1,-10.1l1,-5.8l1,-9.1l1,-.4l1,-3.7l1,-1.5l1,-2l1,2.8l1,7l1,8.2l1,2.1l1,4.3l1,3.4l1,3.9l1,-.5l1,2l1,-3.1l1,-2.4l1,-6l1,3.6l1,7.7l1,1.6l1,5.2l1,7.7l1,-4.1l1,-3.3l1,-2.4l1,-3.9l1,-2.6l1,-.6l1,-2.1l1,-.8l1,-.2l1,.3l1,.1l1,3.8l1,-1.4 M2460.5,1475.3l1,6.6l1,10.3l1,-.1l1,-7.2l1,-4.5l1,-4.7l1,-5.6l1,-1.4l1,5.3l1,2.6l1,1.6l1,-1.6l1,.3l1,-1.9l1,-3.3l1,-5.3l1,1l1,.3l1,-1.8l1,-.9l1,6.9l1,3.6l1,2.2l1,1.6l1,.9l1,.7l1,2.1l1,-1.4l1,.8l1,3.9l1,-3l1,.4l1,6.1l1,1.4l1,1.4l1,0l1,.1l1,5.7l1,-2.7l1,5.3l1,1.9l1,2.9l1,-1l1,-1.6l1,-4.6l1,-5.8l1,-5.5l1,-8.7l1,4.6l1,5.4l1,3.9l1,-1.3l1,6.5l1,5.4l1,2.4l1,5.1l1,6.3l1,-5.6l1,-2.6l1,-6.9l1,-5.9l1,-3.4l1,1.1l1,.8l1,5.4l1,3.4l1,4.2l1,.8l1,2.7l1,1.2l1,-6.6l1,-5.7l1,-4.9l1,-1.9l1,4.3l1,.7l1,5.5l1,8l1,1.8l1,.7l1,-.1l1,-1l1,.7l1,-.8l1,1.6l1,-.2l1,.7l1,-1.6l1,-.6l1,-2.5l1,-7.2l1,-4.1l1,-4.1l1,-3.3l1,-.1l1,-3.7l1,-3.9l1,-3.7l1,-3.1l1,2.3l1,5.6l1,2.7l1,1.3l1,2.3l1,-3.1l1,.9l1,-2.3l1,.2l1,-2.4l1,-2.2l1,-4.9l1,3.6l1,4.3l1,4.5l1,6.2l1,8.2l1,-.6l1,-2l1,-5.7l1,-8.5l1,-4.8l1,-.4l1,-2.8l1,3.9l1,3.6l1,5.4l1,5.7l1,3.4l1,2.1l1,2.6l1,0l1,2.5l1,1.4l1,1.9l1,-2.7l1,-2.9l1,-3.4l1,1.1l1,-4.5l1,-2.9l1,-5l1,-.6l1,5.5l1,7.1l1,6l1,1.6l1,-1l1,-6l1,-3l1,-5.8l1,-3.5l1,-4.5l1,1.4l1,6.3l1,3.5l1,4.2l1,-5.1l1,-7.7l1,-4.8l1,-12.8l1,-2.1l1,.3l1,4.6l1,.3l1,1.9l1,6.2l1,4.7l1,5.6l1,1.7l1,6l1,6.3l1,-1.9l1,-1.6l1,-5.2l1,-5.8l1,-4.3l1,-2.6l1,-2.5l1,-5.2l1,-1.5l1,-3.7l1,-3.9l1,-3.3l1,3l1,3.1l1,4.6l1,6.9l1,1.7l1,-2.1l1,-.5l1,.8l1,-3.5l1,7.9l1,7.4l1,10.3l1,6.8l1,-.1l1,-.2l1,-1.6l1,0l1,-5.1l1,-3.7l1,.4l1,-3.1l1,-5.8l1,-3l1,-1.4l1,-3.7l1,-3.1l1,11.6l1,11.4l1,1.2l1,-7.4l1,-8.2l1,-10.9l1,1l1,5.1l1,8.1l1,7.2l1,-4.7l1,-.5l1,-1.3l1,-1.1l1,-3.3l1,5.3l1,8.5l1,8.2l1,3.6l1,-17.9l1,-19.8l1,-9l1,2.1l1,-1.5l1,1.8l1,-2.5l1,2l1,-.6l1,3.4l1,1.5l1,1.4l1,.7l1,.2l1,1.5l1,-.6l1,-4.3l1,2.8l1,17l1,13.6l1,21.5l1,.9l1,-17.7l1,-20.9l1,-11.3l1,-3.7l1,-1.7l1,-4.2l1,0l1,.2l1,3l1,3.1l1,3l1,4.8l1,4.6l1,4.1l1,7l1,1.4l1,.1l1,-12.6l1,-10l1,-10.3l1,-13.5l1,1.7l1,1.1l1,5.2l1,5l1,5.4l1,35.8l1,19.5l1,-16.7l1,-12.4l1,-13.3l1,-15.4l1,-12.7l1,-.8l1,.1l1,-5.2l1,7.1l1,1.5l1,4.7l1,7.3l1,2l1,3.7l1,5.7l1,-1l1,3.4l1,10.7l1,14l1,17.1l1,6.5l1,-29l1,-26.7l1,-6.3l1,22.6l1,20.8l1,20.5l1,14.7l1,-15.2l1,-13.5l1,-12.3l1,-22.1l1,-21.2l1,-22.3l1,-1.8l1,1.1l1,-3.4l1,1l1,4.9l1,5.7l1,6.6l1,7.9l1,.5l1,9.7l1,1.9l1,-8.1l1,-7.2l1,-5.4l1,-6.2l1,-4.1l1,2.4l1,7.4l1,3.4l1,.4l1,3.7l1,2.8l1,5.6l1,-.2l1,3.5l1,7.3l1,8.6l1,.7l1,-10.1l1,-8.6l1,-12.9l1,-8.9l1,-1.6l1,2.6l1,2.8l1,3.9l1,-1.7l1,6.1l1,-3l1,2.9l1,2.7l1,2.7l1,4.9l1,-3.1l1,0l1,4.2l1,3.8l1,-1.5l1,2.5l1,5l1,4l1,-.1l1,-5.3l1,-7.5l1,-8.5l1,-6.1l1,-5.5l1,-.6l1,6l1,-1.9l1,-1.4l1,4.5l1,1.8l1,5.3l1,2.2l1,6.1l1,11.3l1,-1.3l1,.4l1,.8l1,1.2l1,3.8l1,-3.7l1,0l1,6.5l1,2.6l1,2.3l1,-.7l1,-5.3l1,-3l1,-2.6l1,-1.6l1,2.7l1,1.2l1,3.7l1,1.4l1,-1l1,1.8l1,-3.5l1,.6l1,-1.8l1,-.2l1,1.6l1,-.5l1,.6l1,6.8l1,8.6l1,6.1l1,8.4l1,-1.3l1,-5.4l1,-2.5l1,-.4l1,-4l1,-5.8l1,-.7l1,-4.4l1,3.2l1,5.5l1,5.7l1,3l1,5.6l1,5.6l1,5.2l1,-4.3l1,-4.9l1,-2.5l1,-2.4l1,-3.1l1,-1.9l1,-2.5l1,.7l1,5.6l1,5.2l1,0l1,5.5l1,4l1,2.6l1,2.4" fill="none" stroke="#1A9200" stroke-width="4.1" stroke-linejoin="round" stroke-linecap="round"/>
<path d="M332,2055h2v-11h2v-10h2v7h2v-1h2v1h2v1h2v1h2v7h2v-7h2v-9h2v-16h2v11h2v1h2v-1h2v-3h2v-3h2v-15h2v-17h2v-15h2v-16h2v14h2v-21h2v18h2v11h2v17h2v3h2v3h2v-2h2v2h2v-13h2v-25h2v-16h2v13h2v4h2v1h2v9h2v3h2v-21h2v-33h2v-26h2v16h2v10h2v-5h2v9h2v4h2v3h2v-6h2v-27h2v22h2v29h2v18h2v2h2v1h2v-1h2v-18h2v-28h2v-29h2v18h2v-5h2v-4h2v-11h2v-45h2v38h2v14h2v-10h2v20h2v21h2v-1h2v-6h2v-16h2v9h2v-1h2v7h2h2v-13h2v-42h2v-37h2v30h2v29h2v15h2v18h2v-6h2h2v7h2v1h2v-1h2v7h2v4h2v7h2v-1h2v-8h2v-10h2v-10h2v3h2v9h2v10h2v7h2v-3h2v-6h2v-5h2h2v14h2v5h2h2v8h2v3h2h2v3h2v2h2v-4h2v1h2h2v2h2v-8h2v5h2h2v8h2v5h2h2v4h2v3h2v14h2v6h2v-12h2v-3h2v-5h2v-1h2v10h2v9h2v-1h2v-2h2h2v9h2v5h2v3h2v4h2v7h2v8h2v4h2h2v-8h2v-3h2v11h2v4h2v13h2v7h2v-2h2h2v1h2v-3h2h2h2v-1h2v-8h2v-3h2v3h2v5h2h2v2h2v4h2v5h2v-1h2v-1h2v2h2v-3h2v2h2v-6h2v-3h2v-1h2v-1h2v5h2h2v-1h2h2v-1h2v-3h2v-1h2v-5h2v2h2v2h2v3h2v-2h2v3h2h2v-7h2v-2h2v-6h2v-16h2v-14h2v15h2v5h2h2h2v-14h2v15h2v1h2v-1h2v4h2v5h2v-5h2v-6h2v-16h2v12h2v-3h2v-9h2v-4h2v3h2v-1h2v-2h2v-6h2v-10h2v-6h2v-6h2v6h2v-2h2v-8h2v-12h2v4h2v-1h2h2v8h2v2h2v4h2v-2h2v-2h2v-5h2v-18h2v-14h2v-23h2v15h2v4h2v5h2v1h2v12h2v7h2h2v-7h2v-13h2v-37h2v-22h2v23h2v26h2v8h2v-6h2v-9h2v-8h2v6h2v15h2v-1h2v-10h2v-4h2v-12h2v-14h2v-34h2v52h2v16h2v15h2v-20h2v-23h2v-26h2v21h2v16h2v20h2v6h2v-6h2v-1h2v-1h2v-17h2v20h2v-24h2v23h2v15h2v12h2v-1h2v-4h2v-1h2v1h2v-8h2v-15h2v2h2v13h2v6h2v9h2h2v-7h2v-2h2v3h2h2v4h2v8h2v-1h2h2v2h2v6h2v2h2v6h2v7h2h2h2v1h2v-1h2v7h2h2v-7h2v3h2v3h2v2h2v3h2v3h2v-3h2v1h2v6h2v2h2v1h2v11h2v9h2v-5h2v-5h2v7h2v12h2v2h2v-5h2v-4h2v-5h2h2v2h2v6h2v5h2v-2h2v-1h2v3h2v-2h2v4h2v11h2v5h2v1h2v-7h2v-9h2v4h2v10h2v12h2v14h2v4h2v-23h2v-8h2v8h2h2v-3h2v2h2v3h2v4h2v-4h2v3h2v5h2v-4h2v-1h2v-8h2v-1h2v-3h2v-3h2v2h2v-3h2v-2h2v1h2v5h2v-2h2v-2h2v-5h2v-2h2h2v-1h2v-2h2v-3h2v-8h2v3h2v2h2v-2h2v-11h2v6h2v-1h2v-16h2v18h2v7h2v7h2v-6h2v-7h2v-8h2v-10h2v-5h2v-11h2v-26h2v-31h2v20h2v28h2v24h2v5h2v9h2v-6h2v-13h2v-13h2v-4h2v7h2v-5h2v1h2v-2h2v-38h2v-54h2v21h2v-15h2v22h2v9h2v11h2v2h2v-10h2v-9h2v-2h2v10h2v12h2v-13h2v-8h2v-25h2v15h2v9h2h2v-9h2v-3h2v-21h2v10h2v-17h2v13h2v19h2v-4h2v-4h2v-36h2v7h2v-60h2v33h2v31h2v-6h2v17h2v17h2v14h2h2v-10h2v-33h2v13h2v18h2v24h2v13h2v-2h2v-13h2v-8h2v7h2v8h2v3h2v1h2v-4h2v-4h2v7h2v7h2v6h2v5h2v-2h2v-3h2v-1h2v-1h2v6h2v2h2v1h2v-2h2v2h2v4h2v4h2v-2h2v4h2v1h2v-1h2h2v4h2v2h2v2h2v5h2v4h2v-2h2v4h2v-4h2v-1h2v6h2v3h2v3h2v8h2v-2h2v-2h2v-1h2v4h2v6h2v5h2v-7h2V2037h-2v8h-2v20h-2v-27h-2v-6h-2v4h-2h-2v-3h-2v-7h-2v-2h-2v-4h-2v1h-2v-2h-2v3h-2v-1h-2v-3h-2h-2v-3h-2v-7h-2h-2v1h-2v1h-2v-5h-2v-5h-2v3h-2v-5h-2v2h-2v-1h-2v-7h-2h-2v2h-2v-4h-2h-2v-2h-2h-2v-4h-2v3h-2v-6h-2v-4h-2v1h-2v-4h-2v1h-2v-5h-2v1h-2v-3h-2v-4h-2v2h-2h-2v16h-2v-9h-2v-10h-2v-3h-2v-8h-2v1h-2v2h-2v-1h-2v-1h-2v-7h-2v-5h-2v-8h-2v-11h-2v5h-2v3h-2v4h-2v7h-2v12h-2v5h-2v-12h-2v-14h-2v1h-2v7h-2v5h-2v5h-2v-1h-2v5h-2v2h-2v2h-2v8h-2v4h-2v1h-2v3h-2v-8h-2v-4h-2v2h-2v-1h-2v8h-2h-2v-8h-2v-2h-2v-2h-2v1h-2v28h-2v26h-2v14h-2v-10h-2v-2h-2h-2v1h-2v8h-2v12h-2v14h-2v-1h-2v-4h-2v-8h-2v-13h-2v-20h-2v5h-2v12h-2v7h-2v4h-2v4h-2v11h-2v10h-2v8h-2v-2h-2v-1h-2v2h-2v-9h-2v-6h-2v4h-2v8h-2v-1h-2v-3h-2h-2h-2v7h-2v5h-2v1h-2v-1h-2v-1h-2v1h-2v2h-2v3h-2v2h-2h-2h-2h-2v-2h-2v1h-2v-2h-2v8h-2v1h-2v6h-2v2h-2v6h-2v-1h-2v-1h-2v-4h-2v-3h-2v1h-2v-2h-2v23h-2v-18h-2v-10h-2v7h-2v38h-2v-21h-2v-17h-2v-15h-2v-10h-2v1h-2v10h-2v2h-2h-2v8h-2v-15h-2v-7h-2v-3h-2h-2v3h-2v5h-2v-7h-2v-8h-2v-3h-2h-2v2h-2v3h-2v6h-2v16h-2v-25h-2v-7h-2v4h-2v2h-2v-11h-2v-11h-2v-1h-2v1h-2v31h-2v-29h-2v-7h-2v3h-2v-4h-2v-4h-2v-4h-2v-1h-2v5h-2v-4h-2v1h-2v-1h-2v-2h-2v2h-2v14h-2v-23h-2v-4h-2v-4h-2v-6h-2v-7h-2v3h-2v2h-2v-6h-2v-3h-2v-6h-2v5h-2v3h-2v2h-2v-7h-2v-2h-2v-1h-2v-9h-2v-4h-2v9h-2v6h-2v5h-2h-2v-3h-2v3h-2v-1h-2v-4h-2v-6h-2v-8h-2v-4h-2h-2v1h-2v-1h-2v-3h-2v-2h-2v-14h-2v-8h-2v10h-2v12h-2v5h-2v8h-2v14h-2v-22h-2v-10h-2v-13h-2v7h-2v7h-2v8h-2v11h-2v-6h-2v-10h-2v-6h-2h-2v7h-2v3h-2v-7h-2v-16h-2h-2v17h-2v18h-2v7h-2v8h-2v4h-2v-13h-2v-7h-2v-3h-2v-2h-2v-3h-2v6h-2v15h-2v9h-2v3h-2v3h-2v10h-2v-4h-2v-7h-2v1h-2v-5h-2v3h-2v-5h-2v6h-2v7h-2v5h-2v3h-2v-4h-2v1h-2v5h-2v14h-2v5h-2v1h-2v-1h-2v1h-2h-2v11h-2v9h-2v2h-2v7h-2h-2v-1h-2v-2h-2v-4h-2h-2v-2h-2v1h-2v3h-2v-3h-2v-2h-2h-2v4h-2v4h-2v7h-2v5h-2v3h-2v-3h-2v3h-2v-1h-2v-2h-2v-4h-2v-1h-2v6h-2v2h-2v11h-2v-13h-2v5h-2v5h-2v-5h-2h-2v-3h-2v3h-2v3h-2v4h-2v9h-2v-8h-2v2h-2v-5h-2v1h-2v1h-2v-5h-2v3h-2v9h-2v-12h-2v-11h-2v-8h-2v7h-2v10h-2v2h-2v3h-2v-3h-2v4h-2h-2v2h-2v14h-2v-18h-2v38h-2v-59h-2v-5h-2v5h-2v1h-2v-7h-2v-2h-2v1h-2v-9h-2v-9h-2v-1h-2v-6h-2v-11h-2h-2v1h-2h-2v-3h-2v-6h-2v-2h-2v4h-2v3h-2v6h-2v21h-2v-34h-2v-10h-2v-5h-2v2h-2v-1h-2v-5h-2v1h-2v-5h-2v2h-2v1h-2v-2h-2v-1h-2v-1h-2v3h-2v-3h-2v-5h-2v-1h-2v-6h-2v-2h-2v-2h-2v-9h-2h-2v1h-2v1h-2v6h-2v-1h-2v-7h-2v-7h-2v-5h-2v5h-2v11h-2v5h-2v6h-2v-6h-2v-3h-2v-1h-2v-12h-2v-8h-2v2h-2v4h-2v-1h-2v-6h-2v-4h-2v-11h-2v-8h-2v25h-2v8h-2v6h-2v4h-2v-7h-2v-5h-2v-4h-2v6h-2v5h-2v1h-2v-1h-2v-8h-2v-12h-2v-14h-2v9h-2v8h-2v-3h-2v4h-2v2h-2v4h-2v16h-2v21h-2v9h-2v6h-2v6h-2v-9h-2v-17h-2v-13h-2v2h-2v2h-2v-9h-2v-8h-2v-2h-2v-7h-2v1h-2v6h-2v3h-2v22h-2v24h-2v-2h-2v-4h-2v-7h-2h-2v8h-2v2h-2v4h-2v10h-2v6h-2v6h-2v5h-2h-2v1h-2v-18h-2v-14h-2v-3h-2v14h-2v6h-2v-6h-2v1h-2v19h-2v15h-2v4h-2v6h-2v3h-2v3h-2v1h-2v1h-2v5h-2h-2v-3h-2v-5h-2v1h-2v8h-2v-1h-2v-4h-2v4h-2v4h-2z M1613,1927h2v-17h2v-12h2v14h2h2v8h2v3h2h2v13h2v12h2v-3h2v5h2v6h2v5h2v7h2v1h2v3h2v16h2v-6h2v2h2v6h2v4h2v6h2v4h2v-4h2v6h2v9h2v4h2v1h2v-6h2v3h2v14h2v-2h2v4h2v-1h2v5h2v5h2v-2h2v-2h2v18h2v8h2v-17h2h2v8h2v4h2v4h2v6h2v6h2v3h2v6h2v-1h2v-1h2v-3h2v3h2v1h2v-5h2v-1h2h2v-2h2v2h2v-1h2v4h2v-6h2v-3h2v1h2v2h2v-1h2v-1h2v4h2v6h2v5h2v4h2v5h2v-6h2v-6h2h2v4h2v-8h2h2v-4h2v-3h2v-1h2v-5h2v-1h2v1h2h2v-4h2v-7h2v4h2v1h2v4h2v2h2v-3h2v-6h2v4h2v2h2v-5h2v-7h2v9h2h2v-1h2v-2h2v-3h2v-7h2v-10h2v-12h2v-35h2v16h2v9h2v7h2v3h2V2054h-2v-2h-2v-6h-2v-4h-2v7h-2v11h-2v6h-2v4h-2h-2v3h-2v1h-2v1h-2v3h-2v-1h-2v1h-2v3h-2v-2h-2v-1h-2v2h-2v2h-2v2h-2h-2v2h-2v-2h-2v1h-2v6h-2v5h-2v1h-2v1h-2h-2v2h-2v4h-2v5h-2h-2v5h-2v1h-2v-1h-2v5h-2v5h-2h-2v-10h-2v-8h-2v-11h-2v-7h-2v4h-2v2h-2h-2v1h-2v3h-2v7h-2v2h-2v9h-2v-14h-2v-2h-2v-2h-2v2h-2v-3h-2v3h-2v1h-2v-2h-2v-1h-2v1h-2v-1h-2v2h-2v-2h-2v-2h-2v-6h-2v-11h-2v5h-2v27h-2v18h-2v9h-2v-53h-2v-3h-2v-8h-2v-14h-2v-3h-2v16h-2v6h-2v17h-2v-12h-2v-17h-2v-6h-2v-17h-2v-9h-2v3h-2v1h-2v-4h-2v-8h-2v-8h-2v-1h-2v6h-2v3h-2v3h-2v-11h-2v-11h-2v1h-2v-13h-2v-9h-2v-5h-2h-2v2h-2v5h-2v3h-2v-1h-2h-2v-15h-2v-5h-2v1h-2v2h-2v-6h-2z M1906,1857h2v-43h2v-3h2v20h2v-4h2v16h2v21h2v21h2v-31h2v20h2v2h2v-21h2v-53h2v34h2v-5h2v-2h2v-13h2v25h2v-31h2v3h2v24h2v16h2v48h2v5h2v-14h2v7h2v7h2v-2h2v1h2v-1h2v-19h2v-2h2v22h2v6h2v9h2v-8h2v-5h2v1h2v13h2v-8h2v-4h2v12h2v11h2v-1h2v9h2v8h2v4h2v7h2v6h2v-7h2v4h2v6h2v2h2h2v3h2v3h2v2h2v1h2v2h2v3h2v2h2v1h2v1h2v8h2v-2h2v-2h2v4h2v2h2v3h2v2h2v-2h2v1h2h2v2h2v3h2v5h2v-1h2v-5h2v10h2h2v-3h2v4h2v1h2v4h2v8h2v11h2v10h2v5h2v5h2v-6h2v-7h2h2v2h2v-5h2v-3h2v-3h2v2h2v3h2v3h2v4h2v1h2v4h2v-2h2v2h2v-6h2v5h2v-3h2v3h2v-3h2v1h2v4h2v-5h2v2h2v-2h2v7h2v-7h2v-6h2v-4h2v-5h2v-1h2v-8h2v5h2v-7h2v5h2v-5h2v-8h2v3h2h2v2h2v-9h2v6h2v-8h2v-10h2v-1h2v-3h2v-3h2v-7h2v6h2v-12h2v-1h2v12h2v-6h2v-5h2v-2h2v-28h2v-7h2v11h2v18h2v-22h2v-16h2v2h2v-13h2v-6h2v18h2v18h2v20h2v-9h2v6h2v-1h2v-3h2v3h2v2h2v-1h2v-11h2v-9h2v-9h2v-39h2v-2h2v18h2v-24h2v-9h2v18h2v-30h2v-8h2v-1h2v-30h2v-11h2v7h2v-13h2v-19h2v28h2v-18h2v36h2v38h2v10h2v-4h2v1h2v-45h2v22h2v-16h2v5h2v9h2v28h2v-7h2v-38h2v-23h2v17h2v19h2v-5h2v16h2v1h2v-12h2v-27h2v12h2v19h2v-10h2v7h2v7h2v-4h2v5h2v-17h2v21h2v2h2v13h2h2v7h2v13h2v3h2v7h2v7h2v8h2v-10h2v8h2v11h2v-7h2v6h2v4h2v-1h2v3h2v11h2v3h2v2h2v3h2v3h2v-2h2v3h2v7h2v2h2v-2h2v1h2v3h2v8h2v4h2v-1h2v1h2v3h2v4h2v3h2v2h2v3h2h2v3h2v2h2v2h2v-2h2h2h2h2v3h2v-2h2v-1h2v2h2v2h2v1h2v1h2v5h2v7h2v-1h2v7h2v3h2v-1h2v6h2v1h2v-4h2V2061h-2v5h-2v13h-2v-4h-2v-8h-2v4h-2v15h-2v-6h-2v-10h-2h-2v4h-2v-9h-2v-8h-2v-12h-2v-2h-2v-1h-2v-1h-2h-2v1h-2v-6h-2v3h-2v-2h-2v4h-2v12h-2h-2v3h-2v-12h-2v-12h-2v7h-2v-2h-2v-15h-2v-8h-2v-3h-2v-3h-2v-5h-2h-2v-1h-2v-8h-2v-6h-2v-4h-2h-2h-2v-2h-2v-4h-2h-2h-2v-3h-2v-2h-2v-5h-2v6h-2v2h-2v2h-2v1h-2v-3h-2v3h-2v-2h-2v-4h-2v-6h-2v-10h-2v-7h-2v3h-2v7h-2v8h-2v-15h-2v2h-2v-3h-2v-8h-2v-12h-2v4h-2v22h-2v10h-2h-2v10h-2v8h-2v-5h-2v-4h-2v-13h-2v8h-2v-20h-2v3h-2v11h-2v9h-2v-2h-2v-6h-2v8h-2v-3h-2v1h-2v11h-2v-11h-2v1h-2v16h-2v-8h-2v13h-2v-42h-2v1h-2v-3h-2v-13h-2v2h-2v-3h-2h-2v18h-2v19h-2v15h-2v5h-2v-3h-2v-1h-2v-3h-2v14h-2v1h-2v9h-2v1h-2v5h-2v9h-2v2h-2v6h-2v-4h-2v-3h-2v-1h-2v9h-2v-7h-2v-9h-2v-6h-2v18h-2v4h-2v-2h-2v-10h-2v6h-2v-2h-2v3h-2h-2v-2h-2v7h-2v3h-2v-5h-2v-2h-2v4h-2v-4h-2v4h-2v1h-2v1h-2v6h-2v-1h-2v4h-2v1h-2v-4h-2v3h-2v3h-2v5h-2v3h-2v1h-2v1h-2v4h-2v-1h-2h-2v1h-2v8h-2v3h-2v6h-2v1h-2v3h-2v2h-2v-7h-2v3h-2v4h-2v3h-2v-3h-2v-11h-2v1h-2v6h-2v3h-2v15h-2v1h-2v-14h-2v-7h-2v-1h-2v-10h-2v-9h-2v-4h-2v9h-2v3h-2v-1h-2v3h-2v7h-2v16h-2v21h-2v43h-2v-13h-2v-7h-2v-28h-2v-29h-2v-26h-2v-13h-2v-8h-2v-1h-2v10h-2v3h-2v8h-2v-9h-2v-7h-2v-8h-2v-6h-2v-5h-2v7h-2v9h-2v26h-2v-13h-2v3h-2v-16h-2v-2h-2v-4h-2v4h-2v-3h-2v-14h-2v-5h-2v-2h-2v-4h-2v-3h-2v-4h-2v-3h-2v2h-2v-6h-2v-2h-2v-2h-2v4h-2v-4h-2v-2h-2h-2v-2h-2v-2h-2v-2h-2h-2v-2h-2v-11h-2v-3h-2v1h-2v3h-2v-2h-2h-2v-1h-2v6h-2v1h-2v-4h-2v7h-2v1h-2v-1h-2v2h-2v-3h-2v-16h-2v5h-2v-1h-2v-2h-2v16h-2v5h-2v-21h-2v-18h-2v2h-2v-4h-2v-4h-2v-4h-2v7h-2v28h-2v11h-2v6h-2v-13h-2v6h-2v5h-2v-12h-2v-7h-2v5h-2v-12h-2h-2v9h-2v28h-2v-24h-2z M2460,2044h2v14h2v-6h2h2v8h2v-12h2v-6h2v-1h2v6h2v-5h2v-1h2v4h2v1h2v1h2v-2h2h2h2v1h2v-1h2v3h2v3h2v-4h2v-1h2v-3h2h2v2h2v4h2v-1h2v1h2v-7h2v-4h2v-4h2v-9h2h2v-2h2v1h2v4h2v1h2v-7h2v-6h2v-3h2v-9h2v-14h2v4h2v-9h2v-19h2v-10h2v14h2v11h2v2h2v5h2v-3h2v-14h2v8h2h2v4h2h2v-1h2v-6h2v-19h2v-13h2v23h2v-15h2v-11h2v-27h2v-35h2v4h2v5h2v5h2v8h2v21h2v15h2v-2h2v-14h2v10h2v22h2v-18h2v-23h2v-17h2v-1h2v-17h2v-35h2v3h2v-27h2v4h2v18h2v-33h2v36h2h2v41h2v16h2v-34h2v14h2v-3h2v-20h2v-3h2v16h2v-52h2v5h2v12h2v28h2v-9h2v15h2v-6h2v4h2v-31h2v6h2v23h2v10h2v-11h2v-9h2v-10h2v-14h2v26h2v35h2v-17h2h2v-16h2v-17h2v12h2v19h2v11h2v15h2v14h2v10h2v-4h2v-6h2v12h2v15h2v2h2v-2h2v2h2v4h2v3h2v4h2v6h2v4h2v-1h2v3h2v-2h2v4h2v4h2v3h2h2v1h2v-1h2v1h2v5h2v1h2v2h2v3h2v2h2v3h2v1h2h2v-6h2v2h2v6h2v1h2v1h2v1h2v3h2v6h2v4h2v4h2v8h2h2v-2h2h2v2h2v-2h2v-5h2v4h2v4h2h2v-1h2v1h2v4h2h2v7h2v2h2v2h2v-3h2v-1h2v-4h2v-5h2v-5h2v4h2v2h2v5h2v5h2v2h2v1h2v-5h2h2v4h2v-4h2v-8h2v2h2v2h2v1h2h2v3h2v5h2h2h2v-2h2v-2h2v-5h2v-2h2v2h2v-6h2v-3h2v-3h2v-4h2v3h2v-1h2v-1h2v-5h2v-6h2h2V2029h-2v-1h-2v3h-2v1h-2h-2v3h-2v1h-2v3h-2v2h-2v2h-2v1h-2v-2h-2v4h-2v1h-2v3h-2v1h-2v-2h-2v1h-2v-2h-2v-3h-2v-2h-2v-1h-2v-1h-2h-2v8h-2v11h-2v6h-2v4h-2v-7h-2v-2h-2v2h-2v-8h-2v-9h-2v-8h-2v-4h-2v6h-2v5h-2v1h-2v1h-2v9h-2v8h-2v10h-2h-2v-18h-2h-2v-6h-2v2h-2h-2v-5h-2v7h-2v14h-2v17h-2v-33h-2v-6h-2v6h-2v16h-2v-14h-2v-17h-2v-8h-2v5h-2v-6h-2v-14h-2v-5h-2v6h-2v5h-2v11h-2v-5h-2v-9h-2v1h-2v-6h-2v-3h-2v-8h-2v-5h-2v-3h-2v-4h-2h-2v3h-2v-1h-2v-1h-2v1h-2v-4h-2h-2v-3h-2v-2h-2v-2h-2v-6h-2v-1h-2v-2h-2h-2h-2v-7h-2v-2h-2v2h-2v1h-2v4h-2v-1h-2v1h-2v-11h-2v-1h-2v1h-2v-6h-2v-10h-2v-7h-2h-2v18h-2h-2v7h-2v-7h-2v-2h-2v7h-2v2h-2v-7h-2v-4h-2v2h-2v-8h-2v-10h-2v8h-2v20h-2v14h-2v-4h-2v-23h-2v-3h-2v9h-2v6h-2v15h-2v3h-2v-9h-2v5h-2v6h-2v2h-2v-8h-2v-4h-2v-22h-2v-7h-2v-19h-2v1h-2v12h-2v26h-2v14h-2v1h-2v23h-2v3h-2v-7h-2h-2v8h-2v8h-2v-2h-2h-2v-11h-2v-2h-2v8h-2v-11h-2v-17h-2v23h-2v-6h-2v-16h-2v24h-2v5h-2v17h-2v9h-2h-2v-5h-2v2h-2v1h-2h-2v2h-2v-1h-2v5h-2v-2h-2v-9h-2v2h-2v11h-2v-2h-2v-2h-2v-5h-2v6h-2v-9h-2v7h-2h-2v3h-2v1h-2v6h-2v3h-2v2h-2h-2v4h-2v-1h-2v3h-2v3h-2v2h-2v1h-2h-2v1h-2v2h-2v3h-2v-2h-2v2h-2v-7h-2h-2v8h-2v3h-2v-5h-2v-3h-2v1h-2v-2h-2v7h-2v-5h-2h-2v3h-2v6h-2v12h-2v1h-2v7h-2v3h-2v10h-2v2h-2v2h-2v3h-2v9h-2v9h-2v-37h-2z" fill="#C9EBC6" shape-rendering="crispEdges"/>
<path d="M347.5,2042v22M352.5,2033v29M364.5,2022v22M377.5,1952v43M380.5,1981v31M417.5,1926v20M427.5,1931v39M438.5,1976v24M527.5,1947v20M534.5,1933v25M557.5,1965v23M635.5,2059v24M681.5,2058v20M700.5,2056v17M736.5,2014v40M743.5,2014v19M835.5,1924v27M855.5,1899v34M861.5,1941v15M903.5,1957v27M945.5,1998v22M968.5,2023v23M974.5,2044v19M981.5,2030v21M984.5,2032v23M1010.5,2050v15M1026.5,2067v45M1039.5,2072v25M1097.5,2034v32M1098.5,2041v23M1144.5,1957v58M1152.5,1931v32M1181.5,1932v22M1196.5,1920v39M1204.5,1827v104M1226.5,1921v40M1243.5,1953v19M1258.5,1969v16M1267.5,1970v22M1289.5,1983v27M1318.5,2013v24M1622.5,1911v65M1670.5,2019v43M1676.5,2030v67M1703.5,2062v35M1711.5,2083v17M1713.5,2082v17M1726.5,2076v23M1765.5,2087v28M1779.5,2065v33M1781.5,2066v31M1823.5,2025v35M1932.5,1835v132M1954.5,1891v70M1968.5,1882v92M1982.5,1920v47M1984.5,1912v52M2015.5,1972v25M2048.5,2001v25M2051.5,2001v19M2057.5,2011v27M2076.5,2040v70M2095.5,2041v28M2100.5,2043v18M2152.5,2030v30M2171.5,2001v42M2175.5,1997v41M2181.5,1993v39M2183.5,1981v55M2209.5,1924v108M2211.5,1918v96M2247.5,1886v109M2252.5,1866v90M2258.5,1824v116M2268.5,1809v188M2284.5,1851v125M2298.5,1842v131M2331.5,1876v85M2333.5,1889v65M2339.5,1909v59M2352.5,1943v35M2394.5,1994v44M2404.5,2009v45M2414.5,2014v22M2417.5,2014v29M2462.5,2057v75M2488.5,2044v21M2509.5,2042v25M2529.5,2022v30M2532.5,2027v22M2543.5,2003v34M2558.5,1982v57M2561.5,1987v41M2629.5,1821v115M2681.5,1854v106M2704.5,1898v59M2723.5,1941v31M2733.5,1962v20M2779.5,1995v19M2845.5,2038v27M2876.5,2029v18" stroke="#fff" stroke-width="1" fill="none" shape-rendering="crispEdges"/>
<path d="M332.5,2064.1l1,-2.1l1,-3.2l1,-.4l1,-1.8l1,-1.8l1,-1.1l1,1.2l1,-.3l1,.1l1,-1.6l1,-1l1,-.8l1,1.9l1,-.9l1,4.9l1,1.5l1,1l1,-1.3l1,-3l1,-1.8l1,-1.4l1,-4.1l1,.4l1,-2.3l1,-.9l1,-2.7l1,-1.4l1,1.1l1,-2.3l1,-1.6l1,-.4l1,.2l1,-6.1l1,-7.2l1,-9.8l1,-9.1l1,-11.4l1,2.6l1,5.3l1,2.6l1,1.8l1,-6.6l1,-6.6l1,-5.1l1,-6.5l1,-.2l1,7.8l1,5.3l1,5.7l1,9.3l1,.5l1,3.8l1,1.1l1,.4l1,-.2l1,-1.8l1,-1.1l1,-.2l1,-1.9l1,-3.3l1,-2.6l1,-6.8l1,-5.2l1,-3.1l1,-4l1,-1.9l1,-4.2l1,-2l1,-1.7l1,1.3l1,4.3l1,1.6l1,4.5l1,2.7l1,3.2l1,3.4l1,-11l1,-12.4l1,-11.9l1,-12.9l1,-1.7l1,-1.6l1,-3.1l1,-3.2l1,-.5l1,-1.3l1,1.4l1,.6l1,1.5l1,3.1l1,2.2l1,4.8l1,6.6l1,4.2l1,-4l1,-.9l1,-2.5l1,-.3l1,4.1l1,8.3l1,7.6l1,6.5l1,7.4l1,1.2l1,1.3l1,2.3l1,-1.1l1,-2.4l1,-3.3l1,-4.9l1,-10.4l1,-10.7l1,-11.7l1,-9.9l1,-3.4l1,-2l1,-2.2l1,.2l1,-1.8l1,.2l1,3.7l1,2l1,-1.1l1,-7.1l1,-6.4l1,-5.5l1,.8l1,6.1l1,4.4l1,7.5l1,6.3l1,8.6l1,4.5l1,-2l1,-1.9l1,-1.9l1,-1.8l1,-2.8l1,-1l1,-1.6l1,-.1l1,1.9l1,3l1,.2l1,-.9l1,3.3l1,1.1l1,-1.1l1,-3.1l1,-1.7l1,-.9l1,-3.9l1,-9l1,-13.1l1,-10.8l1,9.7l1,9.8l1,7l1,2.9l1,-.4l1,2.9l1,1.5l1,1l1,-.4l1,-1.1l1,-2.2l1,1l1,0l1,1.4l1,4.5l1,3.1l1,2.7l1,4.6l1,1.3l1,1.5l1,.4l1,3.5l1,.7l1,.6l1,-4.1l1,-2.7l1,-1.8l1,-3.2l1,-4.1l1,-3.2l1,-2.8l1,-2.3l1,3.4l1,3.8l1,3.2l1,3.8l1,.5l1,3.1l1,-.2l1,-.8l1,1l1,-.9l1,-1.1l1,1.4l1,-1.2l1,-.3l1,-1.7l1,1.7l1,2.1l1,3.6l1,3.6l1,1.2l1,.7l1,1.1l1,4.2l1,.6l1,1.4l1,.8l1,-2.8l1,2.9l1,1.8l1,1.5l1,.8l1,1.3l1,-.1l1,2.1l1,.3l1,-.3l1,.9l1,-1.4l1,-2.3l1,0l1,-2.3l1,.2l1,2.1l1,0l1,1.8l1,1l1,2.4l1,2.2l1,1.6l1,.4l1,-1l1,.9l1,1.4l1,2.3l1,-1.4l1,8.3l1,6.4l1,6l1,4.8l1,-2.3l1,-3.6l1,-1.7l1,-1.7l1,-4.1l1,-.4l1,-3.6l1,3.7l1,2l1,1.4l1,3.3l1,3.2l1,3.6l1,-1.4l1,-.4l1,.9l1,-.5l1,-.7l1,.6l1,1.3l1,5.5l1,1.1l1,3.2l1,2.4l1,3.7l1,1.7l1,1.9l1,3.3l1,2.7l1,1.5l1,4l1,1.6l1,2.5l1,2.1l1,-1l1,-2.5l1,-.1l1,-2.7l1,-1.4l1,3.3l1,3.1l1,1l1,2.9l1,6.7l1,9.3l1,3.6l1,.4l1,-.2l1,.2l1,1.6l1,-.8l1,.7l1,-1.3l1,-1l1,-1.9l1,1l1,-2.8l1,-1.5l1,-.4l1,-.2l1,-2l1,-3.8l1,-2.2l1,-3l1,-2.5l1,4.8l1,2l1,5.6l1,4.8l1,.2l1,.5l1,2l1,0l1,-1.2l1,1.2l1,1.7l1,.3l1,.4l1,.8l1,-.6l1,.3l1,.5l1,-1.1l1,-1.5l1,2.1l1,-.1l1,-1.9l1,-2l1,.1l1,-.2l1,-.3l1,-.7l1,-1.6l1,-.7l1,-.9l1,.5l1,.7l1,2l1,-1.2l1,2.7l1,.5l1,-2.8l1,-2.7l1,-1.5l1,-1.6l1,0l1,-2.7l1,-.1l1,.5l1,.3l1,-.5l1,-1.1l1,0l1,-.3l1,2.4l1,.6l1,0l1,-.7l1,.5l1,.9l1,-.6l1,.7l1,.3l1,-1.4l1,-3.2l1,0l1,-2.2l1,-1.8l1,-.1l1,-4.7l1,-2.9l1,-1.7l1,-.2l1,-.8l1,-2l1,1.3l1,.7l1,.8l1,-.9l1,.4l1,-1.6l1,.6l1,.4l1,-.4l1,.1l1,2l1,-.7l1,-.1l1,1.3l1,1.5l1,1.4l1,-.4l1,1.2l1,-.4l1,-.1l1,3.2l1,-3.2l1,-3.1l1,-.4l1,-2.1l1,-.3l1,-7.4l1,-7.7l1,-5.7l1,-3.6l1,-.2l1,2.7l1,1.3l1,-.3l1,1.8l1,.7l1,-1l1,.5l1,-2.8l1,-7.4l1,-7.4l1,-5.9l1,-5l1,-2.4l1,-.2l1,-1.1l1,3.2l1,.3l1,-.9l1,-2.4l1,-2.5l1,-1.5l1,-2.2l1,-1.4l1,-1.7l1,-2.7l1,1.3l1,-.1l1,-2.4l1,.2l1,4.2l1,1.2l1,.5l1,.3l1,4.1l1,2.3l1,-.1l1,.5l1,-3.5l1,-2.2l1,-.8l1,-2.9l1,-2.9l1,-3.9l1,-4.1l1,-5.7l1,-6.7l1,-2.9l1,-7.1l1,-3.5l1,3l1,2l1,2.5l1,2.9l1,2.5l1,2.4l1,3.5l1,4.6l1,2.9l1,4.6l1,-2l1,-4.4l1,-2.5l1,-3.1l1,-3.4l1,-6.9l1,-8.1l1,-8.8l1,-9.5l1,-9.5l1,1.5l1,9.3l1,8.7l1,7.9l1,1.9l1,-1.1l1,-1.3l1,-5.8l1,-.1l1,-1.4l1,-.7l1,4.9l1,.3l1,2.7l1,3.1l1,3.5l1,1.5l1,1.5l1,-4.3l1,-2.8l1,-2.4l1,-5.1l1,-1.4l1,-7l1,-2.9l1,-1.1l1,5.2l1,5.1l1,5.5l1,3.3l1,3l1,4.2l1,5.2l1,-2.4l1,-5.1l1,-5.1l1,-5.2l1,-4.4l1,-5.5l1,-7.3l1,-5l1,4.9l1,4.8l1,6.1l1,5.5l1,4.5l1,3.6l1,0l1,1.9l1,3.1l1,-.6l1,-1.5l1,-1.2l1,.9l1,-.2l1,.7l1,2.9l1,1.1l1,1.2l1,1.7l1,2.5l1,4.9l1,1.5l1,-.1l1,.8l1,1.4l1,0l1,.4l1,.7l1,1.3l1,-1.7l1,-.8l1,-1.1l1,-3.6l1,.1l1,-3.9l1,-5.2l1,-6.8l1,4.4l1,4l1,2.6l1,5.3l1,-.1l1,2.9l1,.4l1,3.3l1,-1.4l1,1.8l1,-1.8l1,-1.6l1,-.6l1,-.3l1,-1.6l1,.5l1,3.3l1,1.8l1,.2l1,3.9l1,-.9l1,3.4l1,-.6l1,-1l1,.7l1,.4l1,2.1l1,2.9l1,1.9l1,3.7l1,2l1,1.7l1,2.2l1,2.7l1,2.3l1,.3l1,1.4l1,-1.3l1,1l1,1l1,.4l1,.7l1,-1.3l1,1.8l1,2.4l1,2.8l1,3.4l1,-.6l1,-4.4l1,-2.9l1,-.5l1,1l1,3.2l1,1.3l1,1.8l1,2.3l1,1.7l1,-.5l1,-1l1,1.9l1,.3l1,-1l1,.6l1,3.2l1,2.2l1,2l1,-1l1,-1.1l1,-.9l1,2.9l1,4.1l1,4.6l1,5l1,4.6l1,-2.5l1,-.5l1,-1.4l1,.3l1,3l1,3l1,4.8l1,3l1,1.3l1,-2.6l1,-.3l1,-1.7l1,-1.3l1,-2.4l1,-.3l1,-.9l1,-.9l1,1l1,2.4l1,1.1l1,3.9l1,2.4l1,3.7l1,-.2l1,-1.5l1,.3l1,-1.9l1,-.3l1,-1.2l1,-1.1l1,-2.9l1,4.4l1,4.1l1,2.5l1,5.7l1,1.4l1,1.5l1,2.6l1,-.4l1,-2l1,-1.1l1,-1.5l1,-5.8l1,-.5l1,-1.3l1,.8l1,5.7l1,4.8l1,6.5l1,9.9l1,7.1l1,9.6l1,3.1l1,-11.2l1,-8.6l1,-9.5l1,-3.1l1,3.1l1,2.2l1,4.6l1,-.2l1,-2l1,-1.5l1,-1.9l1,-.3l1,.9l1,-.3l1,3.5l1,.5l1,.3l1,-.7l1,3.2l1,1l1,1.4l1,-1.8l1,-1.1l1,-2.8l1,-1.6l1,-.2l1,-.3l1,-3.1l1,-3.7l1,-1l1,-1.3l1,-2.6l1,-.5l1,3.1l1,-.8l1,-1.1l1,.5l1,-1.6l1,-1l1,.5l1,1.4l1,.4l1,-.9l1,.8l1,-3.1l1,-1.5l1,1.7l1,-.2l1,-1.3l1,-.4l1,-1.5l1,2l1,-1l1,1.2l1,-.3l1,-.2l1,-1.7l1,-2.1l1,-2.4l1,-3.3l1,-3.6l1,-2.2l1,-.3l1,2.9l1,-.3l1,-.4l1,1.5l1,.1l1,.5l1,.7l1,-1.6l1,-4.3l1,-.7l1,-1.8l1,-1.9l1,1.8l1,3.9l1,2.6l1,4.2l1,.3l1,.7l1,.1l1,-.6l1,-1.8l1,.1l1,-5.4l1,-4.1l1,-5.9l1,-5l1,-4.7l1,-6l1,-.1l1,-2.6l1,-.4l1,-2.9l1,-3.8l1,-5.8l1,-8.4l1,-4.1l1,-5.4l1,8.9l1,11.4l1,10l1,5.3l1,5.1l1,4.1l1,1l1,3l1,3.6l1,-2.1l1,-6.4l1,-5.5l1,-7.4l1,-5.6l1,-6.6l1,.8l1,1.1l1,-1.6l1,1.2l1,-1.8l1,-2.3l1,3.1l1,4l1,4.4l1,3.6l1,-13.9l1,-13.4l1,-11.7l1,-13.4l1,-16.9l1,-9.8l1,2.9l1,1.3l1,1.4l1,.6l1,2.6l1,3.8l1,3.4l1,5.3l1,2.1l1,-2.8l1,-6.5l1,-1.9l1,-.6l1,-2.8l1,2l1,.6l1,2.9l1,4.5l1,1.9l1,3.7l1,-2.5l1,-1.2l1,-.2l1,-3.7l1,-1.8l1,-3.5l1,-.8l1,-4.4l1,-3.6l1,-1.9l1,-2.6l1,.2l1,-1.8l1,-.8l1,-.2l1,-.5l1,-1.4l1,-.8l1,1.8l1,-4l1,-3.5l1,-4.1l1,-2.8l1,4.6l1,6.3l1,8l1,4.7l1,-1.9l1,-3.3l1,-2.7l1,-5l1,-2.2l1,-4.4l1,-2.6l1,-1.9l1,-.1l1,.4l1,-2.8l1,-3.7l1,1.3l1,5.7l1,5.1l1,4.4l1,3.7l1,1.2l1,3.1l1,1.9l1,.7l1,1.5l1,1.9l1,-.1l1,-1.8l1,0l1,-1.3l1,-2.1l1,3.3l1,3.5l1,1.9l1,5l1,4.1l1,4.5l1,3.6l1,-1.5l1,-4.3l1,-2.9l1,-3.3l1,.6l1,.6l1,2l1,.3l1,1l1,1l1,.3l1,-.4l1,.4l1,3.5l1,1.7l1,-3l1,-2.2l1,2.2l1,1.7l1,3.3l1,3.1l1,1.3l1,1l1,4.3l1,1.8l1,.8l1,-2.9l1,-.7l1,-.7l1,-1.3l1,2.1l1,.7l1,.4l1,.1l1,1.5l1,-.8l1,3.5l1,.9l1,.4l1,1.9l1,0l1,.6l1,.9l1,-1.2l1,.3l1,.4l1,1.6l1,1.6l1,2.6l1,-.5l1,.9l1,.6l1,2.2l1,.6l1,1.8l1,1.1l1,-.8l1,2l1,.1l1,.7l1,-1.1l1,.7l1,.4l1,2.6l1,1.4l1,3.1l1,.4l1,2.7l1,.5l1,-1.4l1,.5l1,1l1,.4l1,.6l1,-.4l1,-.9l1,.6l1,-1l1,2.2l1,2.6l1,3.1l1,3.6l1,2.6l1,1.8l1,0l1,.1l1,-1.2l1,-.9l1,-.2l1,1.9l1,2.3l1,1.6l1,3.3l1,1l1,3.3l1,-3.2l1,-3.1l1,-.4 M1613.5,1953.9l1,-.2l1,-1.2l1,1.9l1,-2.7l1,.3l1,.9l1,3.7l1,3.6l1,1.9l1,5.7l1,1.9l1,-1.3l1,-1.5l1,-1.5l1,-2l1,.3l1,1.3l1,2.9l1,.1l1,3.2l1,-1.7l1,-.8l1,-1.3l1,-.2l1,1.6l1,2l1,2l1,3.6l1,4.9l1,4.5l1,5.6l1,3.2l1,6.3l1,3.7l1,3.5l1,.1l1,-.3l1,.4l1,-1l1,-1.4l1,-1.3l1,-1.5l1,.7l1,.3l1,5.6l1,2.1l1,2.9l1,.7l1,2.9l1,.6l1,3.2l1,2.1l1,2.1l1,2.7l1,2.7l1,2.9l1,4.1l1,1.5l1,-7.9l1,7.3l1,6.3l1,6.1l1,5.2l1,-3.7l1,-.6l1,-.9l1,-3.7l1,-3.3l1,-1.9l1,1.3l1,3.1l1,1.4l1,1.3l1,5.4l1,3.4l1,3.7l1,5.7l1,14.7l1,14.2l1,1.2l1,-8.4l1,-6.3l1,-9.5l1,-6.5l1,-2.8l1,-1l1,-2.6l1,.5l1,1.9l1,4.8l1,5.6l1,5.1l1,2.5l1,1l1,1.9l1,.7l1,-.8l1,3.3l1,1.4l1,-2.3l1,-1.1l1,.5l1,-1.4l1,.5l1,.8l1,1.7l1,.6l1,1.5l1,-2.1l1,-1.8l1,-2.5l1,-.2l1,-1.6l1,.3l1,-.2l1,3.9l1,-.8l1,1.5l1,2.4l1,-1l1,3l1,.7l1,-2.8l1,-2.3l1,-.8l1,-2.2l1,-2l1,-.9l1,-2.1l1,1.3l1,-2.1l1,-1l1,-.4l1,-1.1l1,1.1l1,2.4l1,2.1l1,3.9l1,6.6l1,3.4l1,3.1l1,3.3l1,5.8l1,.1l1,-1.1l1,.2l1,-2l1,-1.5l1,-1l1,-.8l1,1.7l1,1.6l1,.8l1,-3.5l1,-5l1,-2.5l1,-.3l1,-1l1,-.7l1,1l1,.3l1,-1.2l1,-2.4l1,-2.4l1,-2.9l1,-3.1l1,-1.4l1,-5.1l1,3.2l1,.1l1,-.4l1,1.4l1,-.5l1,-3.1l1,-.7l1,-.3l1,-.9l1,-1.8l1,-.6l1,1.3l1,3.4l1,-1l1,4l1,-2.1l1,-1.6l1,-1.6l1,-.4l1,-.6l1,-2l1,2.4l1,.9l1,-.1l1,-1.3l1,.6l1,.8l1,1.5l1,-1.3l1,-2.1l1,-.4l1,-.7l1,-.6l1,.1l1,-2l1,-2.1l1,1l1,-.6l1,-3.2l1,-.3l1,-2.1l1,-4.4l1,-6.5l1,-8.6l1,-7.2l1,-6.1l1,-1.3l1,2.8l1,3.2l1,3.8l1,3.4l1,2.6l1,2.3 M1906.5,1933.4l1,5.4l1,6.1l1,-4.3l1,-9.6l1,-9.6l1,-7l1,-4.7l1,3.2l1,3.2l1,2l1,6.3l1,5.3l1,6.3l1,7.3l1,4.5l1,.6l1,-3.4l1,-5.1l1,-4.4l1,-5.6l1,-4.7l1,-6l1,-7.5l1,-8.5l1,-10.7l1,-7.7l1,-4l1,-.9l1,-4l1,.8l1,7l1,7.4l1,4.7l1,1.6l1,-.7l1,-1.4l1,-.4l1,5.7l1,4.5l1,4.5l1,6.7l1,7.7l1,8.1l1,9.5l1,3.8l1,-2.2l1,-3l1,-.5l1,-.9l1,-1l1,-1.3l1,-.2l1,-.7l1,-.7l1,4.2l1,2.8l1,3.1l1,3.6l1,1.4l1,-5.3l1,-3.3l1,-3.3l1,-3.1l1,-4.8l1,4.2l1,4.9l1,4.3l1,5.1l1,3.3l1,-.5l1,.8l1,0l1,2.8l1,-.5l1,-.3l1,-4.1l1,-2.1l1,-2.3l1,-2.1l1,.7l1,1.7l1,1.9l1,3.6l1,2.8l1,3.7l1,5.3l1,.7l1,3.1l1,2l1,.4l1,3.6l1,1.2l1,2.1l1,2.1l1,2.6l1,-1.2l1,-.9l1,-1.1l1,-.6l1,2.5l1,-1.2l1,-1.8l1,1.3l1,1.5l1,-2l1,-.2l1,-.8l1,.7l1,3l1,1.4l1,1.6l1,2.8l1,2.7l1,-.5l1,1.1l1,-1.5l1,-.5l1,.8l1,3.4l1,2.3l1,1l1,.6l1,-.2l1,3.8l1,2.2l1,5l1,1.6l1,.5l1,.9l1,-1.8l1,-2.5l1,-1.4l1,-1.7l1,1.9l1,.9l1,3.6l1,3.6l1,1.5l1,1.9l1,-1.6l1,-3.2l1,1.4l1,-1.8l1,-1l1,-1.4l1,4.6l1,2.2l1,2.1l1,2.7l1,4.1l1,3.7l1,2.1l1,4.3l1,-.4l1,-1.5l1,-1.3l1,-1.9l1,-1.8l1,-1.8l1,-2.6l1,-1.5l1,.9l1,-.5l1,0l1,2.2l1,1.1l1,1.6l1,6.6l1,5.8l1,5l1,6.5l1,6l1,9.1l1,7.4l1,6.3l1,6.1l1,7.8l1,-4.6l1,-5.6l1,-4l1,-4.8l1,-4.1l1,-5.5l1,-3.2l1,-4.2l1,-5.2l1,-3.5l1,-1.6l1,.7l1,-1.5l1,-2.1l1,.1l1,.6l1,2.7l1,1.1l1,2.8l1,2.8l1,3.7l1,3.9l1,5l1,4.3l1,-.9l1,2.9l1,1.2l1,3.4l1,2.2l1,-1.7l1,-3.2l1,-2l1,-2.5l1,-4.6l1,-3.5l1,-1.5l1,.5l1,-.1l1,-.8l1,-.3l1,2.4l1,3.2l1,2.6l1,4.7l1,-.8l1,-1l1,-2.2l1,-2.2l1,-.6l1,3.4l1,4.9l1,1.2l1,-3.5l1,-5l1,-2.6l1,-8.3l1,-2.4l1,-2.3l1,-2.1l1,.1l1,-.8l1,-4.9l1,-1.1l1,3.7l1,2.9l1,4.3l1,1.6l1,2.8l1,-3.1l1,-.2l1,-1.7l1,-1.2l1,-3l1,-.1l1,-3l1,.4l1,-.3l1,-3.4l1,-1.2l1,-1.9l1,-2.7l1,.5l1,-.2l1,1l1,.5l1,-3.1l1,-.2l1,.3l1,.5l1,-1.4l1,-3.3l1,-2.3l1,-1.5l1,-3.8l1,-3.1l1,-2.6l1,-1.8l1,2.1l1,.2l1,1.7l1,1.9l1,1.2l1,-.4l1,-2.3l1,-1.8l1,-2l1,-2.2l1,-.7l1,-.8l1,-2.4l1,0l1,1.3l1,1l1,1.7l1,.6l1,.6l1,-2.9l1,-1.7l1,-1.8l1,-2.2l1,-1l1,-5.9l1,-8.5l1,-6.8l1,-7.6l1,-8.4l1,-9.1l1,9.7l1,11.6l1,11.9l1,4.8l1,6l1,4.9l1,6.3l1,2.5l1,-1.5l1,-1.2l1,-1.1l1,-2.3l1,-.7l1,-1.8l1,-.2l1,-2l1,-4.2l1,-3.2l1,-2.1l1,-2.8l1,-1.7l1,-.3l1,-.6l1,-1.6l1,-.6l1,-2.5l1,-6.9l1,-6.9l1,-6.6l1,-4.7l1,4.3l1,2.8l1,1.6l1,2.2l1,1.4l1,3.4l1,-7.8l1,-8.4l1,-8.6l1,-9.5l1,-8l1,-6.1l1,-9.5l1,-8.9l1,-7.1l1,5.3l1,5.5l1,5.4l1,-.8l1,-2l1,-4.6l1,-6.6l1,-7.8l1,-6.6l1,1.7l1,7.5l1,5.7l1,7.9l1,5l1,13.2l1,8.8l1,10.7l1,6.3l1,-.3l1,1.2l1,-.4l1,-3.4l1,-3.1l1,-2.1l1,-3.9l1,-4.6l1,-.1l1,3.5l1,1.3l1,3.6l1,1.1l1,1l1,-1.2l1,-1.5l1,-3l1,-.8l1,-1.9l1,-.4l1,-7.9l1,-6.4l1,-7.9l1,.5l1,2.9l1,3.5l1,1.8l1,2.2l1,3.2l1,6.3l1,1.2l1,2.1l1,3.9l1,-5.4l1,-6.2l1,-8.5l1,-8l1,-8.5l1,-9.3l1,-1.4l1,2l1,2.9l1,2l1,.9l1,.7l1,.2l1,-.4l1,0l1,.8l1,5l1,7.7l1,.4l1,-6.4l1,-6l1,3.3l1,-.3l1,.7l1,4l1,1.6l1,2.5l1,.9l1,5.2l1,5.5l1,3.8l1,7.1l1,5.3l1,3.9l1,.3l1,4.4l1,.3l1,2.6l1,.8l1,1l1,3.2l1,.1l1,-1.1l1,-2.3l1,-.8l1,-.9l1,-.5l1,-2.3l1,-1.3l1,-.9l1,-.4l1,4.6l1,5.1l1,3.2l1,.9l1,1.5l1,1.7l1,-1.4l1,1l1,.9l1,.5l1,2.9l1,-.5l1,1l1,1.2l1,1.3l1,-1.7l1,-.6l1,-.4l1,2.2l1,.6l1,2.6l1,2.6l1,2.7l1,-.6l1,1.6l1,1.5l1,-.6l1,3.6l1,3.2l1,-.1l1,2.8l1,1.9l1,1.7l1,-.1l1,0l1,3.6l1,.9l1,-.3l1,1.2l1,-.7l1,3.6l1,2l1,.4l1,3.2l1,3.7l1,-.3l1,-1l1,-1.8l1,-1.2l1,-2.6l1,2.3l1,4.9l1,.3l1,.4l1,3.5l1,.4l1,-.9l1,-.6l1,-.4l1,-2l1,0l1,-.7l1,-1.1l1,2.5l1,1.4l1,.8l1,1.1l1,2.6l1,-2l1,3.3l1,.6l1,.3l1,-.2l1,.1l1,1.3l1,-1l1,3.2l1,-.3l1,2.7l1,1.5l1,3.3l1,1.7l1,-.6l1,2.5l1,.7l1,2.5l1,1.6l1,.7l1,1.2l1,1.5l1,.8l1,.5l1,-.4l1,1.7l1,0l1,-1.1 M2460.5,2058.4l1,11.8l1,9.6l1,-6.3l1,-2.8l1,-4.8l1,-2.9l1,3.9l1,8.9l1,9.5l1,8.2l1,-4.4l1,-6.7l1,-5.2l1,-6.7l1,-3.5l1,-.6l1,-1.1l1,-1.6l1,-.3l1,-1.2l1,-3.8l1,.4l1,-1.8l1,-1.3l1,-1.1l1,-.7l1,.1l1,-2.3l1,-.5l1,-1.3l1,-.2l1,-.3l1,.7l1,.4l1,-1.6l1,.4l1,-1l1,3.3l1,3.3l1,1.9l1,2.5l1,-2.8l1,-3.5l1,-1.6l1,-2.8l1,-1.3l1,-1.7l1,1.3l1,-1.2l1,1.9l1,3l1,2.1l1,1.7l1,1l1,1.8l1,.7l1,-2l1,-1.1l1,-1.6l1,-2.9l1,-1.2l1,-1.1l1,-1.3l1,-2.6l1,.2l1,.3l1,-2.7l1,-.6l1,-.2l1,2.3l1,-.1l1,-1.3l1,.2l1,-.7l1,-3l1,-2.4l1,-1.3l1,-3.2l1,-.3l1,-4.4l1,-3.4l1,-2.8l1,-2.2l1,-2.2l1,-1.1l1,-.9l1,-3.9l1,-4.3l1,-2l1,-1.8l1,-.5l1,2.4l1,2.8l1,5.7l1,.7l1,2.2l1,5.3l1,-.1l1,-3.9l1,-4.9l1,-2.5l1,-3.1l1,-4.2l1,-1.7l1,1.5l1,4.7l1,1.4l1,4.3l1,1.7l1,2.2l1,3.4l1,-1.2l1,-1.9l1,-4.2l1,-2.6l1,-2.4l1,-2.7l1,-1.1l1,2.4l1,5l1,2l1,2.4l1,-6.9l1,-9.8l1,-14.1l1,-11.5l1,-9l1,-10.5l1,-11.6l1,-8.8l1,-6.9l1,-6.2l1,-7l1,-5.3l1,8.2l1,13.4l1,10.3l1,11.2l1,14.1l1,12.8l1,7.3l1,-4.5l1,-.6l1,0l1,-2l1,1.3l1,3.4l1,6.2l1,2.2l1,4.6l1,.4l1,-6.6l1,-5.8l1,-7.1l1,-6.5l1,-6.2l1,-6.5l1,-2.8l1,-5.1l1,-1.7l1,-5.9l1,-4.6l1,-1.9l1,-2.6l1,-.7l1,-3.5l1,-12.8l1,-13.2l1,-8l1,-2.4l1,-7.3l1,-5.1l1,6.1l1,9.9l1,7.9l1,8.1l1,9.2l1,10.7l1,9.4l1,9.7l1,4.2l1,3.4l1,4l1,-.4l1,-4.3l1,-6.5l1,-6.1l1,-5.1l1,-5.3l1,.7l1,.1l1,-.3l1,1.1l1,-16.8l1,-22.6l1,-11.6l1,8.7l1,5.6l1,6.8l1,7.1l1,-.4l1,2.3l1,.1l1,2l1,2.5l1,3.2l1,-2.8l1,-5l1,-3.7l1,-4.8l1,-5.1l1,2.9l1,4.5l1,6.5l1,6.8l1,-.1l1,-.7l1,-1.5l1,1l1,.3l1,1.2l1,.2l1,-.6l1,3.6l1,5.1l1,3.2l1,5l1,3.1l1,-2.4l1,-2l1,-4l1,-8.7l1,-6.7l1,-3.8l1,-5.4l1,2l1,3.5l1,5.7l1,4.9l1,1.8l1,1.3l1,3.4l1,1l1,2.4l1,.6l1,.4l1,4.6l1,3.2l1,2.6l1,3.7l1,2l1,1.5l1,-1.2l1,-.9l1,-.5l1,-.1l1,.4l1,-.5l1,-1.1l1,1.1l1,-.1l1,4.7l1,.5l1,3.1l1,.5l1,1.8l1,2.2l1,3l1,2l1,-.5l1,1.4l1,2.3l1,.4l1,-.1l1,1.8l1,2l1,.8l1,.5l1,-2.3l1,.5l1,0l1,1l1,-1l1,1.8l1,.1l1,1.1l1,.4l1,2.5l1,1.1l1,-.1l1,.1l1,.1l1,1.2l1,1.2l1,1l1,0l1,1.2l1,1.3l1,.2l1,-.1l1,.9l1,1.3l1,2.6l1,2.1l1,3.3l1,.9l1,.1l1,4.9l1,.7l1,-2.5l1,.1l1,-.6l1,-1.3l1,.7l1,2.3l1,-1.7l1,-1.2l1,.5l1,-.9l1,.2l1,1.2l1,1.1l1,3.8l1,1.6l1,1.9l1,1.8l1,3.8l1,2.7l1,2.7l1,4.9l1,0l1,3.9l1,.4l1,2.1l1,1.8l1,.1l1,-.3l1,1.9l1,3.4l1,-1.8l1,-4.6l1,-4.8l1,-2.4l1,-1.4l1,1.9l1,.5l1,1.7l1,-.7l1,1.8l1,-.9l1,-.7l1,2.7l1,2.6l1,.8l1,3.6l1,2.3l1,1.2l1,3.1l1,1.3l1,-1.4l1,-1.6l1,1.3l1,-.5l1,-2.1l1,-1.1l1,-.7l1,-.7l1,-3.3l1,-.5l1,-3l1,-.5l1,-4.3l1,-2.2l1,3l1,2.8l1,.4l1,2.6l1,.6l1,4.7l1,3.5l1,-.3l1,2l1,.5l1,2.6l1,.1l1,.9l1,-2.7l1,.5l1,.1l1,1l1,-.9l1,-4.3l1,-3.6l1,-4.2l1,-4.1l1,1.3l1,1.7l1,-.2l1,1.2l1,-.3l1,1.8l1,-.4l1,.5l1,2.7l1,1.2l1,2.1l1,.6l1,.1l1,2.1l1,.6l1,0l1,-.8l1,-3.9l1,.4l1,-1.6l1,-1.5l1,-.5l1,-2.3l1,-1.4l1,2.2l1,1.5l1,1.4l1,-1.7l1,-1.4l1,-1.3l1,-.2l1,-2.3l1,-1.2l1,-.3l1,-2.4l1,-.4l1,-1.8l1,.5l1,-1.9l1,-.1l1,-.3l1,-.1l1,-4.3l1,.8l1,.7l1,-2.6" fill="none" stroke="#B00000" stroke-width="4.5" stroke-linejoin="round" stroke-linecap="round"/>
<g shape-rendering="crispEdges">
<rect x="290.9" y="231.2" width="3.2" height="385.8" fill="#F7941A"/>
<rect x="2939.0" y="231.2" width="4.0" height="385.8" fill="#F7941A"/>
<rect x="290.9" y="617.0" width="3.2" height="385.6" fill="#660066"/>
<rect x="2939.0" y="617.0" width="4.0" height="385.6" fill="#660066"/>
<rect x="290.9" y="1002.6" width="3.2" height="385.7" fill="#00658C"/>
<rect x="2939.0" y="1002.6" width="4.0" height="385.7" fill="#00658C"/>
<rect x="290.9" y="1388.3" width="3.2" height="389.7" fill="#1A9200"/>
<rect x="2939.0" y="1388.3" width="4.0" height="389.7" fill="#1A9200"/>
<rect x="290.9" y="1778.0" width="3.2" height="389.2" fill="#B00000"/>
<rect x="2939.0" y="1778.0" width="4.0" height="389.2" fill="#B00000"/>
<rect x="294.0" y="333.9" width="27" height="3.4" fill="#F7941A"/>
<rect x="2912.0" y="333.9" width="27" height="3.4" fill="#F7941A"/>
<rect x="294.0" y="445.5" width="27" height="3.4" fill="#F7941A"/>
<rect x="2912.0" y="445.5" width="27" height="3.4" fill="#F7941A"/>
<rect x="294.0" y="557.1" width="27" height="3.4" fill="#F7941A"/>
<rect x="2912.0" y="557.1" width="27" height="3.4" fill="#F7941A"/>
<rect x="294.0" y="703.5" width="27" height="3.4" fill="#660066"/>
<rect x="2912.0" y="703.5" width="27" height="3.4" fill="#660066"/>
<rect x="294.0" y="799.6" width="27" height="3.4" fill="#660066"/>
<rect x="2912.0" y="799.6" width="27" height="3.4" fill="#660066"/>
<rect x="294.0" y="896.9" width="27" height="3.4" fill="#660066"/>
<rect x="2912.0" y="896.9" width="27" height="3.4" fill="#660066"/>
<rect x="294.0" y="994.2" width="27" height="3.4" fill="#660066"/>
<rect x="2912.0" y="994.2" width="27" height="3.4" fill="#660066"/>
<rect x="294.0" y="1082.8" width="27" height="3.4" fill="#00658C"/>
<rect x="2912.0" y="1082.8" width="27" height="3.4" fill="#00658C"/>
<rect x="294.0" y="1164.0" width="27" height="3.4" fill="#00658C"/>
<rect x="2912.0" y="1164.0" width="27" height="3.4" fill="#00658C"/>
<rect x="294.0" y="1245.2" width="27" height="3.4" fill="#00658C"/>
<rect x="2912.0" y="1245.2" width="27" height="3.4" fill="#00658C"/>
<rect x="294.0" y="1326.3" width="27" height="3.4" fill="#00658C"/>
<rect x="2912.0" y="1326.3" width="27" height="3.4" fill="#00658C"/>
<rect x="294.0" y="1416.7" width="27" height="3.4" fill="#1A9200"/>
<rect x="2912.0" y="1416.7" width="27" height="3.4" fill="#1A9200"/>
<rect x="294.0" y="1574.3" width="27" height="3.4" fill="#1A9200"/>
<rect x="2912.0" y="1574.3" width="27" height="3.4" fill="#1A9200"/>
<rect x="294.0" y="1731.8" width="27" height="3.4" fill="#1A9200"/>
<rect x="2912.0" y="1731.8" width="27" height="3.4" fill="#1A9200"/>
<rect x="294.0" y="1826.8" width="27" height="3.4" fill="#B00000"/>
<rect x="2912.0" y="1826.8" width="27" height="3.4" fill="#B00000"/>
<rect x="294.0" y="1908.6" width="27" height="3.4" fill="#B00000"/>
<rect x="2912.0" y="1908.6" width="27" height="3.4" fill="#B00000"/>
<rect x="294.0" y="1990.6" width="27" height="3.4" fill="#B00000"/>
<rect x="2912.0" y="1990.6" width="27" height="3.4" fill="#B00000"/>
<rect x="294.0" y="2072.5" width="27" height="3.4" fill="#B00000"/>
<rect x="2912.0" y="2072.5" width="27" height="3.4" fill="#B00000"/>
<rect x="294.0" y="2154.4" width="27" height="3.4" fill="#B00000"/>
<rect x="2912.0" y="2154.4" width="27" height="3.4" fill="#B00000"/>
<rect x="290.9" y="231" width="2652.1" height="4" fill="#262626"/>
<rect x="290.9" y="2163.6" width="2652.1" height="3.6" fill="#262626"/>
<rect x="607.3" y="233" width="3.4" height="27.6" fill="#262626"/>
<rect x="607.3" y="2137" width="3.4" height="28" fill="#262626"/>
<rect x="972.1" y="233" width="3.4" height="27.6" fill="#262626"/>
<rect x="972.1" y="2137" width="3.4" height="28" fill="#262626"/>
<rect x="1335.9" y="233" width="3.4" height="27.6" fill="#262626"/>
<rect x="1335.9" y="2137" width="3.4" height="28" fill="#262626"/>
<rect x="1699.6" y="233" width="3.4" height="27.6" fill="#262626"/>
<rect x="1699.6" y="2137" width="3.4" height="28" fill="#262626"/>
<rect x="2063.4" y="233" width="3.4" height="27.6" fill="#262626"/>
<rect x="2063.4" y="2137" width="3.4" height="28" fill="#262626"/>
<rect x="2428.2" y="233" width="3.4" height="27.6" fill="#262626"/>
<rect x="2428.2" y="2137" width="3.4" height="28" fill="#262626"/>
<rect x="2792.0" y="233" width="3.4" height="27.6" fill="#262626"/>
<rect x="2792.0" y="2137" width="3.4" height="28" fill="#262626"/>
</g>
<text x="609.0" y="2217.6" font-size="42" fill="#262626" stroke="#262626" stroke-width="0.7" text-anchor="middle" textLength="80.5" lengthAdjust="spacingAndGlyphs">2020</text>
<text x="973.8" y="2217.6" font-size="42" fill="#262626" stroke="#262626" stroke-width="0.7" text-anchor="middle" textLength="80.5" lengthAdjust="spacingAndGlyphs">2021</text>
<text x="1337.6" y="2217.6" font-size="42" fill="#262626" stroke="#262626" stroke-width="0.7" text-anchor="middle" textLength="80.5" lengthAdjust="spacingAndGlyphs">2022</text>
<text x="1701.3" y="2217.6" font-size="42" fill="#262626" stroke="#262626" stroke-width="0.7" text-anchor="middle" textLength="80.5" lengthAdjust="spacingAndGlyphs">2023</text>
<text x="2065.1" y="2217.6" font-size="42" fill="#262626" stroke="#262626" stroke-width="0.7" text-anchor="middle" textLength="80.5" lengthAdjust="spacingAndGlyphs">2024</text>
<text x="2429.9" y="2217.6" font-size="42" fill="#262626" stroke="#262626" stroke-width="0.7" text-anchor="middle" textLength="80.5" lengthAdjust="spacingAndGlyphs">2025</text>
<text x="2793.7" y="2217.6" font-size="42" fill="#262626" stroke="#262626" stroke-width="0.7" text-anchor="middle" textLength="80.5" lengthAdjust="spacingAndGlyphs">2026</text>
<text x="275.4" y="347.0" font-size="42" fill="#F7941A" stroke="#F7941A" stroke-width="0.7" text-anchor="end" textLength="80.8" lengthAdjust="spacingAndGlyphs">1500</text>
<text x="275.4" y="458.6" font-size="42" fill="#F7941A" stroke="#F7941A" stroke-width="0.7" text-anchor="end" textLength="80.8" lengthAdjust="spacingAndGlyphs">1000</text>
<text x="275.4" y="570.2" font-size="42" fill="#F7941A" stroke="#F7941A" stroke-width="0.7" text-anchor="end" textLength="60.8" lengthAdjust="spacingAndGlyphs">500</text>
<text x="275.4" y="1095.9" font-size="42" fill="#00658C" stroke="#00658C" stroke-width="0.7" text-anchor="end" textLength="80.8" lengthAdjust="spacingAndGlyphs">1022</text>
<text x="275.4" y="1177.1" font-size="42" fill="#00658C" stroke="#00658C" stroke-width="0.7" text-anchor="end" textLength="80.8" lengthAdjust="spacingAndGlyphs">1020</text>
<text x="275.4" y="1258.3" font-size="42" fill="#00658C" stroke="#00658C" stroke-width="0.7" text-anchor="end" textLength="80.8" lengthAdjust="spacingAndGlyphs">1018</text>
<text x="275.4" y="1339.4" font-size="42" fill="#00658C" stroke="#00658C" stroke-width="0.7" text-anchor="end" textLength="80.8" lengthAdjust="spacingAndGlyphs">1016</text>
<text x="275.4" y="1839.9" font-size="42" fill="#B00000" stroke="#B00000" stroke-width="0.7" text-anchor="end" textLength="40.8" lengthAdjust="spacingAndGlyphs">14</text>
<text x="275.4" y="1921.7" font-size="42" fill="#B00000" stroke="#B00000" stroke-width="0.7" text-anchor="end" textLength="40.8" lengthAdjust="spacingAndGlyphs">12</text>
<text x="275.4" y="2003.7" font-size="42" fill="#B00000" stroke="#B00000" stroke-width="0.7" text-anchor="end" textLength="40.8" lengthAdjust="spacingAndGlyphs">10</text>
<text x="275.4" y="2085.6" font-size="42" fill="#B00000" stroke="#B00000" stroke-width="0.7" text-anchor="end" textLength="20.8" lengthAdjust="spacingAndGlyphs">8</text>
<text x="275.4" y="2167.5" font-size="42" fill="#B00000" stroke="#B00000" stroke-width="0.7" text-anchor="end" textLength="20.8" lengthAdjust="spacingAndGlyphs">6</text>
<text x="2958.4" y="716.6" font-size="42" fill="#660066" stroke="#660066" stroke-width="0.7" textLength="20.0" lengthAdjust="spacingAndGlyphs">6</text>
<text x="2958.4" y="812.7" font-size="42" fill="#660066" stroke="#660066" stroke-width="0.7" textLength="20.0" lengthAdjust="spacingAndGlyphs">4</text>
<text x="2958.4" y="910.0" font-size="42" fill="#660066" stroke="#660066" stroke-width="0.7" textLength="20.0" lengthAdjust="spacingAndGlyphs">2</text>
<text x="2958.4" y="1007.3" font-size="42" fill="#660066" stroke="#660066" stroke-width="0.7" textLength="20.0" lengthAdjust="spacingAndGlyphs">0</text>
<text x="2958.4" y="1429.8" font-size="42" fill="#1A9200" stroke="#1A9200" stroke-width="0.7" textLength="40.0" lengthAdjust="spacingAndGlyphs">30</text>
<text x="2958.4" y="1587.4" font-size="42" fill="#1A9200" stroke="#1A9200" stroke-width="0.7" textLength="40.0" lengthAdjust="spacingAndGlyphs">25</text>
<text x="2958.4" y="1744.9" font-size="42" fill="#1A9200" stroke="#1A9200" stroke-width="0.7" textLength="40.0" lengthAdjust="spacingAndGlyphs">20</text>
<text x="2940.0" y="91.0" font-size="45" fill="#000" stroke="#000" stroke-width="0.7" text-anchor="end" textLength="1559.0" lengthAdjust="spacingAndGlyphs">CO2 Partial Pressure, Oxygen, Density, Salinity and Sea Water Temperature</text>
<text x="2940.0" y="148.4" font-size="45" fill="#000" stroke="#000" stroke-width="0.7" text-anchor="end" textLength="1724.0" lengthAdjust="spacingAndGlyphs">Burrard Inlet <tspan font-size="54" dy="3">&#8226;</tspan><tspan dy="-3"> </tspan>Burrard Inlet Underwater Network <tspan font-size="54" dy="3">&#8226;</tspan><tspan dy="-3"> </tspan>49.301&#176;N <tspan font-size="54" dy="3">&#8226;</tspan><tspan dy="-3"> </tspan>123.111&#176;W <tspan font-size="54" dy="3">&#8226;</tspan><tspan dy="-3"> </tspan>28.4 m</text>
<text x="2940.0" y="204.0" font-size="45" fill="#000" stroke="#000" stroke-width="0.7" text-anchor="end" textLength="1572.0" lengthAdjust="spacingAndGlyphs">State of Ocean Plot <tspan font-size="54" dy="3">&#8226;</tspan><tspan dy="-3"> </tspan>1 Day Clean Min/Max (Bars) + Clean Average (Lines)</text>
<text x="1616.5" y="2274.6" font-size="45" fill="#000" stroke="#000" stroke-width="0.7" text-anchor="middle" textLength="386.0" lengthAdjust="spacingAndGlyphs">Time (years, UTC)</text>
<text x="162.4" y="2318.0" font-size="34.5" fill="#000" stroke="#000" stroke-width="0.7" textLength="2339.0" lengthAdjust="spacingAndGlyphs">Sample period: 1 second (average). Comments: Acknowledgement: Tsleil-Waututh Nation (owner); Ocean Networks Canada Society (custodian, distributor). Clean Data</text>
<text x="162.4" y="2355.5" font-size="34.5" fill="#000" stroke="#000" stroke-width="0.7" textLength="2275.0" lengthAdjust="spacingAndGlyphs">(major quality failures (QAQC 3,4,6) excluded): all data plotted pass QAQC. QAQC testing complete, manual QAQC screening may be needed for recent data. See</text>
<text x="162.4" y="2391.5" font-size="34.5" fill="#000" stroke="#000" stroke-width="0.7" textLength="358.0" lengthAdjust="spacingAndGlyphs">documentation for details.</text>
<text x="2566.5" y="2377.0" font-size="34.5" fill="#000" stroke="#000" stroke-width="0.7" textLength="583.5" lengthAdjust="spacingAndGlyphs" style="font-style:italic">Plot generated 20-Apr-2026 04:11:01 UTC</text>
<g fill="#149CC2" fill-rule="evenodd"><path transform="translate(306.1,61.5)" d="M3.2,0H21.1L24.3,3.2V29.8L21.1,33H3.2L0,29.8V3.2ZM8.5,6.5V26.5H15.8V6.5Z"/><path transform="translate(339.2,61.5)" d="M3.2,0H20L23.2,3.2V11.5H15.2V6.5H8.5V26.5H15.2V21.5H23.2V29.8L20,33H3.2L0,29.8V3.2Z"/><path transform="translate(371.0,61.5)" d="M0,0H21V6.5H8.5V13.3H18.5V19.6H8.5V26.5H21V33H0Z"/><path transform="translate(396.0,61.5)" d="M8.9,0H18.5L27.4,33H18.7L17.4,26.5H10L8.7,33H0ZM13.7,8.5L16.3,20.3H11.1Z"/><path transform="translate(429.6,61.5)" d="M0,0H8.2L16.7,18.5V0H25V33H16.8L8.3,14.5V33H0Z"/><path transform="translate(478.3,61.5)" d="M0,0H8.2L16.7,18.5V0H25V33H16.8L8.3,14.5V33H0Z"/><path transform="translate(511.3,61.5)" d="M0,0H21V6.5H8.5V13.3H18.5V19.6H8.5V26.5H21V33H0Z"/><path transform="translate(535.9,61.5)" d="M0,0H24V6.5H16.25V33H7.75V6.5H0Z"/><path transform="translate(562.2,61.5)" d="M0,0H8.6L12.6,22L17.3,0H25.7L30.4,22L34.4,0H43L35.6,33H26.6L21.5,11.5L16.4,33H7.4Z"/><path transform="translate(610.2,61.5)" d="M3.2,0H21.1L24.3,3.2V29.8L21.1,33H3.2L0,29.8V3.2ZM8.5,6.5V26.5H15.8V6.5Z"/><path transform="translate(640.7,61.5)" d="M0,0H21.3L25,3.7V15.6L22.3,18.6L25.5,33H17L14.2,20H8.5V33H0ZM8.5,6.5V13.6H16.6V6.5Z"/><path transform="translate(675.3,61.5)" d="M0,0H8.5V12.3L16.3,0H25.5L15.6,15.3L25.5,33H16.3L10.2,21.2L8.5,23.6V33H0Z"/><path transform="translate(706.0,61.5)" d="M3.2,0H21.3L24.5,3.2V10.5H16V6.5H8.5V13.1H21.3L24.5,16.3V29.8L21.3,33H3.2L0,29.8V22.5H8.5V26.5H16V19.7H3.2L0,16.5V3.2Z"/><path transform="translate(750.8,61.5)" d="M3.2,0H20L23.2,3.2V11.5H15.2V6.5H8.5V26.5H15.2V21.5H23.2V29.8L20,33H3.2L0,29.8V3.2Z"/><path transform="translate(780.8,61.5)" d="M8.9,0H18.5L27.4,33H18.7L17.4,26.5H10L8.7,33H0ZM13.7,8.5L16.3,20.3H11.1Z"/><path transform="translate(815.0,61.5)" d="M0,0H8.2L16.7,18.5V0H25V33H16.8L8.3,14.5V33H0Z"/><path transform="translate(847.3,61.5)" d="M8.9,0H18.5L27.4,33H18.7L17.4,26.5H10L8.7,33H0ZM13.7,8.5L16.3,20.3H11.1Z"/><path transform="translate(880.5,61.5)" d="M0,0H21.5L25.5,4V29L21.5,33H0ZM8.5,6.5V26.5H17V6.5Z"/><path transform="translate(910.6,61.5)" d="M8.9,0H18.5L27.4,33H18.7L17.4,26.5H10L8.7,33H0ZM13.7,8.5L16.3,20.3H11.1Z"/></g>
<text transform="translate(108.0,423.5) rotate(-90)" font-size="46" fill="#F7941A" stroke="#F7941A" stroke-width="0.7" text-anchor="middle" textLength="427.0" lengthAdjust="spacingAndGlyphs">CO2 Partial Pressure</text>
<text transform="translate(164.3,425.5) rotate(-90)" font-size="46" fill="#F7941A" stroke="#F7941A" stroke-width="0.7" text-anchor="middle" textLength="249.0" lengthAdjust="spacingAndGlyphs">(pCO<tspan dy="-16" font-size="30">2</tspan><tspan dy="16" font-style="italic">uatm</tspan>)</text>
<text transform="translate(3024.0,809.6) rotate(-90)" font-size="46" fill="#660066" stroke="#660066" stroke-width="0.7" text-anchor="middle" textLength="663.0" lengthAdjust="spacingAndGlyphs">Oxygen Concentration Corrected</text>
<text transform="translate(3087.0,810.8) rotate(-90)" font-size="46" fill="#660066" stroke="#660066" stroke-width="0.7" text-anchor="middle" textLength="114.0" lengthAdjust="spacingAndGlyphs">(ml/l)</text>
<text transform="translate(162.7,1199.0) rotate(-90)" font-size="46" fill="#00658C" stroke="#00658C" stroke-width="0.7" text-anchor="middle" textLength="325.6" lengthAdjust="spacingAndGlyphs">Density (kg/m<tspan dy="-16" font-size="30">3</tspan><tspan dy="16">)</tspan></text>
<text transform="translate(3050.6,1585.5) rotate(-90)" font-size="46" fill="#1A9200" stroke="#1A9200" stroke-width="0.7" text-anchor="middle" textLength="488.0" lengthAdjust="spacingAndGlyphs">Absolute Salinity (g/kg)</text>
<text transform="translate(206.5,1972.8) rotate(-90)" font-size="46" fill="#B00000" stroke="#B00000" stroke-width="0.7" text-anchor="middle" textLength="339.5" lengthAdjust="spacingAndGlyphs">Temperature (C)</text>
</svg>
</body></html>
